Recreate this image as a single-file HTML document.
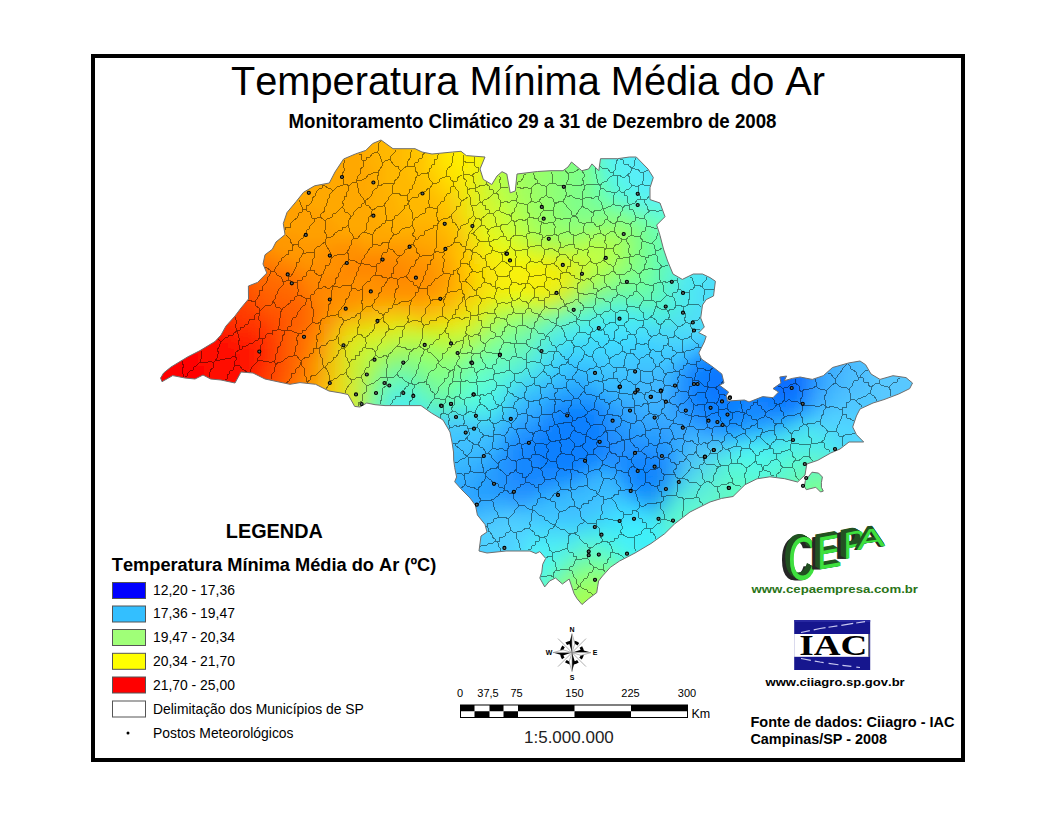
<!DOCTYPE html>
<html><head><meta charset="utf-8">
<style>
html,body{margin:0;padding:0;background:#fff;width:1056px;height:816px;overflow:hidden}
svg{position:absolute;left:0;top:0}
text{font-family:"Liberation Sans",sans-serif;font-kerning:none}
</style></head><body>
<svg width="1056" height="816" viewBox="0 0 1056 816">
<defs>
<clipPath id="sp"><polygon points="160.6,378.0 163.6,373.0 171.0,367.0 188.0,356.7 200.0,350.6 215.0,341.5 221.0,335.0 226.0,326.0 235.0,316.0 241.0,308.0 248.5,299.0 248.4,286.0 257.6,282.4 266.8,273.0 263.0,264.0 265.0,254.8 272.3,249.3 276.0,242.0 285.0,234.6 283.3,223.5 287.0,212.5 296.2,201.5 303.5,192.3 314.6,185.8 329.3,183.0 335.0,172.0 343.6,159.0 355.6,153.9 365.8,150.4 372.6,143.6 381.0,140.0 393.0,148.7 415.0,148.7 422.0,152.0 432.0,154.0 452.7,152.0 461.0,151.3 466.3,155.6 485.0,157.0 480.0,169.0 483.3,179.4 491.8,184.5 497.0,176.0 502.0,171.7 506.8,174.0 510.2,192.8 515.3,191.0 517.0,174.0 537.5,171.5 551.0,170.7 563.0,170.7 568.0,167.0 571.5,162.0 581.8,170.7 588.6,169.0 592.0,163.9 598.8,170.7 600.5,158.7 617.5,158.7 629.5,157.0 636.3,157.0 648.0,169.0 653.3,177.5 650.0,187.7 650.0,199.6 660.0,203.0 665.0,216.7 656.7,225.0 660.0,235.4 663.5,249.0 667.6,261.0 673.0,274.0 682.3,279.4 693.3,274.0 702.5,274.0 710.0,277.6 715.4,281.2 713.5,296.0 706.2,299.6 702.5,305.0 700.7,318.0 704.3,327.0 698.8,332.7 706.2,336.4 704.3,342.0 698.8,353.0 701.4,359.0 711.6,366.0 721.8,373.9 724.0,383.0 719.5,385.2 728.6,392.0 726.4,395.5 727.5,401.0 744.5,400.0 749.0,402.0 762.7,396.6 773.0,397.7 778.6,392.0 773.0,388.6 781.0,383.0 779.8,377.0 786.6,376.0 784.3,380.7 792.3,378.4 800.2,377.0 803.0,377.6 812.3,379.4 823.3,375.7 832.5,367.5 849.0,362.9 860.0,361.0 865.6,364.7 871.0,374.0 880.0,379.4 893.0,375.7 906.0,377.6 912.5,383.0 909.7,388.6 898.7,394.0 884.0,399.6 873.0,403.0 860.0,409.0 856.4,416.0 852.7,427.0 856.4,434.6 863.7,442.0 849.0,442.0 840.0,449.0 830.7,453.0 817.8,460.3 806.8,464.0 805.0,475.0 797.6,482.0 784.7,478.7 770.0,476.8 757.0,478.8 745.0,484.7 733.0,496.5 721.6,498.4 710.0,502.0 690.0,512.0 674.5,524.0 664.7,533.7 651.0,543.5 635.0,553.0 619.6,561.0 610.4,567.3 602.5,576.0 598.6,581.0 597.6,586.9 596.7,592.7 588.8,598.6 582.0,604.5 577.0,598.6 574.1,593.7 571.2,585.0 569.2,579.0 562.4,584.0 555.5,578.0 549.6,581.0 544.7,586.9 539.8,578.0 541.8,572.2 542.7,564.3 545.7,558.4 539.8,551.6 535.9,553.5 530.0,551.0 525.0,551.0 506.0,551.0 487.0,553.0 479.0,551.0 481.0,536.0 487.0,532.0 485.0,524.5 477.4,515.0 475.5,505.5 470.0,498.0 462.0,490.0 454.7,481.8 456.6,477.0 454.7,467.6 453.7,460.0 453.5,452.0 452.0,442.0 450.0,432.0 443.0,420.0 431.4,413.0 421.0,405.6 409.0,405.6 399.0,405.6 385.0,405.6 375.0,404.7 366.7,403.0 360.0,407.0 354.7,406.4 348.0,394.5 341.0,393.0 329.0,391.0 315.6,384.3 300.0,382.6 290.0,384.3 279.0,382.0 265.0,379.0 253.0,373.0 241.0,372.0 235.0,383.0 221.0,380.0 210.6,379.0 203.0,375.0 195.0,379.0 185.0,378.0 172.7,375.6 162.0,381.7"/><polygon points="805.3,480.7 812.0,472.2 818.6,473.1 822.4,477.0 821.4,482.6 821.4,487.3 823.3,491.1 820.5,492.0 815.8,487.3 806.3,489.7 804.4,486.4"/></clipPath>
<filter id="bl" x="-5%" y="-5%" width="110%" height="110%"><feGaussianBlur stdDeviation="4"/></filter>
<linearGradient id="iacb" x1="0" y1="0" x2="1" y2="1"><stop offset="0" stop-color="#3a3aa8"/><stop offset="1" stop-color="#1c1c78"/></linearGradient>
</defs>
<rect x="93" y="56" width="870" height="704" fill="none" stroke="#000" stroke-width="4"/>
<text x="231" y="94.8" font-size="41.5" textLength="594" lengthAdjust="spacingAndGlyphs">Temperatura Mínima Média do Ar</text>
<text x="288.5" y="127.8" font-size="20" font-weight="bold" textLength="488" lengthAdjust="spacingAndGlyphs">Monitoramento Climático 29 a 31 de Dezembro de 2008</text>
<g clip-path="url(#sp)">
<g filter="url(#bl)"><path fill="#c8b848" d="M150 132h12v6h-12zM150 138h6v6h-6zM264 516h6v6h-6z"/><path fill="#c8b840" d="M162 132h6v6h-6zM156 138h12v6h-12zM150 144h12v6h-12zM150 150h12v6h-12zM150 156h6v6h-6zM150 162h6v6h-6z"/><path fill="#d0b838" d="M168 132h6v6h-6zM162 144h6v6h-6zM270 516h6v6h-6z"/><path fill="#e8b018" d="M174 132h6v6h-6z"/><path fill="#f8a808" d="M180 132h6v6h-6zM174 144h6v6h-6zM168 156h6v6h-6zM168 162h6v6h-6zM162 186h6v6h-6zM342 312h6v6h-6zM330 324h6v6h-6zM324 336h6v6h-6zM318 360h6v6h-6zM318 366h6v6h-6zM318 372h6v6h-6zM270 504h6v6h-6z"/><path fill="#ffa800" d="M186 132h180v6h-180zM180 138h186v6h-186zM180 144h186v6h-186zM174 150h192v6h-192zM174 156h192v6h-192zM174 162h192v6h-192zM168 168h204v6h-204zM168 174h204v6h-204zM168 180h204v6h-204zM168 186h204v6h-204zM198 192h174v6h-174zM288 198h84v6h-84zM312 204h60v6h-60zM324 210h54v6h-54zM330 216h48v6h-48zM336 222h48v6h-48zM342 228h54v6h-54zM366 234h66v6h-66zM420 240h18v6h-18zM432 246h12v6h-12zM438 252h6v6h-6zM444 258h6v6h-6zM444 264h6v6h-6zM450 276h6v6h-6zM444 288h6v6h-6zM438 294h6v6h-6zM378 300h6v6h-6zM402 300h12v6h-12zM420 300h12v6h-12z"/><path fill="#ffb000" d="M366 132h6v6h-6zM366 138h12v6h-12zM366 144h12v6h-12zM366 150h12v6h-12zM366 156h12v6h-12zM366 162h18v6h-18zM372 168h12v6h-12zM372 174h12v6h-12zM372 180h12v6h-12zM372 186h18v6h-18zM372 192h18v6h-18zM372 198h24v6h-24zM372 204h24v6h-24zM378 210h24v6h-24zM378 216h30v6h-30zM384 222h48v6h-48zM396 228h42v6h-42zM432 234h12v6h-12zM438 240h12v6h-12zM444 246h6v6h-6zM444 252h6v6h-6zM450 258h6v6h-6zM450 264h6v6h-6zM450 270h6v6h-6zM450 282h6v6h-6zM450 288h6v6h-6zM444 294h6v6h-6zM432 300h12v6h-12z"/><path fill="#ffb800" d="M372 132h30v6h-30zM378 138h24v6h-24zM378 144h24v6h-24zM378 150h24v6h-24zM378 156h24v6h-24zM384 162h18v6h-18zM384 168h24v6h-24zM384 174h24v6h-24zM384 180h30v6h-30zM390 186h30v6h-30zM390 192h30v6h-30zM396 198h36v6h-36zM396 204h36v6h-36zM402 210h36v6h-36zM408 216h36v6h-36zM432 222h12v6h-12zM438 228h12v6h-12zM444 234h6v6h-6zM450 240h6v6h-6zM450 246h6v6h-6zM450 252h6v6h-6zM456 264h6v6h-6zM456 270h6v6h-6zM456 276h6v6h-6zM456 282h6v6h-6zM456 288h6v6h-6zM450 294h6v6h-6z"/><path fill="#ffc000" d="M402 132h12v6h-12zM402 138h12v6h-12zM402 144h12v6h-12zM402 150h12v6h-12zM402 156h18v6h-18zM402 162h18v6h-18zM408 168h12v6h-12zM408 174h18v6h-18zM414 180h12v6h-12zM420 186h12v6h-12zM420 192h18v6h-18zM432 198h12v6h-12zM432 204h12v6h-12zM438 210h12v6h-12zM444 216h6v6h-6zM444 222h6v6h-6zM450 228h6v6h-6zM450 234h6v6h-6zM456 246h6v6h-6zM456 252h6v6h-6zM456 258h6v6h-6zM462 270h6v6h-6zM462 276h6v6h-6zM462 282h6v6h-6z"/><path fill="#ffc800" d="M414 132h6v6h-6zM414 138h6v6h-6zM414 144h12v6h-12zM414 150h12v6h-12zM420 156h6v6h-6zM420 162h6v6h-6zM420 168h6v6h-6zM426 174h6v6h-6zM426 180h12v6h-12zM432 186h6v6h-6zM438 192h6v6h-6zM444 198h6v6h-6zM444 204h6v6h-6zM462 252h6v6h-6zM462 258h6v6h-6zM462 264h6v6h-6zM468 276h6v6h-6z"/><path fill="#ffd000" d="M420 132h6v6h-6zM420 138h6v6h-6zM426 144h6v6h-6zM426 150h6v6h-6zM426 156h6v6h-6zM426 162h6v6h-6zM426 168h12v6h-12zM432 174h6v6h-6zM438 180h6v6h-6zM438 186h12v6h-12zM444 192h6v6h-6zM468 264h6v6h-6zM468 270h6v6h-6z"/><path fill="#ffd800" d="M426 132h6v6h-6zM426 138h6v6h-6zM432 144h6v6h-6zM432 150h6v6h-6zM432 156h6v6h-6zM432 162h6v6h-6zM438 168h6v6h-6zM438 174h6v6h-6zM444 180h6v6h-6zM474 270h6v6h-6z"/><path fill="#ffe000" d="M432 132h6v6h-6zM432 138h12v6h-12zM438 144h6v6h-6zM438 150h6v6h-6zM438 156h6v6h-6zM438 162h12v6h-12zM444 168h6v6h-6zM444 174h12v6h-12zM450 180h6v6h-6z"/><path fill="#ffe800" d="M438 132h12v6h-12zM444 138h6v6h-6zM444 144h12v6h-12zM444 150h12v6h-12zM444 156h12v6h-12zM450 162h12v6h-12zM450 168h12v6h-12z"/><path fill="#fff000" d="M450 132h18v6h-18zM450 138h24v6h-24zM456 144h18v6h-18zM456 150h18v6h-18zM456 156h18v6h-18zM462 162h6v6h-6z"/><path fill="#fff800" d="M468 132h18v6h-18zM474 138h6v6h-6zM474 144h6v6h-6z"/><path fill="#f8f808" d="M486 132h6v6h-6zM480 138h12v6h-12zM480 144h6v6h-6zM474 150h12v6h-12zM474 156h6v6h-6zM516 264h6v6h-6z"/><path fill="#f0f810" d="M492 132h6v6h-6zM486 144h6v6h-6zM480 156h6v6h-6zM504 252h6v6h-6zM510 258h18v6h-18zM516 288h6v6h-6z"/><path fill="#e0f820" d="M498 132h6v6h-6zM492 144h6v6h-6zM486 156h6v6h-6zM480 168h6v6h-6zM486 222h6v6h-6zM486 228h12v6h-12zM492 234h12v6h-12zM498 240h12v6h-12zM510 246h12v6h-12zM522 252h12v6h-12zM516 294h18v6h-18z"/><path fill="#c8ff38" d="M504 132h6v6h-6zM498 204h6v6h-6zM498 210h6v6h-6zM504 216h6v6h-6zM504 222h6v6h-6zM510 228h6v6h-6zM516 234h6v6h-6z"/><path fill="#b0ff50" d="M510 132h6v6h-6zM510 138h6v6h-6zM504 150h6v6h-6zM504 156h6v6h-6zM504 174h6v6h-6zM504 180h6v6h-6zM504 186h12v6h-12zM510 192h6v6h-6zM510 198h6v6h-6zM516 204h6v6h-6zM516 210h6v6h-6zM522 216h6v6h-6zM522 222h6v6h-6zM528 228h6v6h-6zM534 234h6v6h-6zM588 240h18v6h-18zM606 246h6v6h-6zM606 252h6v6h-6zM606 258h6v6h-6zM600 264h6v6h-6zM594 270h6v6h-6z"/><path fill="#a8ff58" d="M516 132h6v6h-6zM510 144h6v6h-6zM510 150h6v6h-6zM504 162h6v6h-6zM504 168h12v6h-12zM510 174h6v6h-6zM510 180h12v6h-12zM516 186h6v6h-6zM516 192h6v6h-6zM516 198h12v6h-12zM522 204h6v6h-6zM522 210h6v6h-6zM528 216h6v6h-6zM528 222h6v6h-6zM534 228h6v6h-6zM540 234h12v6h-12zM564 240h18v6h-18zM606 240h12v6h-12zM612 246h6v6h-6zM612 252h6v6h-6zM606 264h6v6h-6zM600 270h6v6h-6zM594 276h6v6h-6zM438 348h12v6h-12zM594 594h6v6h-6zM576 600h12v6h-12zM618 600h12v6h-12zM564 606h12v6h-12zM642 606h6v6h-6z"/><path fill="#a0ff60" d="M522 132h6v6h-6zM516 138h12v6h-12zM516 144h6v6h-6zM516 150h6v6h-6zM516 156h12v6h-12zM516 162h12v6h-12zM516 168h12v6h-12zM516 174h12v6h-12zM522 180h6v6h-6zM522 186h12v6h-12zM522 192h12v6h-12zM528 198h6v6h-6zM528 204h6v6h-6zM528 210h12v6h-12zM534 216h6v6h-6zM534 222h12v6h-12zM540 228h12v6h-12zM552 234h12v6h-12zM582 234h6v6h-6zM612 234h6v6h-6zM618 240h6v6h-6zM618 246h6v6h-6zM618 252h6v6h-6zM420 348h12v6h-12zM582 588h30v6h-30zM570 594h12v6h-12zM618 594h12v6h-12zM564 600h6v6h-6zM636 600h12v6h-12zM558 606h6v6h-6zM654 606h6v6h-6z"/><path fill="#98ff68" d="M528 132h18v6h-18zM528 138h18v6h-18zM528 144h18v6h-18zM528 150h18v6h-18zM528 156h18v6h-18zM528 162h18v6h-18zM528 168h18v6h-18zM528 174h12v6h-12zM528 180h12v6h-12zM534 186h6v6h-6zM534 192h6v6h-6zM534 198h12v6h-12zM534 204h12v6h-12zM540 210h6v6h-6zM540 216h12v6h-12zM546 222h6v6h-6zM552 228h12v6h-12zM594 228h6v6h-6zM606 228h6v6h-6zM618 234h6v6h-6zM426 354h24v6h-24zM588 582h18v6h-18zM576 588h6v6h-6zM612 588h12v6h-12zM564 594h6v6h-6zM636 594h6v6h-6zM558 600h6v6h-6zM648 600h6v6h-6zM552 606h6v6h-6z"/><path fill="#90ff70" d="M546 132h12v6h-12zM546 138h12v6h-12zM546 144h12v6h-12zM546 150h12v6h-12zM546 156h6v6h-6zM546 162h6v6h-6zM546 168h6v6h-6zM546 174h6v6h-6zM546 180h6v6h-6zM546 186h6v6h-6zM546 192h6v6h-6zM546 198h6v6h-6zM546 204h6v6h-6zM546 210h12v6h-12zM552 216h6v6h-6zM558 222h6v6h-6zM570 228h6v6h-6zM624 234h6v6h-6zM624 258h6v6h-6zM408 354h6v6h-6zM576 582h6v6h-6zM612 582h6v6h-6z"/><path fill="#88ff78" d="M558 132h6v6h-6zM558 138h6v6h-6zM558 144h6v6h-6zM558 150h6v6h-6zM558 156h6v6h-6zM558 162h6v6h-6zM558 168h6v6h-6zM558 174h6v6h-6zM558 180h6v6h-6zM558 186h6v6h-6zM558 192h6v6h-6zM558 198h6v6h-6zM558 204h6v6h-6zM558 210h6v6h-6zM564 216h6v6h-6zM630 252h6v6h-6zM420 360h6v6h-6zM816 516h48v6h-48zM810 522h60v6h-60zM810 528h72v6h-72zM804 534h84v6h-84zM804 540h90v6h-90zM798 546h108v6h-108zM798 552h114v6h-114zM798 558h120v6h-120zM798 564h120v6h-120zM798 570h114v6h-114zM792 576h114v6h-114zM792 582h108v6h-108zM792 588h102v6h-102zM792 594h90v6h-90zM792 600h78v6h-78zM798 606h60v6h-60z"/><path fill="#88ff80" d="M564 132h6v6h-6zM564 138h6v6h-6zM564 144h6v6h-6zM564 150h6v6h-6zM564 156h6v6h-6zM564 162h6v6h-6zM564 168h6v6h-6zM564 174h6v6h-6zM564 180h6v6h-6zM564 186h6v6h-6zM564 192h6v6h-6zM564 198h6v6h-6zM564 204h6v6h-6zM564 210h12v6h-12zM570 216h12v6h-12zM594 216h12v6h-12zM624 222h6v6h-6zM630 228h6v6h-6zM630 234h6v6h-6zM630 258h6v6h-6zM624 270h6v6h-6zM414 360h6v6h-6zM426 366h24v6h-24zM822 504h30v6h-30zM816 510h48v6h-48zM810 516h6v6h-6zM864 516h12v6h-12zM804 522h6v6h-6zM870 522h12v6h-12zM804 528h6v6h-6zM882 528h6v6h-6zM798 534h6v6h-6zM888 534h6v6h-6zM798 540h6v6h-6zM894 540h6v6h-6zM792 552h6v6h-6zM792 558h6v6h-6zM792 564h6v6h-6zM792 570h6v6h-6zM576 576h6v6h-6zM606 576h6v6h-6zM624 582h6v6h-6zM666 600h6v6h-6zM792 606h6v6h-6z"/><path fill="#80ff88" d="M570 132h6v6h-6zM576 138h6v6h-6zM576 144h6v6h-6zM576 150h6v6h-6zM576 156h6v6h-6zM576 162h6v6h-6zM576 168h6v6h-6zM570 174h12v6h-12zM570 180h12v6h-12zM570 186h12v6h-12zM570 192h12v6h-12zM570 198h12v6h-12zM570 204h12v6h-12zM576 210h18v6h-18zM636 234h6v6h-6zM636 240h6v6h-6zM636 246h6v6h-6zM636 252h6v6h-6zM636 258h6v6h-6zM630 270h6v6h-6zM420 366h6v6h-6zM450 366h6v6h-6zM432 372h12v6h-12zM822 492h12v6h-12zM810 498h42v6h-42zM804 504h12v6h-12zM852 504h6v6h-6zM798 510h12v6h-12zM798 516h6v6h-6zM792 522h6v6h-6zM792 528h6v6h-6zM786 540h6v6h-6zM786 546h6v6h-6zM786 552h6v6h-6zM786 558h6v6h-6zM786 564h6v6h-6zM600 570h6v6h-6zM786 606h6v6h-6z"/><path fill="#80ff90" d="M576 132h6v6h-6zM582 192h6v6h-6zM582 198h6v6h-6zM582 204h12v6h-12zM594 210h18v6h-18zM624 216h6v6h-6zM630 222h6v6h-6zM636 228h6v6h-6zM636 264h6v6h-6zM624 276h6v6h-6zM618 282h6v6h-6zM510 330h6v6h-6zM462 360h6v6h-6zM456 366h6v6h-6zM426 372h6v6h-6zM444 372h6v6h-6zM438 378h6v6h-6zM816 492h6v6h-6zM834 492h6v6h-6zM804 498h6v6h-6zM798 504h6v6h-6zM792 516h6v6h-6zM576 570h6v6h-6zM606 570h6v6h-6zM618 576h6v6h-6zM636 582h6v6h-6zM648 588h6v6h-6zM660 594h6v6h-6z"/><path fill="#78ffa0" d="M582 132h6v6h-6zM588 168h6v6h-6zM588 174h6v6h-6zM594 198h6v6h-6zM606 204h6v6h-6zM618 210h6v6h-6zM630 216h6v6h-6zM510 336h6v6h-6zM504 342h6v6h-6zM492 348h6v6h-6zM480 354h6v6h-6zM462 366h6v6h-6zM456 372h6v6h-6zM450 378h6v6h-6zM444 384h6v6h-6zM816 480h6v6h-6zM804 486h6v6h-6zM792 498h6v6h-6zM786 510h6v6h-6zM600 564h6v6h-6zM618 570h6v6h-6zM630 576h6v6h-6zM642 582h6v6h-6zM534 606h6v6h-6z"/><path fill="#70f8b8" d="M588 132h6v6h-6zM600 300h6v6h-6zM570 312h6v6h-6zM558 318h6v6h-6zM534 330h6v6h-6zM528 336h6v6h-6zM510 348h6v6h-6zM384 384h6v6h-6zM378 396h6v6h-6zM558 570h6v6h-6z"/><path fill="#60f8d0" d="M594 132h6v6h-6zM600 162h6v6h-6zM606 180h6v6h-6zM612 192h6v6h-6zM624 198h6v6h-6zM672 222h6v6h-6zM672 228h6v6h-6zM672 234h6v6h-6zM672 240h6v6h-6zM672 246h6v6h-6zM672 252h6v6h-6zM504 366h6v6h-6zM492 372h6v6h-6zM486 378h6v6h-6zM462 396h6v6h-6zM810 456h6v6h-6zM792 462h6v6h-6zM786 468h6v6h-6zM720 480h24v6h-24zM720 486h6v6h-6zM714 492h6v6h-6zM702 498h12v6h-12zM690 504h24v6h-24zM684 510h30v6h-30zM678 516h24v6h-24zM678 522h12v6h-12zM672 528h12v6h-12zM582 546h18v6h-18zM570 552h6v6h-6zM618 558h6v6h-6zM540 582h6v6h-6zM660 582h6v6h-6zM534 588h6v6h-6z"/><path fill="#58f0e8" d="M600 132h6v6h-6zM606 150h6v6h-6zM690 234h6v6h-6zM690 240h6v6h-6zM684 246h6v6h-6zM684 252h6v6h-6zM684 258h6v6h-6zM684 264h6v6h-6zM678 276h6v6h-6zM384 420h6v6h-6zM810 444h6v6h-6zM378 456h6v6h-6zM378 462h6v6h-6zM564 546h6v6h-6z"/><path fill="#58f0f0" d="M606 132h6v6h-6zM606 138h6v6h-6zM606 144h6v6h-6zM612 150h6v6h-6zM612 156h6v6h-6zM612 162h12v6h-12zM792 162h6v6h-6zM618 168h6v6h-6zM624 174h6v6h-6zM624 180h12v6h-12zM630 186h12v6h-12zM642 192h12v6h-12zM702 216h6v6h-6zM696 222h6v6h-6zM696 228h6v6h-6zM696 234h6v6h-6zM696 240h6v6h-6zM690 246h12v6h-12zM690 252h12v6h-12zM690 258h6v6h-6z"/><path fill="#58f0f8" d="M612 132h12v6h-12zM612 138h12v6h-12zM768 138h12v6h-12zM612 144h18v6h-18zM762 144h18v6h-18zM618 150h12v6h-12zM750 150h24v6h-24zM780 150h6v6h-6zM618 156h18v6h-18zM732 156h24v6h-24zM786 156h6v6h-6zM624 162h12v6h-12zM714 162h30v6h-30zM786 162h6v6h-6zM624 168h18v6h-18zM702 168h24v6h-24zM792 168h6v6h-6zM630 174h18v6h-18zM672 174h42v6h-42zM798 174h6v6h-6zM636 180h60v6h-60zM642 186h36v6h-36zM804 186h6v6h-6zM654 192h6v6h-6zM726 198h6v6h-6zM714 204h12v6h-12zM708 210h18v6h-18zM708 216h18v6h-18zM702 222h24v6h-24zM702 228h18v6h-18zM702 234h18v6h-18zM702 240h18v6h-18zM702 246h12v6h-12z"/><path fill="#58e8ff" d="M624 132h48v6h-48zM744 132h30v6h-30zM630 138h42v6h-42zM726 138h42v6h-42zM630 144h48v6h-48zM702 144h48v6h-48zM636 150h102v6h-102zM642 156h78v6h-78zM648 162h60v6h-60zM654 168h36v6h-36zM810 204h6v6h-6zM798 210h18v6h-18zM780 216h12v6h-12zM762 222h18v6h-18zM750 228h12v6h-12zM738 234h12v6h-12zM726 240h6v6h-6z"/><path fill="#58e0ff" d="M672 132h72v6h-72zM672 138h54v6h-54zM678 144h24v6h-24z"/><path fill="#60e8f8" d="M774 132h6v6h-6z"/><path fill="#68e8e0" d="M780 132h6v6h-6zM792 156h6v6h-6z"/><path fill="#78e0b0" d="M786 132h6v6h-6zM792 144h6v6h-6z"/><path fill="#80d8a0" d="M792 132h102v6h-102zM798 138h96v6h-96zM798 144h90v6h-90zM804 150h78v6h-78zM810 156h24v6h-24z"/><path fill="#80d0a0" d="M894 132h30v6h-30zM894 138h30v6h-30zM888 144h36v6h-36zM360 600h6v6h-6z"/><path fill="#d8b030" d="M168 138h6v6h-6zM162 150h6v6h-6zM156 174h6v6h-6zM156 180h6v6h-6z"/><path fill="#f0a810" d="M174 138h6v6h-6zM168 150h6v6h-6zM162 174h6v6h-6z"/><path fill="#e8f818" d="M492 138h6v6h-6zM486 150h6v6h-6zM480 162h6v6h-6zM486 234h6v6h-6zM492 240h6v6h-6zM498 246h12v6h-12zM510 252h12v6h-12zM528 258h12v6h-12z"/><path fill="#d8f828" d="M498 138h6v6h-6zM492 150h6v6h-6zM486 162h6v6h-6zM480 174h6v6h-6zM480 180h6v6h-6zM480 186h6v6h-6zM480 192h6v6h-6zM480 198h6v6h-6zM480 204h6v6h-6zM486 210h6v6h-6zM486 216h6v6h-6zM492 222h6v6h-6zM498 228h6v6h-6zM504 234h6v6h-6zM510 240h6v6h-6zM522 246h6v6h-6zM534 252h12v6h-12zM564 258h6v6h-6zM570 264h6v6h-6zM504 300h6v6h-6z"/><path fill="#c0ff40" d="M504 138h6v6h-6zM498 150h6v6h-6zM492 168h6v6h-6zM492 174h6v6h-6zM492 180h6v6h-6zM492 186h6v6h-6zM498 192h6v6h-6zM498 198h6v6h-6zM504 204h6v6h-6zM504 210h6v6h-6zM510 216h6v6h-6zM510 222h6v6h-6zM516 228h6v6h-6zM522 234h6v6h-6zM582 252h12v6h-12zM588 258h6v6h-6zM588 264h6v6h-6z"/><path fill="#80ff80" d="M570 138h6v6h-6zM570 144h6v6h-6zM570 150h6v6h-6zM570 156h6v6h-6zM570 162h6v6h-6zM570 168h6v6h-6zM816 504h6v6h-6zM810 510h6v6h-6zM804 516h6v6h-6zM798 522h6v6h-6zM798 528h6v6h-6zM792 534h6v6h-6zM792 540h6v6h-6zM792 546h6v6h-6zM786 570h6v6h-6zM786 576h6v6h-6zM786 582h6v6h-6zM786 588h6v6h-6zM786 594h6v6h-6zM786 600h6v6h-6z"/><path fill="#78ff98" d="M582 138h6v6h-6zM582 144h6v6h-6zM582 150h6v6h-6zM588 180h6v6h-6zM588 186h6v6h-6zM588 192h6v6h-6zM588 198h6v6h-6zM594 204h12v6h-12zM636 222h6v6h-6zM642 228h6v6h-6zM642 234h6v6h-6zM642 258h6v6h-6zM642 264h6v6h-6zM642 270h6v6h-6zM636 276h6v6h-6zM624 282h12v6h-12zM444 378h6v6h-6zM438 384h6v6h-6zM810 486h24v6h-24zM798 492h12v6h-12zM798 498h6v6h-6zM792 504h6v6h-6zM786 516h6v6h-6zM780 534h6v6h-6zM780 540h6v6h-6zM582 564h6v6h-6zM594 564h6v6h-6zM612 570h6v6h-6z"/><path fill="#70f8b0" d="M588 138h6v6h-6zM612 294h6v6h-6zM582 306h6v6h-6zM540 324h6v6h-6zM522 336h6v6h-6zM516 342h6v6h-6zM390 378h6v6h-6zM378 390h6v6h-6zM810 474h24v6h-24zM840 480h6v6h-6zM576 558h12v6h-12zM570 564h6v6h-6zM636 576h6v6h-6zM648 582h6v6h-6zM660 588h6v6h-6zM690 606h6v6h-6z"/><path fill="#68f8c8" d="M594 138h6v6h-6zM594 144h6v6h-6zM618 198h6v6h-6zM630 204h6v6h-6zM642 210h6v6h-6zM564 318h6v6h-6zM504 360h6v6h-6zM492 366h6v6h-6zM576 552h6v6h-6zM696 606h6v6h-6z"/><path fill="#58f8e0" d="M600 138h6v6h-6zM606 162h6v6h-6zM606 168h6v6h-6zM612 180h6v6h-6zM618 186h6v6h-6zM624 192h6v6h-6zM684 222h6v6h-6zM684 228h6v6h-6zM684 234h6v6h-6zM684 240h6v6h-6zM678 252h6v6h-6zM492 384h6v6h-6zM486 390h6v6h-6zM468 402h6v6h-6zM780 456h6v6h-6zM732 462h18v6h-18zM768 462h12v6h-12zM744 468h24v6h-24zM666 534h6v6h-6zM672 552h6v6h-6zM552 558h6v6h-6zM546 564h6v6h-6zM678 564h6v6h-6zM540 570h6v6h-6zM534 582h6v6h-6zM684 582h6v6h-6zM528 588h6v6h-6zM678 588h12v6h-12zM522 594h6v6h-6zM516 606h6v6h-6z"/><path fill="#58e8f8" d="M624 138h6v6h-6zM630 150h6v6h-6zM636 156h6v6h-6zM636 162h12v6h-12zM642 168h12v6h-12zM648 174h24v6h-24zM810 198h6v6h-6zM816 210h6v6h-6zM816 216h6v6h-6zM714 246h6v6h-6zM702 252h12v6h-12zM696 258h6v6h-6z"/><path fill="#60f0f0" d="M780 138h6v6h-6z"/><path fill="#70e0c8" d="M786 138h6v6h-6zM804 168h6v6h-6z"/><path fill="#80d8a8" d="M792 138h6v6h-6z"/><path fill="#e8b020" d="M168 144h6v6h-6z"/><path fill="#c8f830" d="M498 144h6v6h-6z"/><path fill="#b8ff48" d="M504 144h6v6h-6zM498 156h6v6h-6zM498 162h6v6h-6zM498 168h6v6h-6zM498 174h6v6h-6zM498 180h6v6h-6zM498 186h6v6h-6zM504 192h6v6h-6zM504 198h6v6h-6zM510 204h6v6h-6zM510 210h6v6h-6zM516 216h6v6h-6zM516 222h6v6h-6zM522 228h6v6h-6zM528 234h6v6h-6zM576 246h30v6h-30zM600 252h6v6h-6zM600 258h6v6h-6zM594 264h6v6h-6z"/><path fill="#98ff60" d="M522 144h6v6h-6zM522 150h6v6h-6z"/><path fill="#70f8a8" d="M588 144h6v6h-6zM594 300h6v6h-6zM396 372h12v6h-12zM414 378h6v6h-6zM426 384h6v6h-6zM432 390h12v6h-12zM834 480h6v6h-6zM588 558h6v6h-6z"/><path fill="#60f8e0" d="M600 144h6v6h-6zM636 198h6v6h-6zM648 204h12v6h-12zM666 210h18v6h-18zM678 216h12v6h-12z"/><path fill="#58f0ff" d="M750 144h12v6h-12zM738 150h12v6h-12zM720 156h12v6h-12zM708 162h6v6h-6zM780 162h6v6h-6zM690 168h12v6h-12zM768 168h24v6h-24zM762 174h36v6h-36zM750 180h54v6h-54zM744 186h60v6h-60zM732 192h78v6h-78zM732 198h78v6h-78zM726 204h84v6h-84zM726 210h72v6h-72zM726 216h54v6h-54zM726 222h36v6h-36zM720 228h30v6h-30zM720 234h18v6h-18zM720 240h6v6h-6z"/><path fill="#60f0f8" d="M780 144h6v6h-6z"/><path fill="#68e8d8" d="M786 144h6v6h-6zM876 492h6v6h-6zM882 498h6v6h-6z"/><path fill="#70ffa8" d="M588 150h6v6h-6zM588 156h6v6h-6zM594 186h6v6h-6zM600 198h6v6h-6zM612 204h6v6h-6zM648 228h6v6h-6zM654 240h6v6h-6zM654 246h6v6h-6zM648 276h6v6h-6zM630 288h12v6h-12zM510 342h6v6h-6zM462 372h6v6h-6zM456 378h6v6h-6zM450 384h6v6h-6zM444 390h6v6h-6zM804 480h6v6h-6zM792 486h6v6h-6zM792 492h6v6h-6zM786 498h6v6h-6zM780 510h6v6h-6zM774 528h6v6h-6z"/><path fill="#68f8c0" d="M594 150h6v6h-6zM594 156h6v6h-6zM624 204h6v6h-6zM576 312h6v6h-6zM546 324h6v6h-6zM540 330h6v6h-6zM534 336h6v6h-6zM528 342h6v6h-6zM522 348h6v6h-6zM510 354h12v6h-12zM498 360h6v6h-6zM390 384h6v6h-6zM384 390h6v6h-6zM420 390h6v6h-6zM804 468h6v6h-6zM828 468h6v6h-6zM792 474h6v6h-6zM786 480h6v6h-6zM582 552h18v6h-18zM570 558h6v6h-6zM642 576h6v6h-6zM546 582h6v6h-6zM654 582h6v6h-6z"/><path fill="#60f8d8" d="M600 150h6v6h-6zM600 156h6v6h-6zM618 192h6v6h-6zM630 198h6v6h-6zM642 204h6v6h-6zM654 210h12v6h-12zM672 216h6v6h-6zM678 222h6v6h-6zM678 228h6v6h-6zM678 234h6v6h-6zM558 558h6v6h-6zM552 564h6v6h-6zM546 570h6v6h-6z"/><path fill="#58f8f8" d="M774 150h6v6h-6zM756 156h30v6h-30zM744 162h30v6h-30zM726 168h36v6h-36zM714 174h42v6h-42zM696 180h48v6h-48zM678 186h60v6h-60zM660 192h72v6h-72zM696 198h30v6h-30zM708 204h6v6h-6z"/><path fill="#60f0e8" d="M786 150h6v6h-6z"/><path fill="#70e0c0" d="M792 150h6v6h-6z"/><path fill="#78d8a8" d="M798 150h6v6h-6zM804 156h6v6h-6zM810 162h66v6h-66zM810 168h60v6h-60zM816 174h48v6h-48zM822 180h36v6h-36zM822 186h36v6h-36zM828 192h24v6h-24zM834 198h12v6h-12z"/><path fill="#78d0a0" d="M882 150h42v6h-42z"/><path fill="#c8b040" d="M156 156h6v6h-6zM150 168h6v6h-6zM150 174h6v6h-6zM150 180h6v6h-6z"/><path fill="#e0b028" d="M162 156h6v6h-6z"/><path fill="#d0f830" d="M492 156h6v6h-6zM486 168h6v6h-6zM486 174h6v6h-6zM486 192h6v6h-6zM486 198h6v6h-6zM486 204h12v6h-12zM492 210h6v6h-6zM498 222h6v6h-6zM516 240h6v6h-6zM528 246h6v6h-6zM546 252h12v6h-12zM570 258h6v6h-6zM576 264h6v6h-6zM576 270h6v6h-6zM516 300h18v6h-18zM492 306h6v6h-6zM456 330h6v6h-6z"/><path fill="#a0ff58" d="M510 156h6v6h-6zM510 162h6v6h-6zM432 348h6v6h-6zM582 594h12v6h-12zM600 594h18v6h-18zM570 600h6v6h-6zM630 600h6v6h-6zM648 606h6v6h-6z"/><path fill="#90ff78" d="M552 156h6v6h-6zM552 162h6v6h-6zM552 168h6v6h-6zM552 174h6v6h-6zM552 180h6v6h-6zM552 186h6v6h-6zM552 192h6v6h-6zM552 198h6v6h-6zM552 204h6v6h-6zM558 216h6v6h-6zM564 222h54v6h-54zM624 228h6v6h-6zM630 240h6v6h-6zM630 246h6v6h-6zM624 264h6v6h-6zM618 270h6v6h-6zM426 360h24v6h-24zM582 576h24v6h-24zM570 582h6v6h-6zM618 582h6v6h-6zM564 588h6v6h-6zM630 588h6v6h-6zM558 594h6v6h-6zM648 594h6v6h-6zM552 600h6v6h-6zM660 600h6v6h-6zM546 606h6v6h-6zM672 606h6v6h-6z"/><path fill="#78ff90" d="M582 156h6v6h-6zM582 162h6v6h-6zM582 168h6v6h-6zM582 174h6v6h-6zM582 180h6v6h-6zM582 186h6v6h-6zM642 240h6v6h-6zM642 246h6v6h-6zM642 252h6v6h-6zM636 270h6v6h-6zM630 276h6v6h-6zM432 378h6v6h-6zM810 492h6v6h-6zM792 510h6v6h-6zM786 522h6v6h-6zM786 528h6v6h-6zM786 534h6v6h-6zM780 546h6v6h-6zM780 552h6v6h-6zM780 558h6v6h-6zM780 564h6v6h-6zM780 570h6v6h-6zM780 576h6v6h-6zM780 582h6v6h-6zM780 588h6v6h-6zM780 594h6v6h-6zM780 600h6v6h-6zM780 606h6v6h-6z"/><path fill="#58f8e8" d="M606 156h6v6h-6zM612 168h6v6h-6zM612 174h6v6h-6zM618 180h6v6h-6zM624 186h6v6h-6zM630 192h6v6h-6zM690 210h6v6h-6zM690 216h6v6h-6zM690 222h6v6h-6zM690 228h6v6h-6zM534 576h6v6h-6zM528 582h6v6h-6zM516 600h6v6h-6z"/><path fill="#78e0b8" d="M798 156h6v6h-6z"/><path fill="#78d8a0" d="M834 156h48v6h-48z"/><path fill="#78d0a8" d="M882 156h42v6h-42zM876 162h48v6h-48zM870 168h54v6h-54zM864 174h60v6h-60zM858 180h66v6h-66zM858 186h66v6h-66zM852 192h72v6h-72zM846 198h78v6h-78zM888 204h36v6h-36z"/><path fill="#d0b038" d="M156 162h6v6h-6zM156 168h6v6h-6zM150 192h6v6h-6z"/><path fill="#e8a820" d="M162 162h6v6h-6z"/><path fill="#f8f008" d="M468 162h12v6h-12zM462 168h12v6h-12zM492 258h6v6h-6zM498 264h18v6h-18zM498 270h48v6h-48zM498 276h48v6h-48zM498 282h42v6h-42z"/><path fill="#c8f838" d="M492 162h6v6h-6zM486 180h6v6h-6zM486 186h6v6h-6zM492 192h6v6h-6zM492 198h6v6h-6zM522 240h6v6h-6zM534 246h12v6h-12zM558 252h18v6h-18zM576 258h12v6h-12zM582 264h6v6h-6zM576 276h6v6h-6zM498 306h12v6h-12zM486 312h6v6h-6zM480 318h6v6h-6zM462 330h6v6h-6zM396 336h6v6h-6zM378 342h6v6h-6zM366 348h6v6h-6z"/><path fill="#70ffa0" d="M588 162h6v6h-6zM594 192h6v6h-6zM648 234h6v6h-6zM648 240h6v6h-6zM648 246h6v6h-6zM648 252h6v6h-6zM648 258h6v6h-6zM648 264h6v6h-6zM648 270h6v6h-6zM642 276h6v6h-6zM636 282h12v6h-12zM624 288h6v6h-6zM810 480h6v6h-6zM798 486h6v6h-6zM786 504h6v6h-6zM780 516h6v6h-6zM780 522h6v6h-6zM774 534h6v6h-6zM774 540h6v6h-6zM774 546h6v6h-6zM774 552h6v6h-6zM774 606h6v6h-6z"/><path fill="#68f8b8" d="M594 162h6v6h-6zM660 252h6v6h-6zM660 258h6v6h-6zM642 294h6v6h-6zM606 300h6v6h-6zM588 306h6v6h-6zM522 342h6v6h-6zM516 348h6v6h-6zM504 354h6v6h-6zM396 378h12v6h-12zM414 384h6v6h-6zM432 396h6v6h-6zM450 396h6v6h-6zM810 468h18v6h-18zM798 474h6v6h-6zM834 474h6v6h-6zM564 564h6v6h-6zM618 564h6v6h-6zM630 570h6v6h-6zM552 576h6v6h-6zM672 594h6v6h-6zM684 600h6v6h-6z"/><path fill="#58f8ff" d="M774 162h6v6h-6zM762 168h6v6h-6zM756 174h6v6h-6zM744 180h6v6h-6zM738 186h6v6h-6z"/><path fill="#68e8d0" d="M798 162h6v6h-6zM864 486h6v6h-6zM888 504h6v6h-6zM894 510h6v6h-6zM900 516h6v6h-6z"/><path fill="#78d8b0" d="M804 162h6v6h-6zM816 180h6v6h-6zM822 192h6v6h-6zM828 198h6v6h-6zM834 204h6v6h-6z"/><path fill="#f0a818" d="M162 168h6v6h-6z"/><path fill="#f0f010" d="M474 168h6v6h-6zM468 174h6v6h-6zM468 180h6v6h-6zM486 246h12v6h-12zM492 252h12v6h-12zM498 258h12v6h-12zM528 264h24v6h-24zM546 270h12v6h-12zM546 276h12v6h-12zM540 282h12v6h-12zM498 288h18v6h-18zM522 288h24v6h-24z"/><path fill="#68ffb8" d="M594 168h6v6h-6zM600 186h6v6h-6zM654 222h6v6h-6zM660 228h6v6h-6zM660 234h6v6h-6zM660 240h6v6h-6zM660 246h6v6h-6zM492 360h6v6h-6zM480 366h6v6h-6zM456 390h6v6h-6zM792 480h6v6h-6zM786 486h6v6h-6zM780 492h6v6h-6zM774 498h6v6h-6zM774 504h6v6h-6zM738 510h6v6h-6zM732 516h6v6h-6zM732 522h6v6h-6zM732 528h6v6h-6zM732 534h6v6h-6zM732 540h6v6h-6zM732 546h6v6h-6zM738 552h6v6h-6zM606 558h6v6h-6zM738 558h6v6h-6zM738 564h6v6h-6zM744 570h6v6h-6zM744 576h6v6h-6zM744 582h6v6h-6zM750 588h6v6h-6zM750 594h6v6h-6zM750 600h6v6h-6zM756 606h6v6h-6z"/><path fill="#60f8c8" d="M600 168h6v6h-6zM600 174h6v6h-6zM606 186h6v6h-6zM666 228h6v6h-6zM666 246h6v6h-6zM666 252h6v6h-6zM666 258h6v6h-6zM666 264h6v6h-6zM666 270h6v6h-6zM618 300h12v6h-12zM582 312h6v6h-6zM510 360h6v6h-6zM498 366h6v6h-6zM486 372h6v6h-6zM396 384h12v6h-12zM414 390h6v6h-6zM420 396h6v6h-6zM456 396h6v6h-6zM798 462h30v6h-30zM792 468h6v6h-6zM780 474h12v6h-12zM774 480h12v6h-12zM726 486h12v6h-12zM720 492h12v6h-12zM714 498h12v6h-12zM714 504h12v6h-12zM714 510h6v6h-6zM600 552h12v6h-12zM564 558h6v6h-6zM558 564h6v6h-6zM624 564h6v6h-6zM552 570h6v6h-6zM636 570h6v6h-6zM546 576h6v6h-6zM648 576h6v6h-6zM678 594h6v6h-6zM690 600h6v6h-6z"/><path fill="#60e8e8" d="M798 168h6v6h-6zM810 186h6v6h-6z"/><path fill="#f8e800" d="M456 174h6v6h-6z"/><path fill="#f8e808" d="M462 174h6v6h-6zM456 180h12v6h-12zM480 252h6v6h-6zM486 258h6v6h-6zM486 264h12v6h-12zM492 270h6v6h-6zM492 276h6v6h-6zM492 282h6v6h-6zM486 288h6v6h-6z"/><path fill="#e8f018" d="M474 174h6v6h-6zM468 186h6v6h-6zM468 192h6v6h-6zM474 216h6v6h-6zM480 228h6v6h-6zM480 234h6v6h-6zM486 240h6v6h-6zM540 258h6v6h-6zM552 264h12v6h-12zM558 270h6v6h-6zM558 276h6v6h-6zM546 288h6v6h-6zM498 294h12v6h-12z"/><path fill="#98ff70" d="M540 174h6v6h-6zM540 180h6v6h-6zM540 186h6v6h-6zM540 192h6v6h-6zM552 222h6v6h-6zM564 228h6v6h-6zM576 228h18v6h-18zM612 228h12v6h-12zM624 240h6v6h-6zM624 246h6v6h-6zM624 252h6v6h-6zM618 264h6v6h-6zM612 270h6v6h-6zM606 276h6v6h-6zM498 324h6v6h-6zM414 354h12v6h-12zM450 354h6v6h-6zM582 582h6v6h-6zM606 582h6v6h-6zM570 588h6v6h-6zM624 588h6v6h-6zM642 594h6v6h-6zM654 600h6v6h-6zM666 606h6v6h-6z"/><path fill="#70ffb0" d="M594 174h6v6h-6zM594 180h6v6h-6zM600 192h6v6h-6zM606 198h6v6h-6zM630 210h6v6h-6zM642 216h6v6h-6zM648 222h6v6h-6zM654 228h6v6h-6zM654 234h6v6h-6zM504 348h6v6h-6zM492 354h6v6h-6zM480 360h6v6h-6zM474 366h6v6h-6zM798 480h6v6h-6zM594 558h12v6h-12zM612 564h6v6h-6zM624 570h6v6h-6zM540 594h6v6h-6z"/><path fill="#58f8d8" d="M606 174h6v6h-6zM612 186h6v6h-6zM678 240h6v6h-6zM678 246h6v6h-6zM672 258h6v6h-6zM672 264h6v6h-6zM492 378h6v6h-6zM480 384h12v6h-12zM480 390h6v6h-6zM468 396h12v6h-12zM786 456h18v6h-18zM780 462h6v6h-6zM726 468h18v6h-18zM768 468h12v6h-12zM744 474h30v6h-30zM672 516h6v6h-6zM666 528h6v6h-6zM672 534h6v6h-6zM672 540h6v6h-6zM606 546h6v6h-6zM672 546h6v6h-6zM612 552h6v6h-6zM624 558h6v6h-6zM678 558h6v6h-6zM636 564h6v6h-6zM684 570h6v6h-6zM540 576h6v6h-6zM654 576h6v6h-6zM684 576h6v6h-6zM666 582h6v6h-6zM690 588h6v6h-6zM690 594h6v6h-6zM522 600h6v6h-6z"/><path fill="#58f8f0" d="M618 174h6v6h-6zM636 192h6v6h-6zM684 198h12v6h-12zM690 204h18v6h-18zM696 210h12v6h-12zM696 216h6v6h-6z"/><path fill="#60e8e0" d="M804 174h6v6h-6zM816 198h6v6h-6zM846 468h6v6h-6zM858 474h6v6h-6zM864 480h6v6h-6zM870 486h6v6h-6z"/><path fill="#70d8b8" d="M810 174h6v6h-6zM822 198h6v6h-6zM828 210h6v6h-6zM834 222h6v6h-6z"/><path fill="#f8a810" d="M162 180h6v6h-6z"/><path fill="#e0f020" d="M474 180h6v6h-6zM474 186h6v6h-6zM474 192h6v6h-6zM474 198h6v6h-6zM474 204h6v6h-6zM480 210h6v6h-6zM480 216h6v6h-6zM480 222h6v6h-6zM546 258h12v6h-12zM564 264h6v6h-6zM564 270h6v6h-6zM564 276h6v6h-6zM552 288h6v6h-6zM534 294h12v6h-12zM492 300h6v6h-6zM456 324h6v6h-6z"/><path fill="#68ffc0" d="M600 180h6v6h-6zM606 192h6v6h-6zM612 198h6v6h-6zM648 216h6v6h-6zM660 222h6v6h-6zM486 366h6v6h-6zM474 372h6v6h-6zM468 378h6v6h-6zM462 384h6v6h-6zM732 552h6v6h-6zM738 570h6v6h-6zM738 576h6v6h-6zM540 588h6v6h-6zM744 588h6v6h-6zM744 594h6v6h-6zM750 606h6v6h-6z"/><path fill="#58e8f0" d="M804 180h6v6h-6zM810 192h6v6h-6zM816 204h6v6h-6zM690 264h6v6h-6zM834 450h6v6h-6zM840 456h6v6h-6z"/><path fill="#68e0d0" d="M810 180h6v6h-6zM816 192h6v6h-6z"/><path fill="#d0b040" d="M150 186h6v6h-6z"/><path fill="#e0a828" d="M156 186h6v6h-6z"/><path fill="#f8d800" d="M450 186h6v6h-6zM474 264h6v6h-6zM474 276h6v6h-6zM474 282h6v6h-6z"/><path fill="#f8e008" d="M456 186h6v6h-6zM456 192h6v6h-6zM474 246h6v6h-6zM474 252h6v6h-6zM480 258h6v6h-6zM480 264h6v6h-6zM486 270h6v6h-6zM486 276h6v6h-6zM480 282h12v6h-12zM480 288h6v6h-6z"/><path fill="#f0e810" d="M462 186h6v6h-6zM462 192h6v6h-6zM468 216h6v6h-6zM474 234h6v6h-6zM480 240h6v6h-6zM480 246h6v6h-6zM486 252h6v6h-6zM486 294h6v6h-6z"/><path fill="#70d8c0" d="M816 186h6v6h-6z"/><path fill="#e0a820" d="M156 192h6v6h-6z"/><path fill="#f8a008" d="M162 192h6v6h-6zM330 318h6v6h-6zM324 330h6v6h-6zM318 348h6v6h-6zM318 354h6v6h-6zM312 384h6v6h-6z"/><path fill="#ffa000" d="M168 192h30v6h-30zM174 198h114v6h-114zM186 204h126v6h-126zM204 210h120v6h-120zM222 216h108v6h-108zM246 222h90v6h-90zM270 228h72v6h-72zM300 234h66v6h-66zM360 240h60v6h-60zM408 246h24v6h-24zM426 252h12v6h-12zM432 258h12v6h-12zM438 264h6v6h-6zM438 270h12v6h-12zM444 276h6v6h-6zM438 282h12v6h-12zM438 288h6v6h-6zM426 294h12v6h-12zM360 300h18v6h-18zM414 300h6v6h-6zM306 396h6v6h-6zM306 402h6v6h-6zM300 414h6v6h-6zM294 426h6v6h-6z"/><path fill="#f8d808" d="M450 192h6v6h-6zM456 198h6v6h-6zM456 204h6v6h-6zM456 210h6v6h-6zM462 222h6v6h-6zM462 228h6v6h-6zM468 240h6v6h-6zM468 246h6v6h-6zM474 258h6v6h-6zM474 288h6v6h-6zM474 294h6v6h-6zM312 438h6v6h-6z"/><path fill="#d8a030" d="M150 198h6v6h-6z"/><path fill="#e89018" d="M156 198h6v6h-6zM246 504h6v6h-6z"/><path fill="#f89008" d="M162 198h6v6h-6zM258 504h6v6h-6z"/><path fill="#ff9800" d="M168 198h6v6h-6zM180 204h6v6h-6zM192 210h12v6h-12zM210 216h12v6h-12zM222 222h24v6h-24zM234 228h36v6h-36zM252 234h48v6h-48zM264 240h96v6h-96zM276 246h60v6h-60zM360 246h48v6h-48zM288 252h36v6h-36zM402 252h24v6h-24zM306 258h6v6h-6zM414 258h18v6h-18zM426 264h12v6h-12zM432 270h6v6h-6zM432 276h12v6h-12zM432 282h6v6h-6zM420 288h18v6h-18zM360 294h66v6h-66zM342 300h18v6h-18zM336 306h12v6h-12zM306 390h6v6h-6zM300 402h6v6h-6zM300 408h6v6h-6zM294 420h6v6h-6zM288 438h6v6h-6zM282 450h6v6h-6zM282 456h6v6h-6zM276 468h6v6h-6zM270 486h6v6h-6zM264 498h6v6h-6z"/><path fill="#f8d008" d="M450 198h6v6h-6zM450 204h6v6h-6zM456 216h6v6h-6zM456 222h6v6h-6zM462 234h6v6h-6zM462 240h6v6h-6zM468 252h6v6h-6zM468 288h6v6h-6zM468 294h6v6h-6zM462 300h6v6h-6zM456 306h6v6h-6zM318 420h6v6h-6zM312 432h6v6h-6zM294 474h6v6h-6z"/><path fill="#f0e010" d="M462 198h6v6h-6zM462 204h6v6h-6zM462 210h6v6h-6zM468 222h6v6h-6zM468 228h6v6h-6zM468 234h6v6h-6zM474 240h6v6h-6zM480 294h6v6h-6zM474 300h6v6h-6zM468 306h6v6h-6zM444 318h6v6h-6z"/><path fill="#e8e818" d="M468 198h6v6h-6zM468 204h6v6h-6zM468 210h6v6h-6zM474 222h6v6h-6zM474 228h6v6h-6zM486 300h6v6h-6zM474 306h6v6h-6zM468 312h6v6h-6zM456 318h6v6h-6z"/><path fill="#60f8e8" d="M642 198h12v6h-12zM660 204h24v6h-24zM684 210h6v6h-6z"/><path fill="#60f8f0" d="M654 198h30v6h-30zM684 204h6v6h-6z"/><path fill="#e87820" d="M150 204h6v6h-6z"/><path fill="#f86008" d="M156 204h6v6h-6z"/><path fill="#ff6800" d="M162 204h6v6h-6zM174 210h6v6h-6zM192 222h6v6h-6zM210 234h6v6h-6zM216 240h6v6h-6zM234 252h6v6h-6zM240 258h6v6h-6zM246 264h6v6h-6zM252 270h12v6h-12zM258 276h12v6h-12zM258 282h24v6h-24zM270 288h24v6h-24zM282 294h18v6h-18zM294 300h12v6h-12zM300 306h6v6h-6zM300 312h6v6h-6zM300 318h6v6h-6zM300 324h6v6h-6zM294 330h6v6h-6zM294 336h6v6h-6zM294 342h6v6h-6zM294 348h6v6h-6zM294 354h6v6h-6zM288 372h6v6h-6zM288 378h6v6h-6zM282 390h6v6h-6zM282 396h6v6h-6zM276 402h6v6h-6zM276 408h6v6h-6zM270 414h6v6h-6zM264 426h6v6h-6zM258 432h6v6h-6zM258 438h6v6h-6zM252 444h6v6h-6zM246 456h6v6h-6zM240 474h6v6h-6z"/><path fill="#ff7800" d="M168 204h6v6h-6zM180 210h6v6h-6zM198 222h6v6h-6zM210 228h6v6h-6zM216 234h6v6h-6zM228 240h6v6h-6zM234 246h12v6h-12zM246 252h6v6h-6zM258 258h6v6h-6zM264 264h12v6h-12zM276 270h18v6h-18zM288 276h12v6h-12zM300 282h6v6h-6zM300 288h6v6h-6zM306 294h6v6h-6zM312 306h6v6h-6zM312 312h6v6h-6zM312 318h6v6h-6zM306 330h6v6h-6zM306 336h6v6h-6zM300 354h6v6h-6zM300 360h6v6h-6zM300 366h6v6h-6zM294 378h6v6h-6zM294 384h6v6h-6zM288 396h6v6h-6zM288 402h6v6h-6zM282 408h6v6h-6zM282 414h6v6h-6zM276 420h6v6h-6zM276 426h6v6h-6zM270 432h6v6h-6zM270 438h6v6h-6zM264 444h6v6h-6zM264 450h6v6h-6zM258 456h12v6h-12zM258 462h6v6h-6zM252 468h12v6h-12zM252 474h6v6h-6zM246 480h12v6h-12zM246 486h6v6h-6zM246 492h6v6h-6z"/><path fill="#ff8800" d="M174 204h6v6h-6zM186 210h6v6h-6zM198 216h6v6h-6zM216 228h6v6h-6zM228 234h6v6h-6zM240 240h12v6h-12zM252 246h12v6h-12zM264 252h12v6h-12zM276 258h12v6h-12zM354 258h36v6h-36zM288 264h12v6h-12zM342 264h60v6h-60zM300 270h18v6h-18zM342 270h66v6h-66zM306 276h42v6h-42zM378 276h36v6h-36zM312 282h24v6h-24zM318 288h18v6h-18zM318 294h12v6h-12zM318 300h12v6h-12zM324 306h6v6h-6zM318 312h6v6h-6zM318 318h6v6h-6zM312 336h6v6h-6zM312 342h6v6h-6zM306 360h6v6h-6zM306 366h6v6h-6zM306 372h6v6h-6zM300 384h6v6h-6zM300 390h6v6h-6zM294 402h6v6h-6zM294 408h6v6h-6zM288 414h6v6h-6zM288 420h6v6h-6zM282 432h6v6h-6zM282 438h6v6h-6zM276 444h6v6h-6zM276 450h6v6h-6zM270 462h6v6h-6zM270 468h6v6h-6zM264 474h6v6h-6zM264 480h6v6h-6zM264 486h6v6h-6zM258 492h6v6h-6zM258 498h6v6h-6z"/><path fill="#70ffb8" d="M618 204h6v6h-6zM498 354h6v6h-6zM486 360h6v6h-6zM468 372h6v6h-6zM534 600h6v6h-6zM528 606h6v6h-6z"/><path fill="#68f8d0" d="M636 204h6v6h-6zM648 210h6v6h-6z"/><path fill="#68e0c8" d="M822 204h6v6h-6zM366 486h6v6h-6z"/><path fill="#70d8b0" d="M828 204h6v6h-6zM900 594h6v6h-6zM894 600h6v6h-6zM882 606h6v6h-6z"/><path fill="#78d0b0" d="M840 204h48v6h-48zM840 210h84v6h-84zM906 216h18v6h-18zM354 504h6v6h-6zM342 522h6v6h-6zM354 576h6v6h-6z"/><path fill="#f85008" d="M150 210h6v6h-6z"/><path fill="#ff4800" d="M156 210h12v6h-12zM168 216h6v6h-6zM174 222h12v6h-12zM180 228h12v6h-12zM186 234h12v6h-12zM192 240h12v6h-12zM198 246h12v6h-12zM204 252h12v6h-12zM210 258h6v6h-6zM216 264h6v6h-6zM216 270h12v6h-12zM222 276h12v6h-12zM228 282h12v6h-12zM234 288h6v6h-6zM240 294h6v6h-6zM246 300h6v6h-6zM252 306h6v6h-6zM258 312h6v6h-6zM264 318h6v6h-6zM270 324h6v6h-6zM270 330h6v6h-6zM276 342h6v6h-6zM276 348h6v6h-6zM276 354h6v6h-6zM276 360h6v6h-6zM270 372h6v6h-6zM270 378h6v6h-6zM264 390h6v6h-6zM258 402h6v6h-6zM252 414h6v6h-6zM246 426h6v6h-6zM240 438h6v6h-6zM234 474h6v6h-6z"/><path fill="#ff5800" d="M168 210h6v6h-6zM186 222h6v6h-6zM210 240h6v6h-6zM216 246h6v6h-6zM222 252h6v6h-6zM228 258h6v6h-6zM228 264h6v6h-6zM234 270h6v6h-6zM240 276h6v6h-6zM246 282h6v6h-6zM252 288h6v6h-6zM252 294h12v6h-12zM258 300h12v6h-12zM264 306h18v6h-18zM276 312h12v6h-12zM282 318h6v6h-6zM282 324h6v6h-6zM282 330h6v6h-6zM282 336h6v6h-6zM282 342h6v6h-6zM282 348h6v6h-6zM282 354h6v6h-6zM282 360h6v6h-6zM282 366h6v6h-6zM282 372h6v6h-6zM276 384h6v6h-6zM270 396h6v6h-6zM264 408h6v6h-6zM258 414h6v6h-6zM258 420h6v6h-6zM252 426h6v6h-6zM246 438h6v6h-6zM240 456h6v6h-6zM234 492h6v6h-6z"/><path fill="#f8c808" d="M450 210h6v6h-6zM450 216h6v6h-6zM456 228h6v6h-6zM456 234h6v6h-6zM462 246h6v6h-6zM462 294h6v6h-6zM456 300h6v6h-6zM450 306h6v6h-6zM384 312h6v6h-6zM408 312h6v6h-6zM432 312h12v6h-12zM324 396h6v6h-6zM324 402h6v6h-6zM318 414h6v6h-6zM312 426h6v6h-6z"/><path fill="#e8f020" d="M474 210h6v6h-6zM558 282h6v6h-6zM342 426h6v6h-6z"/><path fill="#80ff98" d="M612 210h6v6h-6zM516 330h6v6h-6zM504 336h6v6h-6zM492 342h6v6h-6zM486 348h6v6h-6zM474 354h6v6h-6zM450 372h6v6h-6zM588 564h6v6h-6zM564 576h6v6h-6zM624 576h6v6h-6zM558 582h6v6h-6zM552 588h6v6h-6zM546 594h6v6h-6z"/><path fill="#78ffa8" d="M624 210h6v6h-6zM636 216h6v6h-6zM642 222h6v6h-6zM498 348h6v6h-6zM486 354h6v6h-6zM474 360h6v6h-6zM468 366h6v6h-6zM606 564h6v6h-6z"/><path fill="#70f8c0" d="M636 210h6v6h-6z"/><path fill="#60e0e0" d="M822 210h6v6h-6zM828 228h6v6h-6zM894 504h6v6h-6zM900 510h6v6h-6z"/><path fill="#70d0b0" d="M834 210h6v6h-6zM834 216h72v6h-72zM840 222h84v6h-84zM840 228h84v6h-84zM846 234h78v6h-78z"/><path fill="#ff4000" d="M150 216h18v6h-18zM150 222h24v6h-24zM150 228h30v6h-30zM156 234h30v6h-30zM162 240h30v6h-30zM168 246h30v6h-30zM174 252h30v6h-30zM180 258h30v6h-30zM186 264h30v6h-30zM192 270h24v6h-24zM198 276h24v6h-24zM204 282h24v6h-24zM210 288h24v6h-24zM216 294h24v6h-24zM228 300h18v6h-18zM234 306h18v6h-18zM246 312h12v6h-12zM258 318h6v6h-6zM264 324h6v6h-6zM270 336h6v6h-6zM270 342h6v6h-6zM270 348h6v6h-6zM270 354h6v6h-6zM270 360h6v6h-6zM270 366h6v6h-6zM264 378h6v6h-6zM264 384h6v6h-6zM258 390h6v6h-6zM258 396h6v6h-6zM252 402h6v6h-6zM252 408h6v6h-6zM246 414h6v6h-6zM246 420h6v6h-6zM240 432h6v6h-6zM234 462h6v6h-6zM234 468h6v6h-6z"/><path fill="#ff5000" d="M174 216h6v6h-6zM192 228h6v6h-6zM198 234h6v6h-6zM204 240h6v6h-6zM210 246h6v6h-6zM216 252h6v6h-6zM216 258h12v6h-12zM222 264h6v6h-6zM228 270h6v6h-6zM234 276h6v6h-6zM240 282h6v6h-6zM240 288h12v6h-12zM246 294h6v6h-6zM252 300h6v6h-6zM258 306h6v6h-6zM264 312h12v6h-12zM270 318h12v6h-12zM276 324h6v6h-6zM276 330h6v6h-6zM276 336h6v6h-6zM276 366h6v6h-6zM276 372h6v6h-6zM276 378h6v6h-6zM270 384h6v6h-6zM270 390h6v6h-6zM264 396h6v6h-6zM264 402h6v6h-6zM258 408h6v6h-6zM252 420h6v6h-6zM246 432h6v6h-6zM240 444h6v6h-6zM240 450h6v6h-6zM234 480h6v6h-6zM234 486h6v6h-6z"/><path fill="#ff6000" d="M180 216h6v6h-6zM198 228h6v6h-6zM204 234h6v6h-6zM222 246h6v6h-6zM228 252h6v6h-6zM234 258h6v6h-6zM234 264h12v6h-12zM240 270h12v6h-12zM246 276h12v6h-12zM252 282h6v6h-6zM258 288h12v6h-12zM264 294h18v6h-18zM270 300h24v6h-24zM282 306h18v6h-18zM288 312h12v6h-12zM288 318h12v6h-12zM288 324h12v6h-12zM288 330h6v6h-6zM288 336h6v6h-6zM288 342h6v6h-6zM288 348h6v6h-6zM288 354h6v6h-6zM288 360h6v6h-6zM288 366h6v6h-6zM282 378h6v6h-6zM282 384h6v6h-6zM276 390h6v6h-6zM276 396h6v6h-6zM270 402h6v6h-6zM270 408h6v6h-6zM264 414h6v6h-6zM264 420h6v6h-6zM258 426h6v6h-6zM252 432h6v6h-6zM252 438h6v6h-6zM246 444h6v6h-6zM246 450h6v6h-6zM240 462h6v6h-6zM240 468h6v6h-6z"/><path fill="#ff7000" d="M186 216h6v6h-6zM204 228h6v6h-6zM222 240h6v6h-6zM228 246h6v6h-6zM240 252h6v6h-6zM246 258h12v6h-12zM252 264h12v6h-12zM264 270h12v6h-12zM270 276h18v6h-18zM282 282h18v6h-18zM294 288h6v6h-6zM300 294h6v6h-6zM306 300h6v6h-6zM306 306h6v6h-6zM306 312h6v6h-6zM306 318h6v6h-6zM306 324h6v6h-6zM300 330h6v6h-6zM300 336h6v6h-6zM300 342h6v6h-6zM300 348h6v6h-6zM294 360h6v6h-6zM294 366h6v6h-6zM294 372h6v6h-6zM288 384h6v6h-6zM288 390h6v6h-6zM282 402h6v6h-6zM276 414h6v6h-6zM270 420h6v6h-6zM270 426h6v6h-6zM264 432h6v6h-6zM264 438h6v6h-6zM258 444h6v6h-6zM252 450h12v6h-12zM252 456h6v6h-6zM246 462h12v6h-12zM246 468h6v6h-6zM246 474h6v6h-6zM240 480h6v6h-6zM240 486h6v6h-6zM240 492h6v6h-6z"/><path fill="#ff8000" d="M192 216h6v6h-6zM204 222h6v6h-6zM222 234h6v6h-6zM234 240h6v6h-6zM246 246h6v6h-6zM252 252h12v6h-12zM264 258h12v6h-12zM276 264h12v6h-12zM294 270h6v6h-6zM300 276h6v6h-6zM306 282h6v6h-6zM306 288h12v6h-12zM312 294h6v6h-6zM312 300h6v6h-6zM318 306h6v6h-6zM312 324h6v6h-6zM312 330h6v6h-6zM306 342h6v6h-6zM306 348h6v6h-6zM306 354h6v6h-6zM300 372h6v6h-6zM300 378h6v6h-6zM294 390h6v6h-6zM294 396h6v6h-6zM288 408h6v6h-6zM282 420h6v6h-6zM282 426h6v6h-6zM276 432h6v6h-6zM276 438h6v6h-6zM270 444h6v6h-6zM270 450h6v6h-6zM270 456h6v6h-6zM264 462h6v6h-6zM264 468h6v6h-6zM258 474h6v6h-6zM258 480h6v6h-6zM252 486h12v6h-12zM252 492h6v6h-6zM252 498h6v6h-6z"/><path fill="#ff9000" d="M204 216h6v6h-6zM210 222h12v6h-12zM222 228h12v6h-12zM234 234h18v6h-18zM252 240h12v6h-12zM264 246h12v6h-12zM336 246h24v6h-24zM276 252h12v6h-12zM324 252h78v6h-78zM288 258h18v6h-18zM312 258h42v6h-42zM390 258h24v6h-24zM300 264h42v6h-42zM402 264h24v6h-24zM318 270h24v6h-24zM408 270h24v6h-24zM348 276h30v6h-30zM414 276h18v6h-18zM336 282h96v6h-96zM336 288h84v6h-84zM330 294h30v6h-30zM330 300h12v6h-12zM330 306h6v6h-6zM324 312h6v6h-6zM318 324h6v6h-6zM306 378h6v6h-6zM306 384h6v6h-6zM300 396h6v6h-6zM294 414h6v6h-6zM288 426h6v6h-6zM288 432h6v6h-6zM282 444h6v6h-6zM276 456h6v6h-6zM276 462h6v6h-6zM270 474h6v6h-6zM270 480h6v6h-6zM264 492h6v6h-6z"/><path fill="#f0d810" d="M462 216h6v6h-6zM462 306h6v6h-6zM450 312h12v6h-12zM384 318h12v6h-12zM408 318h6v6h-6zM432 318h12v6h-12zM330 402h6v6h-6z"/><path fill="#d8f830" d="M492 216h6v6h-6zM510 300h6v6h-6z"/><path fill="#d0ff30" d="M498 216h6v6h-6zM504 228h6v6h-6zM510 234h6v6h-6z"/><path fill="#88ff88" d="M582 216h12v6h-12zM606 216h18v6h-18zM630 264h6v6h-6zM618 276h6v6h-6zM612 282h6v6h-6zM516 324h6v6h-6zM504 330h6v6h-6zM486 342h6v6h-6zM456 360h6v6h-6zM582 570h18v6h-18zM570 576h6v6h-6zM612 576h6v6h-6zM564 582h6v6h-6zM630 582h6v6h-6zM558 588h6v6h-6zM642 588h6v6h-6zM552 594h6v6h-6zM654 594h6v6h-6zM546 600h6v6h-6zM678 606h6v6h-6z"/><path fill="#68ffc8" d="M654 216h12v6h-12zM480 372h6v6h-6zM534 594h6v6h-6zM528 600h6v6h-6z"/><path fill="#60ffd0" d="M666 216h6v6h-6zM480 378h6v6h-6zM474 384h6v6h-6zM468 390h6v6h-6zM744 480h6v6h-6zM702 516h6v6h-6zM690 522h18v6h-18zM684 528h24v6h-24zM678 534h36v6h-36zM678 540h36v6h-36zM678 546h36v6h-36zM684 552h30v6h-30zM684 558h36v6h-36zM690 564h30v6h-30zM690 570h36v6h-36zM690 576h36v6h-36zM696 582h30v6h-30zM696 588h36v6h-36zM696 594h36v6h-36zM696 600h36v6h-36zM522 606h6v6h-6zM702 606h36v6h-36z"/><path fill="#50e8ff" d="M792 216h24v6h-24zM780 222h42v6h-42zM762 228h54v6h-54zM750 234h54v6h-54zM732 240h54v6h-54zM720 246h48v6h-48zM720 252h36v6h-36zM720 258h18v6h-18zM714 264h6v6h-6z"/><path fill="#58e0e8" d="M822 216h6v6h-6zM708 462h6v6h-6zM702 468h6v6h-6zM696 474h6v6h-6zM690 480h6v6h-6z"/><path fill="#68d8c0" d="M828 216h6v6h-6zM834 228h6v6h-6z"/><path fill="#f8c800" d="M450 222h6v6h-6zM468 282h6v6h-6z"/><path fill="#90ff80" d="M618 222h6v6h-6zM612 276h6v6h-6zM606 282h6v6h-6zM522 318h6v6h-6zM510 324h6v6h-6zM498 330h6v6h-6zM480 342h6v6h-6zM462 354h6v6h-6zM450 360h6v6h-6zM636 588h6v6h-6z"/><path fill="#60ffc8" d="M666 222h6v6h-6zM474 378h6v6h-6zM468 384h6v6h-6zM462 390h6v6h-6zM738 486h42v6h-42zM762 492h6v6h-6zM708 516h12v6h-12zM708 522h12v6h-12zM708 528h18v6h-18zM714 534h12v6h-12zM714 540h12v6h-12zM714 546h12v6h-12zM714 552h18v6h-18zM720 558h12v6h-12zM720 564h12v6h-12zM726 570h12v6h-12zM726 576h12v6h-12zM726 582h12v6h-12zM732 588h12v6h-12zM732 594h12v6h-12zM732 600h12v6h-12zM738 606h12v6h-12z"/><path fill="#58e0f8" d="M822 222h6v6h-6zM822 228h6v6h-6zM828 240h6v6h-6zM846 450h6v6h-6zM852 456h6v6h-6zM858 462h6v6h-6zM864 468h6v6h-6zM870 474h6v6h-6z"/><path fill="#60d8d0" d="M828 222h6v6h-6z"/><path fill="#a0ff68" d="M600 228h6v6h-6zM564 234h18v6h-18zM618 258h6v6h-6zM612 264h6v6h-6zM606 270h6v6h-6zM600 276h6v6h-6zM594 282h6v6h-6zM504 318h6v6h-6zM486 330h6v6h-6zM456 348h6v6h-6zM630 594h6v6h-6zM660 606h6v6h-6z"/><path fill="#50e0ff" d="M816 228h6v6h-6zM804 234h24v6h-24zM786 240h42v6h-42zM768 246h60v6h-60zM756 252h72v6h-72zM738 258h84v6h-84zM720 264h96v6h-96zM714 270h90v6h-90zM714 276h84v6h-84zM714 282h78v6h-78zM714 288h72v6h-72zM720 294h54v6h-54zM720 300h48v6h-48zM720 306h42v6h-42zM720 312h30v6h-30zM714 318h6v6h-6zM528 534h6v6h-6zM522 540h6v6h-6zM510 558h6v6h-6zM504 570h6v6h-6zM504 576h6v6h-6zM498 588h6v6h-6zM492 600h6v6h-6zM492 606h6v6h-6z"/><path fill="#ff3800" d="M150 234h6v6h-6zM150 240h12v6h-12zM150 246h18v6h-18zM150 252h24v6h-24zM150 258h30v6h-30zM156 264h30v6h-30zM168 270h24v6h-24zM174 276h24v6h-24zM180 282h24v6h-24zM186 288h24v6h-24zM198 294h18v6h-18zM204 300h24v6h-24zM216 306h18v6h-18zM222 312h24v6h-24zM240 318h18v6h-18zM252 324h12v6h-12zM264 330h6v6h-6zM264 336h6v6h-6zM264 342h6v6h-6zM264 360h6v6h-6zM264 366h6v6h-6zM264 372h6v6h-6zM258 384h6v6h-6zM252 396h6v6h-6zM246 408h6v6h-6zM240 426h6v6h-6zM234 456h6v6h-6z"/><path fill="#a8ff60" d="M588 234h24v6h-24zM612 258h6v6h-6zM516 312h6v6h-6zM498 318h6v6h-6zM450 348h6v6h-6z"/><path fill="#60f8c0" d="M666 234h6v6h-6zM666 240h6v6h-6zM660 270h6v6h-6zM660 276h6v6h-6zM660 282h6v6h-6zM654 294h6v6h-6zM612 300h6v6h-6zM630 300h24v6h-24zM594 306h6v6h-6zM408 384h6v6h-6zM426 396h6v6h-6zM798 468h6v6h-6zM726 498h6v6h-6zM612 558h6v6h-6zM666 588h6v6h-6z"/><path fill="#58e0f0" d="M828 234h6v6h-6zM840 450h6v6h-6zM846 456h6v6h-6zM852 462h6v6h-6zM858 468h6v6h-6zM864 474h6v6h-6zM876 480h6v6h-6z"/><path fill="#68d8c8" d="M834 234h6v6h-6z"/><path fill="#70d0b8" d="M840 234h6v6h-6zM846 240h24v6h-24zM918 582h6v6h-6zM912 588h6v6h-6zM906 594h6v6h-6zM900 600h6v6h-6zM912 600h12v6h-12zM888 606h36v6h-36z"/><path fill="#f8c000" d="M456 240h6v6h-6zM462 288h6v6h-6zM456 294h6v6h-6z"/><path fill="#c0f840" d="M528 240h6v6h-6zM546 246h12v6h-12zM576 252h6v6h-6zM510 306h6v6h-6zM492 312h6v6h-6zM468 330h6v6h-6zM402 336h30v6h-30zM450 336h12v6h-12zM384 342h6v6h-6zM372 348h6v6h-6zM366 354h6v6h-6z"/><path fill="#b8f840" d="M534 240h6v6h-6z"/><path fill="#b8f848" d="M540 240h6v6h-6zM558 246h18v6h-18zM588 270h6v6h-6zM522 306h6v6h-6zM498 312h6v6h-6zM480 324h6v6h-6zM462 336h6v6h-6zM390 342h6v6h-6zM444 342h6v6h-6zM378 348h6v6h-6zM366 360h6v6h-6z"/><path fill="#b0f850" d="M546 240h12v6h-12zM588 276h6v6h-6zM582 282h6v6h-6zM504 312h6v6h-6zM492 318h6v6h-6zM468 336h6v6h-6zM402 342h30v6h-30zM450 342h12v6h-12zM384 348h6v6h-6zM372 354h6v6h-6zM366 366h6v6h-6z"/><path fill="#a8f858" d="M558 240h6v6h-6zM462 342h6v6h-6zM390 348h6v6h-6zM378 354h6v6h-6zM372 360h6v6h-6z"/><path fill="#b0ff58" d="M582 240h6v6h-6zM510 312h6v6h-6z"/><path fill="#60d8d8" d="M834 240h6v6h-6z"/><path fill="#68d0b8" d="M840 240h6v6h-6zM918 588h6v6h-6zM912 594h12v6h-12zM906 600h6v6h-6z"/><path fill="#70d0c0" d="M870 240h12v6h-12zM906 240h18v6h-18z"/><path fill="#68d0c0" d="M882 240h6v6h-6z"/><path fill="#68d0c8" d="M888 240h18v6h-18z"/><path fill="#50e0f8" d="M828 246h6v6h-6zM708 270h6v6h-6zM702 276h12v6h-12zM702 282h12v6h-12zM696 288h18v6h-18zM696 294h24v6h-24zM696 300h24v6h-24zM696 306h24v6h-24zM696 312h24v6h-24zM690 318h24v6h-24zM678 324h18v6h-18zM816 426h6v6h-6zM822 432h12v6h-12zM828 438h12v6h-12zM834 444h12v6h-12zM528 540h6v6h-6zM522 546h6v6h-6zM516 552h6v6h-6zM516 558h6v6h-6zM510 564h6v6h-6zM510 570h6v6h-6zM504 582h6v6h-6zM498 594h6v6h-6zM498 600h6v6h-6z"/><path fill="#58d0e8" d="M834 246h6v6h-6zM360 576h6v6h-6z"/><path fill="#60c8d0" d="M840 246h6v6h-6zM348 516h6v6h-6z"/><path fill="#68c8c8" d="M846 246h6v6h-6z"/><path fill="#68c8d0" d="M852 246h6v6h-6z"/><path fill="#68d0d0" d="M858 246h6v6h-6zM360 588h6v6h-6z"/><path fill="#60d0d8" d="M864 246h6v6h-6z"/><path fill="#60d0e0" d="M870 246h6v6h-6zM918 246h6v6h-6zM360 582h6v6h-6zM366 600h6v6h-6z"/><path fill="#60d0e8" d="M876 246h18v6h-18zM906 246h12v6h-12z"/><path fill="#60d0f0" d="M894 246h12v6h-12z"/><path fill="#c0ff48" d="M594 252h6v6h-6zM594 258h6v6h-6z"/><path fill="#68ffb0" d="M654 252h6v6h-6zM654 258h6v6h-6zM654 264h6v6h-6zM462 378h6v6h-6zM456 384h6v6h-6zM450 390h6v6h-6zM786 492h6v6h-6zM780 498h6v6h-6zM780 504h6v6h-6zM744 510h36v6h-36zM738 516h36v6h-36zM738 522h30v6h-30zM738 528h12v6h-12zM738 534h12v6h-12zM738 540h12v6h-12zM738 546h12v6h-12zM744 552h6v6h-6zM744 558h6v6h-6zM744 564h6v6h-6zM750 570h6v6h-6zM750 576h6v6h-6zM750 582h6v6h-6zM756 594h6v6h-6zM756 600h6v6h-6z"/><path fill="#50e8f8" d="M714 252h6v6h-6zM702 258h18v6h-18zM696 264h18v6h-18zM696 270h12v6h-12zM696 276h6v6h-6zM696 282h6v6h-6zM552 540h6v6h-6zM528 546h6v6h-6zM522 552h6v6h-6zM522 558h6v6h-6zM516 564h6v6h-6zM516 570h6v6h-6zM510 576h6v6h-6zM510 582h6v6h-6zM504 588h6v6h-6zM504 594h6v6h-6zM498 606h6v6h-6z"/><path fill="#50d8ff" d="M828 252h6v6h-6zM804 270h6v6h-6zM798 276h6v6h-6zM774 294h6v6h-6zM768 300h6v6h-6zM762 306h6v6h-6zM750 312h6v6h-6zM720 318h30v6h-30zM708 324h24v6h-24zM834 426h18v6h-18zM840 432h18v6h-18zM846 438h6v6h-6zM516 534h12v6h-12zM516 540h6v6h-6zM510 546h12v6h-12zM438 552h18v6h-18zM498 552h18v6h-18zM414 558h96v6h-96zM402 564h108v6h-108zM390 570h114v6h-114zM372 576h132v6h-132zM372 582h132v6h-132zM372 588h126v6h-126zM372 594h126v6h-126zM378 600h114v6h-114zM378 606h114v6h-114z"/><path fill="#48c0f0" d="M834 252h6v6h-6z"/><path fill="#50b8f0" d="M840 252h6v6h-6z"/><path fill="#50c0f0" d="M846 252h6v6h-6z"/><path fill="#58c8f0" d="M852 252h6v6h-6z"/><path fill="#58c8f8" d="M858 252h30v6h-30z"/><path fill="#58c8ff" d="M888 252h6v6h-6zM858 258h66v6h-66zM858 264h66v6h-66zM858 270h66v6h-66zM858 276h66v6h-66zM858 282h66v6h-66zM864 288h60v6h-60zM864 294h60v6h-60zM864 300h60v6h-60zM864 306h60v6h-60zM864 312h60v6h-60zM864 318h60v6h-60zM864 324h60v6h-60zM864 330h60v6h-60zM864 336h60v6h-60zM870 342h54v6h-54zM870 348h54v6h-54zM870 354h54v6h-54zM870 360h54v6h-54zM870 366h54v6h-54zM870 372h54v6h-54zM870 378h54v6h-54zM870 384h54v6h-54zM876 390h48v6h-48zM876 396h48v6h-48zM876 402h48v6h-48zM870 408h54v6h-54zM876 414h48v6h-48zM900 420h24v6h-24zM918 426h6v6h-6z"/><path fill="#60c8ff" d="M894 252h12v6h-12z"/><path fill="#60d0ff" d="M906 252h6v6h-6z"/><path fill="#60d0f8" d="M912 252h12v6h-12z"/><path fill="#f8d000" d="M468 258h6v6h-6z"/><path fill="#d8f028" d="M558 258h6v6h-6zM570 270h6v6h-6zM570 276h6v6h-6zM564 282h6v6h-6zM558 288h6v6h-6zM486 306h6v6h-6zM480 312h6v6h-6zM468 318h6v6h-6zM462 324h6v6h-6zM390 330h6v6h-6zM366 336h12v6h-12z"/><path fill="#58f0e0" d="M678 258h6v6h-6zM678 264h6v6h-6zM678 270h6v6h-6zM672 288h6v6h-6zM672 294h6v6h-6zM600 312h6v6h-6zM570 324h6v6h-6zM558 330h6v6h-6zM510 372h6v6h-6zM498 378h6v6h-6zM396 396h12v6h-12zM390 402h6v6h-6zM384 414h6v6h-6zM378 432h6v6h-6zM378 438h6v6h-6zM378 444h6v6h-6zM378 450h6v6h-6zM792 450h36v6h-36zM828 456h6v6h-6zM726 462h6v6h-6zM576 540h12v6h-12zM594 540h6v6h-6zM570 546h6v6h-6zM558 552h6v6h-6z"/><path fill="#48d0ff" d="M822 258h6v6h-6zM816 264h6v6h-6zM786 288h6v6h-6zM780 294h6v6h-6zM756 312h6v6h-6zM750 318h6v6h-6zM732 324h12v6h-12zM708 330h18v6h-18zM690 336h18v6h-18zM660 342h24v6h-24zM420 438h6v6h-6zM414 444h6v6h-6zM522 522h18v6h-18zM468 528h6v6h-6zM444 534h18v6h-18zM426 540h24v6h-24zM414 546h24v6h-24zM396 552h30v6h-30zM384 558h30v6h-30zM372 564h24v6h-24zM366 570h12v6h-12z"/><path fill="#40b8ff" d="M828 258h6v6h-6zM840 288h6v6h-6zM660 372h6v6h-6zM636 378h30v6h-30zM834 378h6v6h-6zM636 384h24v6h-24zM834 384h6v6h-6zM636 390h24v6h-24zM828 390h6v6h-6zM642 396h12v6h-12zM828 396h6v6h-6zM822 402h6v6h-6zM690 438h18v6h-18zM684 444h6v6h-6zM480 510h12v6h-12zM462 516h6v6h-6z"/><path fill="#40b0ff" d="M834 258h6v6h-6zM840 264h6v6h-6zM840 270h6v6h-6zM840 276h6v6h-6zM840 282h6v6h-6zM834 300h6v6h-6zM834 306h6v6h-6zM834 312h6v6h-6zM834 318h6v6h-6zM834 324h6v6h-6zM834 330h6v6h-6zM834 336h6v6h-6zM834 342h6v6h-6zM834 348h6v6h-6zM834 354h6v6h-6zM834 360h6v6h-6zM828 366h12v6h-12zM828 372h12v6h-12zM828 378h6v6h-6zM660 384h6v6h-6zM828 384h6v6h-6zM660 390h6v6h-6zM822 390h6v6h-6zM654 396h12v6h-12zM822 396h6v6h-6zM648 402h18v6h-18zM816 402h6v6h-6zM684 438h6v6h-6z"/><path fill="#48b0ff" d="M840 258h6v6h-6z"/><path fill="#50c0ff" d="M846 258h12v6h-12zM852 264h6v6h-6zM852 270h6v6h-6zM852 276h6v6h-6zM852 282h6v6h-6zM852 288h6v6h-6zM852 294h6v6h-6zM852 300h12v6h-12zM852 306h12v6h-12zM852 312h12v6h-12zM852 318h12v6h-12zM852 324h12v6h-12zM852 330h12v6h-12zM852 336h12v6h-12zM852 342h12v6h-12zM852 348h12v6h-12zM852 354h18v6h-18zM852 360h18v6h-18zM852 366h18v6h-18zM852 372h18v6h-18zM852 378h18v6h-18zM852 384h18v6h-18zM846 390h18v6h-18zM846 396h6v6h-6z"/><path fill="#ff3000" d="M150 264h6v6h-6zM156 270h12v6h-12zM162 276h12v6h-12zM174 282h6v6h-6zM180 288h6v6h-6zM186 294h12v6h-12zM192 300h12v6h-12zM204 306h12v6h-12zM210 312h12v6h-12zM222 318h18v6h-18zM234 324h18v6h-18zM252 330h12v6h-12zM258 336h6v6h-6zM264 348h6v6h-6zM264 354h6v6h-6zM258 366h6v6h-6zM258 372h6v6h-6zM258 378h6v6h-6zM252 384h6v6h-6zM252 390h6v6h-6zM246 402h6v6h-6zM240 420h6v6h-6zM234 444h6v6h-6zM234 450h6v6h-6z"/><path fill="#f0f008" d="M522 264h6v6h-6z"/><path fill="#60f8b8" d="M660 264h6v6h-6zM654 282h6v6h-6zM654 288h6v6h-6zM648 294h6v6h-6z"/><path fill="#38b0ff" d="M822 264h6v6h-6zM750 324h6v6h-6zM828 360h6v6h-6zM672 366h6v6h-6zM666 378h6v6h-6zM666 384h6v6h-6zM612 390h6v6h-6zM618 396h24v6h-24zM630 402h18v6h-18zM642 408h24v6h-24zM810 408h6v6h-6zM498 432h6v6h-6zM690 432h12v6h-12zM678 444h6v6h-6zM678 450h6v6h-6zM468 462h6v6h-6zM456 468h6v6h-6zM444 474h6v6h-6zM426 480h12v6h-12zM588 480h6v6h-6zM408 486h12v6h-12zM390 492h6v6h-6zM486 504h42v6h-42zM462 510h12v6h-12zM360 516h6v6h-6zM438 516h12v6h-12zM354 522h6v6h-6zM420 522h6v6h-6zM402 528h6v6h-6zM354 546h6v6h-6z"/><path fill="#30a0ff" d="M828 264h6v6h-6zM810 276h6v6h-6zM828 276h6v6h-6zM828 282h6v6h-6zM828 288h6v6h-6zM828 294h6v6h-6zM822 330h6v6h-6zM822 336h6v6h-6zM822 342h6v6h-6zM822 348h6v6h-6zM816 372h6v6h-6zM816 378h6v6h-6zM672 384h6v6h-6zM816 384h6v6h-6zM672 390h6v6h-6zM672 396h6v6h-6zM810 396h6v6h-6zM672 402h6v6h-6zM618 408h6v6h-6zM672 408h12v6h-12zM624 414h6v6h-6zM678 414h6v6h-6zM522 420h6v6h-6zM630 420h12v6h-12zM678 420h12v6h-12zM642 426h30v6h-30zM696 426h12v6h-12zM660 432h12v6h-12zM666 438h6v6h-6zM510 498h18v6h-18z"/><path fill="#38a8ff" d="M834 264h6v6h-6zM834 270h6v6h-6zM834 276h6v6h-6zM834 282h6v6h-6zM834 288h6v6h-6zM828 312h6v6h-6zM828 318h6v6h-6zM828 324h6v6h-6zM828 330h6v6h-6zM828 336h6v6h-6zM828 342h6v6h-6zM828 348h6v6h-6zM828 354h6v6h-6zM822 360h6v6h-6zM822 366h6v6h-6zM822 372h6v6h-6zM822 378h6v6h-6zM822 384h6v6h-6zM666 390h6v6h-6zM816 390h6v6h-6zM666 396h6v6h-6zM816 396h6v6h-6zM624 402h6v6h-6zM666 402h6v6h-6zM630 408h12v6h-12zM666 408h6v6h-6zM642 414h30v6h-30zM660 420h12v6h-12zM678 426h12v6h-12zM678 432h12v6h-12zM702 432h12v6h-12zM678 438h6v6h-6z"/><path fill="#48b8ff" d="M846 264h6v6h-6zM846 270h6v6h-6zM846 276h6v6h-6zM846 282h6v6h-6zM846 288h6v6h-6zM840 294h12v6h-12zM840 300h12v6h-12zM840 306h12v6h-12zM840 312h12v6h-12zM840 318h12v6h-12zM840 324h12v6h-12zM840 330h12v6h-12zM840 336h12v6h-12zM840 342h12v6h-12zM840 348h12v6h-12zM840 354h12v6h-12zM840 360h12v6h-12zM840 366h12v6h-12zM840 372h6v6h-6zM840 378h6v6h-6zM840 384h6v6h-6zM834 390h6v6h-6zM690 444h6v6h-6z"/><path fill="#ff2000" d="M150 270h6v6h-6zM156 276h6v6h-6zM162 282h6v6h-6zM168 288h6v6h-6zM174 294h6v6h-6zM180 300h6v6h-6zM186 306h6v6h-6zM198 312h6v6h-6zM204 318h6v6h-6zM210 324h12v6h-12zM222 330h12v6h-12zM234 336h18v6h-18zM246 342h12v6h-12zM252 348h6v6h-6zM252 354h6v6h-6zM252 360h6v6h-6zM252 366h6v6h-6zM246 372h6v6h-6zM246 378h6v6h-6zM246 384h6v6h-6zM240 396h6v6h-6zM240 402h6v6h-6zM234 420h6v6h-6zM234 426h6v6h-6zM234 432h6v6h-6zM228 480h6v6h-6zM228 486h6v6h-6z"/><path fill="#f8e000" d="M480 270h6v6h-6zM480 276h6v6h-6z"/><path fill="#c8f840" d="M582 270h6v6h-6zM474 324h6v6h-6z"/><path fill="#68f8b0" d="M654 270h6v6h-6zM654 276h6v6h-6zM648 288h6v6h-6zM618 294h24v6h-24zM408 378h6v6h-6zM420 384h6v6h-6zM426 390h6v6h-6zM438 396h12v6h-12zM804 474h6v6h-6z"/><path fill="#58f0d8" d="M672 270h6v6h-6zM672 276h6v6h-6zM672 282h6v6h-6zM666 294h6v6h-6zM666 300h6v6h-6zM612 306h24v6h-24zM594 312h6v6h-6zM576 318h12v6h-12zM564 324h6v6h-6zM552 330h6v6h-6zM546 336h6v6h-6zM540 342h6v6h-6zM534 348h6v6h-6zM522 360h6v6h-6zM516 366h6v6h-6zM504 372h6v6h-6zM390 396h6v6h-6zM408 396h6v6h-6zM420 402h6v6h-6zM462 402h6v6h-6zM384 408h6v6h-6zM426 408h6v6h-6zM822 456h6v6h-6zM720 468h6v6h-6zM714 474h12v6h-12zM708 480h6v6h-6zM702 486h6v6h-6zM696 492h6v6h-6zM684 498h12v6h-12zM678 504h12v6h-12zM672 510h6v6h-6zM666 516h6v6h-6zM666 522h6v6h-6zM588 540h6v6h-6zM576 546h6v6h-6zM564 552h6v6h-6z"/><path fill="#58e8e8" d="M684 270h6v6h-6zM678 282h6v6h-6zM828 450h6v6h-6zM834 456h6v6h-6zM714 462h6v6h-6zM846 462h6v6h-6zM852 468h6v6h-6z"/><path fill="#50e8f0" d="M690 270h6v6h-6zM684 276h12v6h-12zM684 282h12v6h-12zM684 288h12v6h-12zM684 294h12v6h-12zM684 300h12v6h-12zM684 306h6v6h-6zM678 312h6v6h-6zM804 432h12v6h-12zM792 438h6v6h-6zM810 438h18v6h-18zM774 444h6v6h-6zM828 444h6v6h-6zM732 450h6v6h-6zM576 534h6v6h-6zM558 540h12v6h-12z"/><path fill="#48c8ff" d="M810 270h6v6h-6zM726 330h6v6h-6zM828 408h6v6h-6zM816 414h12v6h-12zM432 432h18v6h-18zM426 438h12v6h-12zM492 516h42v6h-42zM468 522h24v6h-24zM450 528h18v6h-18zM432 534h12v6h-12zM420 540h6v6h-6zM408 546h6v6h-6zM378 558h6v6h-6zM366 564h6v6h-6z"/><path fill="#30a8ff" d="M816 270h6v6h-6zM780 300h6v6h-6zM744 330h6v6h-6zM732 336h6v6h-6zM702 348h6v6h-6zM690 354h6v6h-6zM678 366h6v6h-6zM672 372h6v6h-6zM672 378h6v6h-6zM552 390h6v6h-6zM606 396h6v6h-6zM612 402h12v6h-12zM810 402h6v6h-6zM528 408h12v6h-12zM624 408h6v6h-6zM804 408h6v6h-6zM522 414h12v6h-12zM630 414h12v6h-12zM672 414h6v6h-6zM516 420h6v6h-6zM642 420h18v6h-18zM672 420h6v6h-6zM510 426h6v6h-6zM672 426h6v6h-6zM690 426h6v6h-6zM504 432h6v6h-6zM672 432h6v6h-6zM714 432h12v6h-12zM498 438h6v6h-6zM672 438h6v6h-6zM672 444h6v6h-6zM492 450h6v6h-6zM672 450h6v6h-6zM486 456h6v6h-6zM672 456h6v6h-6zM480 462h6v6h-6zM474 468h12v6h-12zM468 474h12v6h-12zM588 474h6v6h-6zM612 474h6v6h-6zM462 480h12v6h-12zM576 480h6v6h-6zM456 486h18v6h-18zM564 486h6v6h-6zM456 492h18v6h-18zM546 492h6v6h-6zM456 498h54v6h-54zM528 498h6v6h-6zM456 504h24v6h-24z"/><path fill="#2898ff" d="M822 270h6v6h-6zM804 282h6v6h-6zM822 300h6v6h-6zM774 306h6v6h-6zM822 306h6v6h-6zM816 342h6v6h-6zM816 348h6v6h-6zM684 366h6v6h-6zM678 378h6v6h-6zM678 384h6v6h-6zM810 384h6v6h-6zM678 390h6v6h-6zM678 396h6v6h-6zM678 402h6v6h-6zM804 402h6v6h-6zM606 408h6v6h-6zM684 408h6v6h-6zM612 414h6v6h-6zM684 414h12v6h-12zM612 420h12v6h-12zM690 420h12v6h-12zM522 426h6v6h-6zM618 426h12v6h-12zM708 426h12v6h-12zM516 432h6v6h-6zM624 432h18v6h-18zM630 438h36v6h-36zM504 444h6v6h-6zM660 444h6v6h-6zM666 450h6v6h-6zM498 456h6v6h-6zM666 456h6v6h-6zM666 462h6v6h-6zM492 468h6v6h-6zM588 468h6v6h-6zM492 474h6v6h-6zM492 480h6v6h-6zM492 486h6v6h-6zM504 492h30v6h-30z"/><path fill="#3098ff" d="M828 270h6v6h-6zM822 312h6v6h-6zM822 318h6v6h-6zM822 324h6v6h-6zM816 354h6v6h-6zM816 360h6v6h-6zM816 366h6v6h-6zM810 390h6v6h-6z"/><path fill="#ff1800" d="M150 276h6v6h-6zM156 282h6v6h-6zM162 288h6v6h-6zM168 294h6v6h-6zM174 300h6v6h-6zM180 306h6v6h-6zM186 312h12v6h-12zM198 318h6v6h-6zM204 324h6v6h-6zM210 330h12v6h-12zM222 336h12v6h-12zM228 342h18v6h-18zM234 348h18v6h-18zM240 354h12v6h-12zM240 360h12v6h-12zM240 366h12v6h-12zM240 372h6v6h-6zM240 378h6v6h-6zM240 384h6v6h-6zM240 390h6v6h-6zM234 402h6v6h-6zM234 408h6v6h-6zM234 414h6v6h-6zM228 462h6v6h-6zM228 468h6v6h-6zM228 474h6v6h-6z"/><path fill="#c0f848" d="M582 276h6v6h-6zM576 282h6v6h-6zM516 306h6v6h-6zM486 318h6v6h-6z"/><path fill="#58f8d0" d="M666 276h6v6h-6zM498 372h6v6h-6zM804 456h6v6h-6zM786 462h6v6h-6zM780 468h6v6h-6zM726 474h18v6h-18zM774 474h6v6h-6zM756 480h18v6h-18zM678 510h6v6h-6zM672 522h6v6h-6zM600 546h6v6h-6zM630 564h6v6h-6zM642 570h6v6h-6zM672 588h6v6h-6zM684 594h6v6h-6z"/><path fill="#40c8ff" d="M804 276h6v6h-6zM774 300h6v6h-6zM744 324h6v6h-6zM708 336h6v6h-6zM690 342h6v6h-6zM672 348h12v6h-12zM630 354h48v6h-48zM594 360h12v6h-12zM612 360h54v6h-54zM600 366h30v6h-30zM450 432h30v6h-30zM438 438h18v6h-18zM420 444h18v6h-18zM414 450h12v6h-12zM408 456h6v6h-6zM402 462h6v6h-6zM606 498h6v6h-6zM594 504h18v6h-18zM582 510h18v6h-18zM534 516h54v6h-54zM444 528h6v6h-6zM414 540h6v6h-6zM402 546h6v6h-6zM384 552h12v6h-12zM372 558h6v6h-6z"/><path fill="#2088ff" d="M816 276h6v6h-6zM816 294h6v6h-6zM816 300h6v6h-6zM816 306h6v6h-6zM816 312h6v6h-6zM810 336h6v6h-6zM810 342h6v6h-6zM810 348h6v6h-6zM810 354h6v6h-6zM804 378h6v6h-6zM804 384h6v6h-6zM804 390h6v6h-6zM606 438h6v6h-6zM606 450h6v6h-6zM522 480h6v6h-6z"/><path fill="#2890ff" d="M822 276h6v6h-6zM822 282h6v6h-6zM822 288h6v6h-6zM822 294h6v6h-6zM816 324h6v6h-6zM816 330h6v6h-6zM816 336h6v6h-6zM810 366h6v6h-6zM810 372h6v6h-6zM810 378h6v6h-6zM804 396h6v6h-6z"/><path fill="#ff1000" d="M150 282h6v6h-6zM156 288h6v6h-6zM162 294h6v6h-6zM168 300h6v6h-6zM174 306h6v6h-6zM180 312h6v6h-6zM186 318h12v6h-12zM192 324h12v6h-12zM198 330h12v6h-12zM204 336h18v6h-18zM210 342h18v6h-18zM216 348h18v6h-18zM222 354h18v6h-18zM228 360h12v6h-12zM228 366h12v6h-12zM228 372h12v6h-12zM228 378h12v6h-12zM228 384h12v6h-12zM234 390h6v6h-6zM234 396h6v6h-6zM228 414h6v6h-6zM228 420h6v6h-6zM228 426h6v6h-6zM228 432h6v6h-6zM228 438h6v6h-6zM228 444h6v6h-6zM228 450h6v6h-6zM228 456h6v6h-6z"/><path fill="#ff2800" d="M168 282h6v6h-6zM174 288h6v6h-6zM180 294h6v6h-6zM186 300h6v6h-6zM192 306h12v6h-12zM204 312h6v6h-6zM210 318h12v6h-12zM222 324h12v6h-12zM234 330h18v6h-18zM252 336h6v6h-6zM258 342h6v6h-6zM258 348h6v6h-6zM258 354h6v6h-6zM258 360h6v6h-6zM252 372h6v6h-6zM252 378h6v6h-6zM246 390h6v6h-6zM246 396h6v6h-6zM240 408h6v6h-6zM240 414h6v6h-6zM234 438h6v6h-6zM228 492h6v6h-6z"/><path fill="#f0f018" d="M552 282h6v6h-6zM336 438h6v6h-6zM336 444h6v6h-6zM336 450h6v6h-6z"/><path fill="#d0f038" d="M570 282h6v6h-6zM564 288h6v6h-6zM540 300h6v6h-6z"/><path fill="#a8f860" d="M588 282h6v6h-6zM474 336h6v6h-6zM396 348h6v6h-6zM366 372h6v6h-6z"/><path fill="#98ff78" d="M600 282h6v6h-6zM516 318h6v6h-6zM504 324h6v6h-6zM492 330h6v6h-6zM486 336h6v6h-6zM468 348h6v6h-6zM456 354h6v6h-6z"/><path fill="#68ffa8" d="M648 282h6v6h-6zM642 288h6v6h-6zM774 516h6v6h-6zM768 522h12v6h-12zM750 528h24v6h-24zM750 534h24v6h-24zM750 540h24v6h-24zM750 546h18v6h-18zM750 552h12v6h-12zM750 558h12v6h-12zM750 564h12v6h-12zM756 570h6v6h-6zM756 576h6v6h-6zM756 582h12v6h-12zM756 588h12v6h-12zM762 594h6v6h-6zM762 600h6v6h-6zM762 606h6v6h-6z"/><path fill="#58f0d0" d="M666 282h6v6h-6zM666 288h6v6h-6zM660 300h6v6h-6zM606 306h6v6h-6zM636 306h24v6h-24zM528 354h6v6h-6zM510 366h6v6h-6zM396 390h18v6h-18zM414 396h6v6h-6zM456 402h6v6h-6zM432 408h6v6h-6z"/><path fill="#48d8ff" d="M792 282h6v6h-6zM702 330h6v6h-6zM648 336h6v6h-6zM684 336h6v6h-6zM414 438h6v6h-6zM408 444h6v6h-6zM402 450h6v6h-6zM396 456h6v6h-6zM528 528h18v6h-18zM396 564h6v6h-6zM378 570h12v6h-12z"/><path fill="#40c0ff" d="M798 282h6v6h-6zM768 306h6v6h-6zM762 312h6v6h-6zM732 330h6v6h-6zM714 336h6v6h-6zM696 342h6v6h-6zM684 348h6v6h-6zM666 360h6v6h-6zM630 366h36v6h-36zM606 372h54v6h-54zM618 378h6v6h-6zM816 408h6v6h-6zM810 414h6v6h-6zM492 426h6v6h-6zM480 432h12v6h-12zM456 438h30v6h-30zM438 444h42v6h-42zM426 450h42v6h-42zM414 456h36v6h-36zM408 462h18v6h-18zM396 468h6v6h-6zM600 492h6v6h-6zM588 498h18v6h-18zM570 504h24v6h-24zM492 510h12v6h-12zM516 510h66v6h-66zM468 516h12v6h-12zM450 522h12v6h-12zM432 528h12v6h-12zM420 534h12v6h-12zM408 540h6v6h-6zM390 546h12v6h-12zM378 552h6v6h-6zM366 558h6v6h-6z"/><path fill="#1880ff" d="M810 282h12v6h-12zM786 300h6v6h-6zM810 312h6v6h-6zM810 318h6v6h-6zM810 324h6v6h-6zM804 354h6v6h-6zM804 360h6v6h-6zM804 366h6v6h-6zM798 390h6v6h-6zM762 402h6v6h-6zM786 402h6v6h-6zM594 444h6v6h-6zM534 456h6v6h-6z"/><path fill="#ff0800" d="M150 288h6v6h-6zM156 294h6v6h-6zM162 300h6v6h-6zM162 306h12v6h-12zM168 312h12v6h-12zM174 318h12v6h-12zM180 324h12v6h-12zM180 330h18v6h-18zM186 336h18v6h-18zM186 342h24v6h-24zM192 348h24v6h-24zM198 354h24v6h-24zM198 360h30v6h-30zM204 366h24v6h-24zM204 372h24v6h-24zM210 378h18v6h-18zM210 384h18v6h-18zM216 390h18v6h-18zM216 396h18v6h-18zM216 402h18v6h-18zM222 408h12v6h-12zM222 414h6v6h-6zM222 420h6v6h-6zM222 426h6v6h-6zM222 432h6v6h-6zM222 438h6v6h-6zM222 444h6v6h-6zM222 450h6v6h-6zM222 456h6v6h-6zM222 462h6v6h-6zM222 468h6v6h-6zM222 474h6v6h-6zM222 480h6v6h-6zM222 486h6v6h-6zM222 492h6v6h-6zM204 498h6v6h-6zM168 504h6v6h-6z"/><path fill="#f0e808" d="M492 288h6v6h-6z"/><path fill="#c0f048" d="M570 288h6v6h-6zM354 396h6v6h-6zM354 402h6v6h-6zM354 408h6v6h-6z"/><path fill="#b0f858" d="M576 288h6v6h-6zM486 324h6v6h-6z"/><path fill="#a8f868" d="M582 288h6v6h-6zM564 300h6v6h-6zM522 312h6v6h-6z"/><path fill="#98f870" d="M588 288h6v6h-6zM396 354h12v6h-12zM372 372h6v6h-6z"/><path fill="#90f880" d="M594 288h6v6h-6zM390 360h6v6h-6zM372 378h6v6h-6z"/><path fill="#88f888" d="M600 288h6v6h-6zM588 294h6v6h-6zM402 360h6v6h-6zM384 366h6v6h-6zM378 372h6v6h-6zM372 384h6v6h-6zM888 528h6v6h-6z"/><path fill="#80f890" d="M606 288h6v6h-6zM594 294h6v6h-6zM390 366h6v6h-6zM408 366h12v6h-12zM378 378h6v6h-6zM840 492h6v6h-6zM852 498h6v6h-6zM864 504h6v6h-6zM870 510h6v6h-6zM888 522h6v6h-6zM894 528h6v6h-6zM900 534h6v6h-6zM672 600h6v6h-6z"/><path fill="#78f898" d="M612 288h6v6h-6zM414 372h12v6h-12zM426 378h6v6h-6zM834 486h6v6h-6zM846 492h6v6h-6zM858 498h6v6h-6z"/><path fill="#78f8a0" d="M618 288h6v6h-6zM600 294h6v6h-6zM588 300h6v6h-6zM522 330h6v6h-6zM390 372h6v6h-6zM378 384h6v6h-6zM432 384h6v6h-6zM822 480h12v6h-12zM840 486h12v6h-12zM852 492h6v6h-6zM864 498h6v6h-6zM870 504h6v6h-6zM576 564h6v6h-6zM654 588h6v6h-6zM666 594h6v6h-6z"/><path fill="#58f8c8" d="M660 288h6v6h-6zM660 294h6v6h-6zM654 300h6v6h-6z"/><path fill="#50e8e8" d="M678 288h6v6h-6zM678 294h6v6h-6zM678 300h6v6h-6zM678 306h6v6h-6zM672 312h6v6h-6zM648 318h24v6h-24zM564 330h12v6h-12zM558 336h6v6h-6zM552 342h6v6h-6zM546 348h6v6h-6zM540 354h6v6h-6zM534 360h6v6h-6zM528 366h6v6h-6zM510 378h6v6h-6zM504 384h6v6h-6zM498 390h6v6h-6zM468 408h18v6h-18zM420 414h12v6h-12zM798 438h12v6h-12zM780 444h6v6h-6zM822 444h6v6h-6zM720 456h12v6h-12zM378 468h6v6h-6zM582 534h12v6h-12zM570 540h6v6h-6z"/><path fill="#38b8ff" d="M792 288h6v6h-6zM756 318h6v6h-6zM738 330h6v6h-6zM726 336h6v6h-6zM708 342h6v6h-6zM690 348h6v6h-6zM684 354h6v6h-6zM672 360h6v6h-6zM666 366h6v6h-6zM588 372h6v6h-6zM666 372h6v6h-6zM594 378h6v6h-6zM630 378h6v6h-6zM546 384h6v6h-6zM600 384h36v6h-36zM540 390h6v6h-6zM618 390h18v6h-18zM528 396h6v6h-6zM522 402h6v6h-6zM516 408h6v6h-6zM510 414h6v6h-6zM504 420h6v6h-6zM498 426h6v6h-6zM492 432h6v6h-6zM486 438h12v6h-12zM480 444h12v6h-12zM468 450h18v6h-18zM456 456h24v6h-24zM432 462h36v6h-36zM408 468h48v6h-48zM396 474h48v6h-48zM390 480h36v6h-36zM594 480h18v6h-18zM384 486h24v6h-24zM582 486h36v6h-36zM378 492h12v6h-12zM564 492h24v6h-24zM618 492h6v6h-6zM372 498h6v6h-6zM546 498h24v6h-24zM366 504h6v6h-6zM528 504h18v6h-18zM474 510h6v6h-6zM450 516h12v6h-12zM426 522h24v6h-24zM408 528h24v6h-24zM390 534h24v6h-24zM378 540h24v6h-24zM360 546h30v6h-30zM360 552h12v6h-12z"/><path fill="#2090ff" d="M798 288h6v6h-6zM768 312h6v6h-6zM762 318h6v6h-6zM816 318h6v6h-6zM756 324h6v6h-6zM750 330h6v6h-6zM732 342h6v6h-6zM810 360h6v6h-6zM690 366h6v6h-6zM684 372h6v6h-6zM684 378h6v6h-6zM684 384h6v6h-6zM684 390h6v6h-6zM684 396h6v6h-6zM558 402h6v6h-6zM594 402h6v6h-6zM684 402h6v6h-6zM798 402h6v6h-6zM600 408h6v6h-6zM690 408h6v6h-6zM792 408h6v6h-6zM546 414h6v6h-6zM606 414h6v6h-6zM696 414h6v6h-6zM762 414h12v6h-12zM540 420h6v6h-6zM606 420h6v6h-6zM702 420h12v6h-12zM534 426h6v6h-6zM606 426h12v6h-12zM522 432h12v6h-12zM606 432h12v6h-12zM516 438h12v6h-12zM612 438h18v6h-18zM510 444h12v6h-12zM612 444h36v6h-36zM510 450h6v6h-6zM612 450h48v6h-48zM504 456h12v6h-12zM600 456h24v6h-24zM654 456h12v6h-12zM504 462h12v6h-12zM612 462h12v6h-12zM660 462h6v6h-6zM504 468h12v6h-12zM504 474h12v6h-12zM570 474h6v6h-6zM624 474h6v6h-6zM504 480h18v6h-18zM534 480h18v6h-18zM510 486h24v6h-24z"/><path fill="#1078ff" d="M804 288h12v6h-12zM780 306h6v6h-6zM804 324h6v6h-6zM756 330h6v6h-6zM804 330h6v6h-6zM750 336h6v6h-6zM744 348h6v6h-6zM732 354h6v6h-6zM744 366h12v6h-12zM798 366h6v6h-6zM738 372h24v6h-24zM798 372h6v6h-6zM750 378h18v6h-18zM756 384h12v6h-12zM762 390h12v6h-12zM792 390h6v6h-6zM768 396h30v6h-30z"/><path fill="#2080ff" d="M816 288h6v6h-6zM810 330h6v6h-6zM804 372h6v6h-6z"/><path fill="#50c8ff" d="M858 288h6v6h-6zM858 294h6v6h-6zM864 342h6v6h-6zM864 348h6v6h-6zM864 390h12v6h-12zM852 396h24v6h-24zM840 402h36v6h-36zM834 408h36v6h-36zM492 522h12v6h-12z"/><path fill="#ff0000" d="M150 294h6v6h-6zM150 300h12v6h-12zM150 306h12v6h-12zM150 312h18v6h-18zM150 318h24v6h-24zM150 324h30v6h-30zM150 330h30v6h-30zM150 336h36v6h-36zM150 342h36v6h-36zM150 348h42v6h-42zM150 354h48v6h-48zM150 360h48v6h-48zM150 366h54v6h-54zM150 372h54v6h-54zM150 378h60v6h-60zM150 384h60v6h-60zM150 390h66v6h-66zM150 396h66v6h-66zM150 402h66v6h-66zM150 408h72v6h-72zM150 414h72v6h-72zM150 420h72v6h-72zM150 426h72v6h-72zM150 432h72v6h-72zM150 438h72v6h-72zM150 444h72v6h-72zM150 450h72v6h-72zM150 456h72v6h-72zM150 462h72v6h-72zM150 468h72v6h-72zM150 474h72v6h-72zM150 480h72v6h-72zM150 486h72v6h-72zM150 492h72v6h-72zM150 498h54v6h-54z"/><path fill="#e8f010" d="M492 294h6v6h-6z"/><path fill="#e0f818" d="M510 294h6v6h-6z"/><path fill="#e0f028" d="M546 294h6v6h-6z"/><path fill="#d8f030" d="M552 294h6v6h-6zM348 408h6v6h-6zM348 414h6v6h-6z"/><path fill="#c8f040" d="M558 294h6v6h-6zM546 300h6v6h-6zM354 378h6v6h-6zM354 384h6v6h-6z"/><path fill="#c0f050" d="M564 294h6v6h-6zM552 300h6v6h-6zM354 414h6v6h-6zM354 420h6v6h-6zM354 426h6v6h-6z"/><path fill="#b0f860" d="M570 294h6v6h-6zM546 306h6v6h-6zM480 330h6v6h-6z"/><path fill="#a0f870" d="M576 294h6v6h-6zM528 312h12v6h-12zM366 384h6v6h-6z"/><path fill="#98f878" d="M582 294h6v6h-6zM570 300h6v6h-6zM384 360h6v6h-6zM378 366h6v6h-6zM366 390h6v6h-6z"/><path fill="#78f8a8" d="M606 294h6v6h-6zM576 306h6v6h-6zM564 312h6v6h-6zM546 318h6v6h-6zM534 324h6v6h-6zM528 330h6v6h-6zM516 336h6v6h-6zM384 378h6v6h-6zM372 402h6v6h-6zM858 492h6v6h-6zM564 570h6v6h-6zM558 576h6v6h-6zM552 582h6v6h-6zM678 600h6v6h-6z"/><path fill="#30b0ff" d="M786 294h6v6h-6zM714 342h6v6h-6zM696 348h6v6h-6zM678 360h6v6h-6zM570 378h18v6h-18zM558 384h6v6h-6zM588 384h12v6h-12zM546 390h6v6h-6zM600 390h12v6h-12zM540 396h6v6h-6zM612 396h6v6h-6zM528 402h12v6h-12zM522 408h6v6h-6zM516 414h6v6h-6zM798 414h6v6h-6zM510 420h6v6h-6zM504 426h6v6h-6zM762 426h6v6h-6zM738 432h6v6h-6zM492 444h6v6h-6zM486 450h6v6h-6zM480 456h6v6h-6zM474 462h6v6h-6zM462 468h12v6h-12zM450 474h18v6h-18zM594 474h18v6h-18zM438 480h24v6h-24zM582 480h6v6h-6zM612 480h6v6h-6zM420 486h36v6h-36zM570 486h12v6h-12zM618 486h6v6h-6zM396 492h60v6h-60zM552 492h12v6h-12zM624 492h6v6h-6zM378 498h78v6h-78zM534 498h12v6h-12zM372 504h84v6h-84zM480 504h6v6h-6zM366 510h96v6h-96zM366 516h72v6h-72zM360 522h60v6h-60zM354 528h48v6h-48zM354 534h36v6h-36zM354 540h24v6h-24z"/><path fill="#1888ff" d="M792 294h6v6h-6zM738 342h6v6h-6zM726 348h6v6h-6zM714 354h6v6h-6zM702 360h6v6h-6zM696 366h6v6h-6zM690 372h6v6h-6zM690 378h6v6h-6zM690 384h6v6h-6zM690 390h6v6h-6zM690 396h6v6h-6zM798 396h6v6h-6zM690 402h12v6h-12zM744 402h18v6h-18zM792 402h6v6h-6zM558 408h12v6h-12zM588 408h12v6h-12zM696 408h12v6h-12zM738 408h54v6h-54zM552 414h6v6h-6zM594 414h6v6h-6zM702 414h18v6h-18zM732 414h12v6h-12zM546 420h6v6h-6zM594 420h12v6h-12zM540 426h12v6h-12zM600 426h6v6h-6zM534 432h12v6h-12zM600 432h6v6h-6zM528 438h12v6h-12zM600 438h6v6h-6zM522 444h12v6h-12zM600 444h12v6h-12zM516 450h18v6h-18zM594 450h12v6h-12zM516 456h18v6h-18zM588 456h12v6h-12zM630 456h24v6h-24zM516 462h24v6h-24zM576 462h12v6h-12zM624 462h36v6h-36zM516 468h60v6h-60zM630 468h6v6h-6zM648 468h12v6h-12zM516 474h42v6h-42zM630 474h6v6h-6zM528 480h6v6h-6zM636 480h6v6h-6zM648 480h6v6h-6z"/><path fill="#1070ff" d="M798 294h12v6h-12zM804 300h6v6h-6zM804 306h6v6h-6zM774 312h6v6h-6zM804 312h6v6h-6zM768 318h6v6h-6zM804 318h6v6h-6zM762 324h6v6h-6zM798 336h6v6h-6zM798 342h6v6h-6zM798 348h6v6h-6zM798 354h6v6h-6zM798 360h6v6h-6zM792 372h6v6h-6zM792 378h6v6h-6zM768 384h6v6h-6zM792 384h6v6h-6zM774 390h18v6h-18z"/><path fill="#1878ff" d="M810 294h6v6h-6zM810 300h6v6h-6zM810 306h6v6h-6zM804 336h6v6h-6zM804 342h6v6h-6zM804 348h6v6h-6zM798 378h6v6h-6zM798 384h6v6h-6z"/><path fill="#40a8ff" d="M834 294h6v6h-6z"/><path fill="#f8a800" d="M384 300h18v6h-18zM354 306h12v6h-12z"/><path fill="#f8b800" d="M444 300h6v6h-6zM426 306h6v6h-6z"/><path fill="#f8c008" d="M450 300h6v6h-6zM438 306h12v6h-12zM372 312h12v6h-12zM414 312h18v6h-18zM348 318h6v6h-6zM324 384h6v6h-6zM324 390h6v6h-6zM318 402h6v6h-6zM318 408h6v6h-6zM276 504h6v6h-6z"/><path fill="#f0d808" d="M468 300h6v6h-6z"/><path fill="#e8e810" d="M480 300h6v6h-6z"/><path fill="#d8f820" d="M498 300h6v6h-6z"/><path fill="#d0f838" d="M534 300h6v6h-6z"/><path fill="#b8f058" d="M558 300h6v6h-6z"/><path fill="#90f888" d="M576 300h6v6h-6zM564 306h6v6h-6zM546 312h6v6h-6zM528 318h6v6h-6zM366 402h6v6h-6z"/><path fill="#80f898" d="M582 300h6v6h-6zM540 318h6v6h-6zM528 324h6v6h-6zM396 366h12v6h-12zM384 372h6v6h-6zM876 510h6v6h-6zM882 516h6v6h-6zM912 540h6v6h-6zM918 546h6v6h-6zM570 570h6v6h-6zM684 606h6v6h-6z"/><path fill="#50f0e0" d="M672 300h6v6h-6zM666 306h6v6h-6zM606 312h6v6h-6zM636 312h24v6h-24zM588 318h6v6h-6zM504 378h6v6h-6zM498 384h6v6h-6zM408 402h12v6h-12zM420 408h6v6h-6zM786 450h6v6h-6zM774 456h6v6h-6zM660 522h6v6h-6zM600 540h6v6h-6z"/><path fill="#0868ff" d="M792 300h12v6h-12zM786 306h18v6h-18zM780 312h6v6h-6zM792 312h12v6h-12zM774 318h6v6h-6zM792 318h12v6h-12zM768 324h6v6h-6zM792 324h12v6h-12zM762 330h12v6h-12zM792 330h6v6h-6zM762 336h12v6h-12zM786 336h12v6h-12zM756 342h18v6h-18zM786 342h12v6h-12zM762 348h36v6h-36zM762 354h36v6h-36zM768 360h24v6h-24zM768 366h24v6h-24zM774 372h18v6h-18z"/><path fill="#38a0ff" d="M828 300h6v6h-6zM828 306h6v6h-6zM822 354h6v6h-6z"/><path fill="#f8a000" d="M348 306h6v6h-6zM336 312h6v6h-6zM312 378h6v6h-6z"/><path fill="#f8b000" d="M366 306h6v6h-6z"/><path fill="#f8b008" d="M372 306h12v6h-12zM408 306h18v6h-18zM348 312h12v6h-12zM336 318h6v6h-6zM324 342h6v6h-6zM324 348h6v6h-6zM318 378h6v6h-6zM318 384h6v6h-6z"/><path fill="#f8b808" d="M384 306h24v6h-24zM432 306h6v6h-6zM360 312h12v6h-12zM342 318h6v6h-6zM336 324h6v6h-6zM330 330h6v6h-6zM324 378h6v6h-6zM318 390h6v6h-6zM318 396h6v6h-6z"/><path fill="#e0e820" d="M480 306h6v6h-6zM474 312h6v6h-6zM462 318h6v6h-6zM396 324h12v6h-12zM450 324h6v6h-6zM372 330h12v6h-12zM354 336h6v6h-6zM348 342h6v6h-6z"/><path fill="#b8f850" d="M528 306h12v6h-12zM474 330h6v6h-6zM396 342h6v6h-6z"/><path fill="#b8f858" d="M540 306h6v6h-6z"/><path fill="#a8f870" d="M552 306h6v6h-6z"/><path fill="#a0f880" d="M558 306h6v6h-6zM360 438h6v6h-6zM360 444h6v6h-6zM360 450h6v6h-6zM360 456h6v6h-6zM360 462h6v6h-6zM360 468h6v6h-6zM360 474h6v6h-6z"/><path fill="#88f898" d="M570 306h6v6h-6zM372 390h6v6h-6zM366 414h6v6h-6zM366 420h6v6h-6z"/><path fill="#60f0c8" d="M600 306h6v6h-6zM528 348h6v6h-6zM522 354h6v6h-6zM384 396h6v6h-6zM426 402h6v6h-6zM450 402h6v6h-6zM834 468h6v6h-6z"/><path fill="#50f0d8" d="M660 306h6v6h-6z"/><path fill="#50e8e0" d="M672 306h6v6h-6zM660 312h12v6h-12zM552 336h6v6h-6zM546 342h6v6h-6zM522 366h6v6h-6zM516 372h6v6h-6zM456 408h12v6h-12zM660 516h6v6h-6z"/><path fill="#50e0f0" d="M690 306h6v6h-6zM684 312h12v6h-12zM672 318h18v6h-18zM666 324h12v6h-12zM816 432h6v6h-6zM726 450h6v6h-6z"/><path fill="#f89800" d="M330 312h6v6h-6zM324 318h6v6h-6zM318 336h6v6h-6zM312 360h6v6h-6zM312 366h6v6h-6zM312 372h6v6h-6z"/><path fill="#f0c808" d="M390 312h18v6h-18zM360 318h12v6h-12zM342 324h6v6h-6z"/><path fill="#f0d008" d="M444 312h6v6h-6z"/><path fill="#e8e010" d="M462 312h6v6h-6zM450 318h6v6h-6z"/><path fill="#98f880" d="M540 312h6v6h-6zM366 396h6v6h-6z"/><path fill="#88f890" d="M552 312h6v6h-6zM534 318h6v6h-6zM522 324h6v6h-6z"/><path fill="#80f8a0" d="M558 312h6v6h-6zM372 396h6v6h-6z"/><path fill="#60f0d0" d="M588 312h6v6h-6zM570 318h6v6h-6zM558 324h6v6h-6zM546 330h6v6h-6zM540 336h6v6h-6zM534 342h6v6h-6zM516 360h6v6h-6zM390 390h6v6h-6zM384 402h6v6h-6zM378 414h6v6h-6zM816 456h6v6h-6zM828 462h6v6h-6zM840 468h6v6h-6zM714 486h6v6h-6zM708 492h6v6h-6z"/><path fill="#50f0e8" d="M612 312h24v6h-24zM594 318h12v6h-12zM576 324h12v6h-12zM492 390h6v6h-6zM492 396h6v6h-6zM396 402h12v6h-12zM480 402h12v6h-12zM390 408h12v6h-12zM408 408h12v6h-12zM390 414h6v6h-6zM384 426h6v6h-6zM384 432h6v6h-6zM786 444h24v6h-24zM816 444h6v6h-6zM768 450h18v6h-18zM732 456h12v6h-12zM768 456h6v6h-6zM660 528h6v6h-6zM594 534h6v6h-6zM660 534h6v6h-6zM606 540h6v6h-6zM558 546h6v6h-6zM552 552h6v6h-6z"/><path fill="#0860ff" d="M786 312h6v6h-6zM786 318h6v6h-6zM786 324h6v6h-6zM786 330h6v6h-6zM780 336h6v6h-6zM774 342h12v6h-12z"/><path fill="#f0c008" d="M354 318h6v6h-6z"/><path fill="#f0d010" d="M372 318h12v6h-12zM414 318h18v6h-18zM348 324h12v6h-12zM342 330h6v6h-6zM330 390h6v6h-6zM330 396h6v6h-6z"/><path fill="#e8d810" d="M396 318h12v6h-12zM360 324h12v6h-12zM348 330h6v6h-6z"/><path fill="#d0f030" d="M474 318h6v6h-6zM468 324h6v6h-6zM402 330h18v6h-18zM450 330h6v6h-6zM378 336h12v6h-12zM366 342h6v6h-6zM354 354h6v6h-6z"/><path fill="#a0ff70" d="M510 318h6v6h-6zM480 336h6v6h-6zM474 342h6v6h-6zM462 348h6v6h-6z"/><path fill="#78f8b0" d="M552 318h6v6h-6zM372 408h6v6h-6z"/><path fill="#48e8f0" d="M606 318h42v6h-42zM588 324h18v6h-18zM576 330h12v6h-12zM564 336h12v6h-12zM498 396h6v6h-6zM492 402h6v6h-6zM486 408h6v6h-6zM414 420h12v6h-12zM786 438h6v6h-6zM756 444h18v6h-18zM654 522h6v6h-6zM600 528h6v6h-6z"/><path fill="#0060ff" d="M780 318h6v6h-6zM774 324h12v6h-12zM774 330h12v6h-12zM774 336h6v6h-6z"/><path fill="#f89808" d="M324 324h6v6h-6zM318 342h6v6h-6zM264 504h6v6h-6z"/><path fill="#e8e018" d="M372 324h18v6h-18zM354 330h6v6h-6z"/><path fill="#e0e818" d="M390 324h6v6h-6zM438 324h12v6h-12zM366 330h6v6h-6z"/><path fill="#e0e020" d="M408 324h12v6h-12zM342 354h6v6h-6zM342 360h6v6h-6zM342 366h6v6h-6zM342 372h6v6h-6zM342 378h6v6h-6zM342 384h6v6h-6zM342 390h6v6h-6zM342 396h6v6h-6z"/><path fill="#e0e018" d="M420 324h18v6h-18zM360 330h6v6h-6zM348 336h6v6h-6zM342 348h6v6h-6z"/><path fill="#a8ff68" d="M492 324h6v6h-6zM468 342h6v6h-6z"/><path fill="#68f0c8" d="M552 324h6v6h-6zM378 408h6v6h-6zM372 438h6v6h-6zM372 444h6v6h-6zM846 474h6v6h-6zM852 480h6v6h-6z"/><path fill="#48e8f8" d="M606 324h30v6h-30zM588 330h12v6h-12zM408 426h12v6h-12zM402 432h12v6h-12zM396 438h12v6h-12zM396 444h6v6h-6zM750 444h6v6h-6zM390 450h12v6h-12zM390 456h6v6h-6zM384 462h6v6h-6zM606 528h6v6h-6zM534 540h18v6h-18z"/><path fill="#48e0f8" d="M636 324h12v6h-12zM600 330h24v6h-24zM630 330h18v6h-18zM576 336h12v6h-12zM564 342h6v6h-6zM558 348h6v6h-6zM420 426h6v6h-6zM804 426h12v6h-12zM414 432h6v6h-6zM408 438h6v6h-6zM402 444h6v6h-6zM738 444h12v6h-12zM390 462h6v6h-6zM384 468h6v6h-6zM534 534h36v6h-36z"/><path fill="#48e0f0" d="M648 324h18v6h-18zM558 342h6v6h-6zM552 348h6v6h-6zM546 354h6v6h-6zM540 360h6v6h-6zM528 372h6v6h-6zM510 384h6v6h-6zM504 390h6v6h-6zM498 402h6v6h-6zM492 408h6v6h-6zM462 414h30v6h-30zM426 420h6v6h-6zM792 432h12v6h-12zM774 438h12v6h-12zM378 474h6v6h-6zM582 528h18v6h-18zM570 534h6v6h-6z"/><path fill="#50d8f8" d="M696 324h12v6h-12zM684 330h18v6h-18zM822 426h12v6h-12zM834 432h6v6h-6zM840 438h6v6h-6zM846 444h6v6h-6zM366 576h6v6h-6zM366 582h6v6h-6zM366 588h6v6h-6zM372 600h6v6h-6z"/><path fill="#f89000" d="M318 330h6v6h-6zM312 348h6v6h-6zM312 354h6v6h-6z"/><path fill="#f0c010" d="M336 330h6v6h-6zM330 342h6v6h-6zM330 348h6v6h-6z"/><path fill="#d8e828" d="M384 330h6v6h-6zM348 354h6v6h-6z"/><path fill="#d0f028" d="M396 330h6v6h-6zM420 330h30v6h-30zM360 342h6v6h-6zM354 348h6v6h-6z"/><path fill="#48e0ff" d="M624 330h6v6h-6z"/><path fill="#48d8f8" d="M648 330h36v6h-36zM654 336h30v6h-30zM552 354h6v6h-6zM426 426h6v6h-6zM798 426h6v6h-6zM420 432h6v6h-6zM732 444h6v6h-6zM546 528h36v6h-36z"/><path fill="#0870ff" d="M798 330h6v6h-6zM756 336h6v6h-6zM750 342h6v6h-6zM750 348h12v6h-12zM750 354h12v6h-12zM756 360h12v6h-12zM792 360h6v6h-6zM756 366h12v6h-12zM792 366h6v6h-6zM762 372h12v6h-12zM768 378h24v6h-24zM774 384h18v6h-18z"/><path fill="#f0b808" d="M330 336h6v6h-6zM324 360h6v6h-6zM324 366h6v6h-6zM324 372h6v6h-6z"/><path fill="#f0c810" d="M336 336h6v6h-6zM330 354h6v6h-6zM330 360h6v6h-6zM330 366h6v6h-6zM330 372h6v6h-6zM330 378h6v6h-6zM330 384h6v6h-6z"/><path fill="#e8d818" d="M342 336h6v6h-6zM336 372h6v6h-6zM336 378h6v6h-6zM336 384h6v6h-6zM336 390h6v6h-6z"/><path fill="#d8e820" d="M360 336h6v6h-6zM354 342h6v6h-6zM348 348h6v6h-6z"/><path fill="#c8f038" d="M390 336h6v6h-6zM360 354h6v6h-6zM354 366h6v6h-6zM354 372h6v6h-6z"/><path fill="#c0f838" d="M432 336h18v6h-18z"/><path fill="#90ff88" d="M492 336h6v6h-6zM474 348h6v6h-6z"/><path fill="#88ff90" d="M498 336h6v6h-6zM480 348h6v6h-6zM468 354h6v6h-6zM540 606h6v6h-6z"/><path fill="#40e0f8" d="M588 336h18v6h-18zM570 342h6v6h-6zM642 516h12v6h-12zM600 522h18v6h-18z"/><path fill="#40e0ff" d="M606 336h24v6h-24zM612 516h30v6h-30z"/><path fill="#40d8ff" d="M630 336h18v6h-18zM594 342h42v6h-42zM582 348h36v6h-36zM612 510h18v6h-18zM606 516h6v6h-6z"/><path fill="#38c0ff" d="M720 336h6v6h-6zM702 342h6v6h-6zM678 354h6v6h-6zM570 366h24v6h-24zM558 372h12v6h-12zM594 372h12v6h-12zM552 378h6v6h-6zM600 378h18v6h-18zM624 378h6v6h-6zM534 390h6v6h-6zM516 402h6v6h-6zM450 456h6v6h-6zM426 462h6v6h-6zM402 468h6v6h-6zM390 474h6v6h-6zM384 480h6v6h-6zM378 486h6v6h-6zM588 492h12v6h-12zM606 492h12v6h-12zM570 498h18v6h-18zM624 498h6v6h-6zM546 504h24v6h-24zM414 534h6v6h-6zM402 540h6v6h-6zM372 552h6v6h-6z"/><path fill="#28a0ff" d="M738 336h6v6h-6zM708 348h6v6h-6zM696 354h6v6h-6zM678 372h6v6h-6zM564 390h30v6h-30zM552 396h6v6h-6zM600 396h6v6h-6zM546 402h6v6h-6zM606 402h6v6h-6zM540 408h6v6h-6zM612 408h6v6h-6zM798 408h6v6h-6zM534 414h6v6h-6zM618 414h6v6h-6zM786 414h6v6h-6zM528 420h6v6h-6zM624 420h6v6h-6zM768 420h6v6h-6zM516 426h6v6h-6zM630 426h12v6h-12zM510 432h6v6h-6zM642 432h18v6h-18zM504 438h6v6h-6zM666 444h6v6h-6zM498 450h6v6h-6zM492 456h6v6h-6zM492 462h6v6h-6zM486 468h6v6h-6zM594 468h6v6h-6zM606 468h12v6h-12zM480 474h12v6h-12zM582 474h6v6h-6zM618 474h6v6h-6zM480 480h12v6h-12zM564 480h12v6h-12zM474 486h18v6h-18zM546 486h12v6h-12zM474 492h30v6h-30zM534 492h6v6h-6z"/><path fill="#1890ff" d="M744 336h6v6h-6zM720 348h6v6h-6zM708 354h6v6h-6zM696 360h6v6h-6zM564 402h30v6h-30zM552 408h6v6h-6zM600 414h6v6h-6zM744 414h18v6h-18zM714 420h30v6h-30zM624 456h6v6h-6zM588 462h6v6h-6zM576 468h6v6h-6zM624 468h6v6h-6zM558 474h12v6h-12zM630 480h6v6h-6zM636 486h12v6h-12z"/><path fill="#e8d010" d="M336 342h6v6h-6z"/><path fill="#e0d818" d="M342 342h6v6h-6z"/><path fill="#c8f030" d="M372 342h6v6h-6zM360 348h6v6h-6zM354 360h6v6h-6z"/><path fill="#b0f848" d="M432 342h12v6h-12z"/><path fill="#80ffa0" d="M498 342h6v6h-6zM468 360h6v6h-6zM540 600h6v6h-6z"/><path fill="#40d8f8" d="M576 342h18v6h-18zM564 348h18v6h-18zM558 354h6v6h-6zM552 360h6v6h-6zM546 366h6v6h-6zM498 408h6v6h-6zM492 414h6v6h-6zM780 432h6v6h-6zM756 438h18v6h-18zM600 516h6v6h-6zM588 522h12v6h-12z"/><path fill="#40d0ff" d="M636 342h24v6h-24zM684 342h6v6h-6zM618 348h54v6h-54zM570 354h60v6h-60zM606 360h6v6h-6zM408 450h6v6h-6zM402 456h6v6h-6zM396 462h6v6h-6zM390 468h6v6h-6zM612 504h6v6h-6zM600 510h12v6h-12zM540 522h30v6h-30z"/><path fill="#28a8ff" d="M720 342h6v6h-6zM684 360h6v6h-6zM570 384h18v6h-18zM558 390h6v6h-6zM594 390h6v6h-6zM546 396h6v6h-6zM540 402h6v6h-6zM792 414h6v6h-6zM774 420h6v6h-6zM744 426h12v6h-12zM726 432h6v6h-6zM498 444h6v6h-6zM486 462h6v6h-6zM600 468h6v6h-6zM474 480h6v6h-6zM618 480h6v6h-6zM558 486h6v6h-6zM624 486h6v6h-6zM540 492h6v6h-6zM630 492h6v6h-6z"/><path fill="#2098ff" d="M726 342h6v6h-6zM714 348h6v6h-6zM702 354h6v6h-6zM690 360h6v6h-6zM564 396h30v6h-30zM552 402h6v6h-6zM600 402h6v6h-6zM546 408h6v6h-6zM540 414h6v6h-6zM774 414h12v6h-12zM534 420h6v6h-6zM744 420h18v6h-18zM528 426h6v6h-6zM720 426h18v6h-18zM618 432h6v6h-6zM510 438h6v6h-6zM648 444h12v6h-12zM504 450h6v6h-6zM660 450h6v6h-6zM498 462h6v6h-6zM594 462h18v6h-18zM498 468h6v6h-6zM582 468h6v6h-6zM618 468h6v6h-6zM498 474h6v6h-6zM576 474h6v6h-6zM498 480h6v6h-6zM552 480h12v6h-12zM624 480h6v6h-6zM498 486h12v6h-12zM534 486h12v6h-12zM630 486h6v6h-6z"/><path fill="#1080ff" d="M744 342h6v6h-6zM732 348h12v6h-12zM720 354h12v6h-12zM708 360h12v6h-12zM702 366h12v6h-12zM696 372h12v6h-12zM696 378h12v6h-12zM738 378h12v6h-12zM696 384h12v6h-12zM732 384h24v6h-24zM696 390h12v6h-12zM732 390h30v6h-30zM696 396h18v6h-18zM726 396h42v6h-42zM702 402h36v6h-36zM768 402h18v6h-18zM708 408h24v6h-24zM564 414h30v6h-30zM558 420h36v6h-36zM552 426h48v6h-48zM546 432h54v6h-54zM540 438h60v6h-60zM534 444h60v6h-60zM534 450h60v6h-60zM540 456h48v6h-48zM540 462h36v6h-36zM642 474h6v6h-6z"/><path fill="#e8d018" d="M336 348h6v6h-6zM336 354h6v6h-6zM336 360h6v6h-6zM336 366h6v6h-6z"/><path fill="#a0f860" d="M402 348h18v6h-18zM384 354h6v6h-6z"/><path fill="#58e8e0" d="M540 348h6v6h-6zM534 354h6v6h-6zM528 360h6v6h-6zM720 462h6v6h-6zM840 462h6v6h-6zM714 468h6v6h-6zM708 474h6v6h-6zM696 480h12v6h-12zM690 486h12v6h-12zM684 492h6v6h-6z"/><path fill="#f0b008" d="M324 354h6v6h-6z"/><path fill="#98f868" d="M390 354h6v6h-6z"/><path fill="#40d0f8" d="M564 354h6v6h-6zM558 360h6v6h-6zM552 366h6v6h-6zM540 372h12v6h-12zM534 378h6v6h-6zM522 384h12v6h-12zM516 390h6v6h-6zM510 396h6v6h-6zM504 402h6v6h-6zM486 420h6v6h-6zM804 420h6v6h-6zM792 426h6v6h-6zM774 432h6v6h-6zM744 438h12v6h-12zM384 474h6v6h-6zM588 516h12v6h-12zM570 522h18v6h-18z"/><path fill="#0878ff" d="M738 354h12v6h-12zM726 360h30v6h-30zM714 366h30v6h-30zM708 372h30v6h-30zM708 378h30v6h-30zM708 384h24v6h-24zM708 390h24v6h-24zM714 396h12v6h-12z"/><path fill="#d0e828" d="M348 360h6v6h-6zM348 366h6v6h-6z"/><path fill="#c0f040" d="M360 360h6v6h-6zM354 390h6v6h-6z"/><path fill="#a0f868" d="M378 360h6v6h-6zM372 366h6v6h-6zM366 378h6v6h-6z"/><path fill="#88f880" d="M396 360h6v6h-6zM408 360h6v6h-6zM894 534h6v6h-6zM900 540h6v6h-6zM906 546h6v6h-6zM912 552h6v6h-6zM918 558h6v6h-6zM912 570h6v6h-6zM906 576h6v6h-6zM900 582h6v6h-6zM894 588h6v6h-6zM882 594h6v6h-6zM858 606h6v6h-6z"/><path fill="#48d8f0" d="M546 360h6v6h-6zM540 366h6v6h-6zM534 372h6v6h-6zM522 378h6v6h-6zM516 384h6v6h-6zM510 390h6v6h-6zM504 396h6v6h-6zM432 420h12v6h-12zM786 432h6v6h-6z"/><path fill="#38c8ff" d="M564 360h30v6h-30zM558 366h12v6h-12zM594 366h6v6h-6zM552 372h6v6h-6zM612 498h12v6h-12zM630 504h6v6h-6z"/><path fill="#0880ff" d="M720 360h6v6h-6z"/><path fill="#b8f040" d="M360 366h6v6h-6z"/><path fill="#48e0e8" d="M534 366h6v6h-6zM516 378h6v6h-6z"/><path fill="#d0e830" d="M348 372h6v6h-6zM348 378h6v6h-6zM348 384h6v6h-6z"/><path fill="#b8f048" d="M360 372h6v6h-6z"/><path fill="#70f8a0" d="M408 372h6v6h-6zM420 378h6v6h-6z"/><path fill="#50e0e8" d="M522 372h6v6h-6zM444 414h6v6h-6zM714 456h6v6h-6z"/><path fill="#30b8ff" d="M570 372h18v6h-18zM558 378h12v6h-12zM588 378h6v6h-6zM552 384h6v6h-6zM534 396h6v6h-6zM630 498h6v6h-6z"/><path fill="#48c0ff" d="M846 372h6v6h-6zM846 378h6v6h-6zM846 384h6v6h-6zM840 390h6v6h-6zM834 396h12v6h-12zM828 402h12v6h-12zM822 408h6v6h-6zM504 510h12v6h-12zM480 516h12v6h-12zM462 522h6v6h-6z"/><path fill="#b8f050" d="M360 378h6v6h-6z"/><path fill="#40d8f0" d="M528 378h6v6h-6z"/><path fill="#40c8f8" d="M540 378h6v6h-6zM522 390h6v6h-6zM516 396h6v6h-6zM510 402h6v6h-6zM504 408h6v6h-6zM498 414h6v6h-6zM492 420h6v6h-6zM798 420h6v6h-6zM468 426h24v6h-24zM378 480h6v6h-6z"/><path fill="#38c8f8" d="M546 378h6v6h-6zM534 384h6v6h-6zM786 426h6v6h-6zM762 432h12v6h-12zM732 438h12v6h-12z"/><path fill="#b0f058" d="M360 384h6v6h-6zM360 390h6v6h-6z"/><path fill="#38c0f8" d="M540 384h6v6h-6zM528 390h6v6h-6zM522 396h6v6h-6zM510 408h6v6h-6zM504 414h6v6h-6zM498 420h6v6h-6zM792 420h6v6h-6zM780 426h6v6h-6zM756 432h6v6h-6zM726 438h6v6h-6z"/><path fill="#28b0ff" d="M564 384h6v6h-6zM756 426h6v6h-6zM732 432h6v6h-6zM636 498h6v6h-6z"/><path fill="#ffa808" d="M312 390h6v6h-6zM312 396h6v6h-6zM306 408h6v6h-6zM300 420h6v6h-6zM294 438h6v6h-6zM288 450h6v6h-6zM288 456h6v6h-6zM282 468h6v6h-6zM276 486h6v6h-6z"/><path fill="#d8e830" d="M348 390h6v6h-6zM348 396h6v6h-6zM348 402h6v6h-6z"/><path fill="#58ffd8" d="M474 390h6v6h-6z"/><path fill="#f0d818" d="M336 396h6v6h-6z"/><path fill="#b0f060" d="M360 396h6v6h-6z"/><path fill="#50f8e0" d="M480 396h6v6h-6zM474 402h6v6h-6zM762 462h6v6h-6zM666 540h6v6h-6zM612 546h6v6h-6zM618 552h6v6h-6zM630 558h6v6h-6zM648 570h6v6h-6zM678 570h6v6h-6zM660 576h6v6h-6zM672 582h6v6h-6z"/><path fill="#50f8e8" d="M486 396h6v6h-6zM744 456h24v6h-24zM750 462h12v6h-12zM618 546h6v6h-6zM666 546h6v6h-6zM624 552h6v6h-6zM546 558h6v6h-6zM636 558h6v6h-6zM672 558h6v6h-6zM540 564h6v6h-6zM642 564h6v6h-6zM672 564h6v6h-6zM534 570h6v6h-6zM654 570h6v6h-6zM666 576h18v6h-18zM678 582h6v6h-6zM522 588h6v6h-6zM510 606h6v6h-6z"/><path fill="#20a0ff" d="M558 396h6v6h-6zM594 396h6v6h-6zM762 420h6v6h-6zM738 426h6v6h-6zM636 492h6v6h-6z"/><path fill="#ffb008" d="M312 402h6v6h-6zM306 414h6v6h-6zM300 426h6v6h-6zM300 432h6v6h-6zM294 444h6v6h-6zM288 462h6v6h-6zM282 474h6v6h-6zM276 492h6v6h-6z"/><path fill="#f0e018" d="M336 402h6v6h-6zM336 408h6v6h-6zM336 414h6v6h-6zM288 516h6v6h-6z"/><path fill="#e8e820" d="M342 402h6v6h-6zM342 408h6v6h-6zM342 414h6v6h-6zM342 420h6v6h-6z"/><path fill="#a8f068" d="M360 402h6v6h-6z"/><path fill="#68f0c0" d="M378 402h6v6h-6zM840 474h6v6h-6z"/><path fill="#60f0c0" d="M432 402h18v6h-18z"/><path fill="#1088ff" d="M738 402h6v6h-6zM570 408h18v6h-18zM732 408h6v6h-6zM558 414h6v6h-6zM720 414h12v6h-12zM552 420h6v6h-6zM636 468h12v6h-12zM636 474h6v6h-6zM648 474h6v6h-6zM642 480h6v6h-6z"/><path fill="#ffb808" d="M312 408h6v6h-6zM306 420h6v6h-6zM306 426h6v6h-6zM300 438h6v6h-6zM294 450h6v6h-6zM288 468h6v6h-6zM282 480h6v6h-6zM282 486h6v6h-6zM276 498h6v6h-6z"/><path fill="#f8d010" d="M324 408h6v6h-6zM324 414h6v6h-6zM300 462h6v6h-6zM282 504h6v6h-6z"/><path fill="#f8d810" d="M330 408h6v6h-6zM324 420h6v6h-6zM318 426h6v6h-6zM318 432h6v6h-6zM312 444h6v6h-6zM306 450h6v6h-6zM306 456h6v6h-6zM300 468h6v6h-6zM294 480h6v6h-6zM288 492h6v6h-6zM288 498h6v6h-6zM282 510h6v6h-6z"/><path fill="#a8f070" d="M360 408h6v6h-6zM360 414h6v6h-6z"/><path fill="#90f890" d="M366 408h6v6h-6z"/><path fill="#50f0f0" d="M402 408h6v6h-6zM396 414h6v6h-6zM390 420h6v6h-6zM390 426h6v6h-6zM384 438h6v6h-6zM384 444h6v6h-6zM384 450h6v6h-6zM738 450h30v6h-30zM384 456h6v6h-6zM546 546h12v6h-12zM540 552h12v6h-12zM528 564h6v6h-6zM516 582h6v6h-6zM510 594h6v6h-6zM510 600h6v6h-6zM504 606h6v6h-6z"/><path fill="#58e8d0" d="M438 408h6v6h-6z"/><path fill="#58e8d8" d="M444 408h12v6h-12zM690 492h6v6h-6zM678 498h6v6h-6z"/><path fill="#ffc008" d="M312 414h6v6h-6zM312 420h6v6h-6zM306 432h6v6h-6zM300 444h6v6h-6zM294 456h6v6h-6zM294 462h6v6h-6zM288 474h6v6h-6zM282 492h6v6h-6z"/><path fill="#f8e010" d="M330 414h6v6h-6zM330 420h6v6h-6zM324 426h12v6h-12zM324 432h6v6h-6zM318 438h6v6h-6zM318 444h6v6h-6zM312 450h6v6h-6zM312 456h6v6h-6zM306 462h6v6h-6zM306 468h6v6h-6zM300 474h6v6h-6zM300 480h6v6h-6zM294 486h6v6h-6zM294 492h6v6h-6zM288 504h6v6h-6zM288 510h6v6h-6z"/><path fill="#70f0b8" d="M372 414h6v6h-6zM846 480h6v6h-6zM864 492h6v6h-6zM894 516h6v6h-6zM900 522h6v6h-6z"/><path fill="#48f0f0" d="M402 414h18v6h-18zM396 420h6v6h-6zM390 432h6v6h-6zM654 528h6v6h-6zM606 534h12v6h-12zM618 540h6v6h-6zM660 540h6v6h-6zM624 546h12v6h-12zM660 546h6v6h-6zM636 552h6v6h-6zM642 558h12v6h-12zM666 558h6v6h-6zM654 564h18v6h-18zM660 570h12v6h-12z"/><path fill="#50e0e0" d="M432 414h12v6h-12zM684 486h6v6h-6zM678 492h6v6h-6zM672 498h6v6h-6z"/><path fill="#50d8e8" d="M450 414h6v6h-6zM696 468h6v6h-6zM690 474h6v6h-6zM684 480h6v6h-6z"/><path fill="#50d8f0" d="M456 414h6v6h-6zM720 450h6v6h-6zM708 456h6v6h-6zM372 606h6v6h-6z"/><path fill="#38b8f8" d="M804 414h6v6h-6zM720 438h6v6h-6zM372 492h6v6h-6zM360 510h6v6h-6zM354 516h6v6h-6zM348 528h6v6h-6zM354 552h6v6h-6z"/><path fill="#50d0ff" d="M828 414h36v6h-36zM822 420h36v6h-36zM852 426h6v6h-6zM504 522h18v6h-18zM474 528h54v6h-54zM462 534h54v6h-54zM450 540h66v6h-66zM438 546h72v6h-72zM426 552h12v6h-12zM456 552h42v6h-42z"/><path fill="#58d0ff" d="M864 414h12v6h-12zM858 420h42v6h-42zM858 426h60v6h-60zM870 432h54v6h-54zM888 438h36v6h-36zM900 444h24v6h-24zM912 450h12v6h-12z"/><path fill="#f0e818" d="M336 420h6v6h-6zM336 426h6v6h-6zM336 432h6v6h-6z"/><path fill="#d8f038" d="M348 420h6v6h-6zM348 426h6v6h-6zM348 432h6v6h-6z"/><path fill="#a8f878" d="M360 420h6v6h-6zM360 426h6v6h-6zM360 432h6v6h-6z"/><path fill="#70f0c0" d="M372 420h6v6h-6zM372 426h6v6h-6zM858 486h6v6h-6z"/><path fill="#60f0d8" d="M378 420h6v6h-6zM378 426h6v6h-6zM834 462h6v6h-6zM714 480h6v6h-6zM708 486h6v6h-6zM702 492h6v6h-6zM696 498h6v6h-6z"/><path fill="#48f0f8" d="M402 420h12v6h-12zM396 426h12v6h-12zM396 432h6v6h-6zM390 438h6v6h-6zM390 444h6v6h-6zM618 534h6v6h-6zM654 534h6v6h-6zM624 540h12v6h-12zM654 540h6v6h-6zM636 546h6v6h-6zM642 552h24v6h-24zM654 558h12v6h-12z"/><path fill="#48d0f0" d="M444 420h6v6h-6zM684 474h6v6h-6z"/><path fill="#48d0f8" d="M450 420h36v6h-36zM810 420h12v6h-12zM432 426h12v6h-12zM426 432h6v6h-6zM720 444h12v6h-12z"/><path fill="#28b0f8" d="M780 420h6v6h-6z"/><path fill="#30b8f8" d="M786 420h6v6h-6zM768 426h12v6h-12zM744 432h6v6h-6zM648 504h6v6h-6z"/><path fill="#88f8a0" d="M366 426h6v6h-6zM366 432h6v6h-6z"/><path fill="#48c8f8" d="M444 426h24v6h-24zM714 444h6v6h-6zM690 456h6v6h-6zM360 564h6v6h-6z"/><path fill="#ffa008" d="M294 432h6v6h-6zM288 444h6v6h-6zM282 462h6v6h-6zM276 474h6v6h-6zM276 480h6v6h-6zM270 492h6v6h-6zM270 498h6v6h-6z"/><path fill="#f8e810" d="M330 432h6v6h-6zM324 438h6v6h-6zM324 444h6v6h-6zM318 450h12v6h-12zM318 456h6v6h-6zM312 462h6v6h-6zM312 468h6v6h-6zM306 474h6v6h-6zM306 480h6v6h-6zM300 486h6v6h-6zM300 492h6v6h-6zM294 498h6v6h-6zM294 504h6v6h-6z"/><path fill="#e8f028" d="M342 432h6v6h-6zM342 438h6v6h-6zM342 444h6v6h-6z"/><path fill="#c0f850" d="M354 432h6v6h-6z"/><path fill="#70f0c8" d="M372 432h6v6h-6z"/><path fill="#30c0f8" d="M750 432h6v6h-6zM642 504h6v6h-6z"/><path fill="#58d8ff" d="M858 432h12v6h-12zM852 438h36v6h-36zM852 444h48v6h-48zM858 450h54v6h-54zM864 456h60v6h-60zM870 462h54v6h-54zM882 468h42v6h-42zM888 474h36v6h-36zM894 480h30v6h-30zM900 486h24v6h-24zM906 492h18v6h-18zM912 498h12v6h-12zM918 504h6v6h-6z"/><path fill="#ffc808" d="M306 438h6v6h-6zM300 450h6v6h-6zM294 468h6v6h-6zM288 480h6v6h-6zM282 498h6v6h-6z"/><path fill="#f8e818" d="M330 438h6v6h-6z"/><path fill="#d8f838" d="M348 438h6v6h-6zM348 444h6v6h-6zM348 450h6v6h-6zM342 510h6v6h-6z"/><path fill="#c0f858" d="M354 438h6v6h-6zM354 444h6v6h-6zM354 450h6v6h-6zM354 486h6v6h-6z"/><path fill="#80f8a8" d="M366 438h6v6h-6zM366 444h6v6h-6zM366 450h6v6h-6z"/><path fill="#40b8f8" d="M708 438h12v6h-12zM684 450h6v6h-6zM678 462h6v6h-6zM678 468h6v6h-6zM366 498h6v6h-6z"/><path fill="#ffd008" d="M306 444h6v6h-6zM300 456h6v6h-6zM288 486h6v6h-6z"/><path fill="#f8f018" d="M330 444h6v6h-6zM330 450h6v6h-6zM330 456h6v6h-6zM330 462h6v6h-6zM294 516h12v6h-12z"/><path fill="#48c0f8" d="M696 444h18v6h-18zM690 450h6v6h-6zM684 456h6v6h-6zM684 462h6v6h-6z"/><path fill="#e8f828" d="M342 450h6v6h-6zM342 456h6v6h-6zM342 462h6v6h-6zM342 468h6v6h-6zM342 474h6v6h-6zM342 498h6v6h-6zM342 504h6v6h-6zM336 516h6v6h-6z"/><path fill="#68f0d0" d="M372 450h6v6h-6zM372 456h6v6h-6zM372 462h6v6h-6z"/><path fill="#50c8f8" d="M696 450h12v6h-12zM696 456h6v6h-6z"/><path fill="#50d0f8" d="M708 450h6v6h-6z"/><path fill="#50d0f0" d="M714 450h6v6h-6zM702 456h6v6h-6zM696 462h6v6h-6zM690 468h6v6h-6zM360 570h6v6h-6z"/><path fill="#58d8f8" d="M852 450h6v6h-6zM858 456h6v6h-6zM864 462h6v6h-6zM870 468h12v6h-12zM876 474h12v6h-12zM882 480h12v6h-12zM888 486h12v6h-12zM900 492h6v6h-6z"/><path fill="#f8f010" d="M324 456h6v6h-6zM318 462h12v6h-12zM318 468h12v6h-12zM312 474h12v6h-12zM312 480h12v6h-12zM306 486h12v6h-12zM306 492h6v6h-6zM300 498h12v6h-12zM300 504h6v6h-6zM294 510h12v6h-12z"/><path fill="#f0f818" d="M336 456h6v6h-6zM336 462h6v6h-6zM336 468h6v6h-6zM336 474h6v6h-6zM336 480h6v6h-6zM336 486h6v6h-6zM336 492h6v6h-6zM336 498h6v6h-6zM318 522h12v6h-12z"/><path fill="#e0f838" d="M348 456h6v6h-6zM348 462h6v6h-6zM348 468h6v6h-6zM348 474h6v6h-6zM348 480h6v6h-6zM348 486h6v6h-6zM348 492h6v6h-6z"/><path fill="#c8f858" d="M354 456h6v6h-6zM354 462h6v6h-6zM354 468h6v6h-6zM354 474h6v6h-6zM354 480h6v6h-6z"/><path fill="#80f8b0" d="M366 456h6v6h-6zM366 462h6v6h-6zM366 468h6v6h-6z"/><path fill="#40b0f8" d="M678 456h6v6h-6z"/><path fill="#30a8f8" d="M672 462h6v6h-6zM672 468h6v6h-6z"/><path fill="#50c8f0" d="M690 462h6v6h-6z"/><path fill="#58d8f0" d="M702 462h6v6h-6zM366 594h6v6h-6z"/><path fill="#f8f818" d="M330 468h6v6h-6zM324 474h12v6h-12zM324 480h12v6h-12zM324 486h12v6h-12zM324 492h12v6h-12zM324 498h12v6h-12zM318 504h18v6h-18zM318 510h18v6h-18zM306 516h30v6h-30z"/><path fill="#68f0d8" d="M372 468h6v6h-6z"/><path fill="#2090f8" d="M660 468h6v6h-6zM660 474h6v6h-6z"/><path fill="#28a0f8" d="M666 468h6v6h-6zM666 474h6v6h-6z"/><path fill="#48c8f0" d="M684 468h6v6h-6zM372 486h6v6h-6z"/><path fill="#58e0e0" d="M708 468h6v6h-6zM702 474h6v6h-6zM372 480h6v6h-6z"/><path fill="#80f0b0" d="M366 474h6v6h-6z"/><path fill="#60e8d8" d="M372 474h6v6h-6zM852 474h6v6h-6z"/><path fill="#1888f8" d="M654 474h6v6h-6z"/><path fill="#38b0f0" d="M672 474h6v6h-6z"/><path fill="#40c0f0" d="M678 474h6v6h-6z"/><path fill="#f0f828" d="M342 480h6v6h-6zM342 486h6v6h-6zM342 492h6v6h-6z"/><path fill="#a0f888" d="M360 480h6v6h-6z"/><path fill="#78f0b8" d="M366 480h6v6h-6z"/><path fill="#1890f8" d="M654 480h6v6h-6zM648 486h6v6h-6z"/><path fill="#2098f8" d="M660 480h6v6h-6zM654 486h6v6h-6zM648 492h6v6h-6z"/><path fill="#30a8f0" d="M666 480h6v6h-6z"/><path fill="#38b8f0" d="M672 480h6v6h-6z"/><path fill="#48c8e8" d="M678 480h6v6h-6z"/><path fill="#58ffd0" d="M750 480h6v6h-6z"/><path fill="#60e8d0" d="M858 480h6v6h-6z"/><path fill="#60e0e8" d="M870 480h6v6h-6zM876 486h6v6h-6zM882 492h6v6h-6zM888 498h6v6h-6z"/><path fill="#f8f810" d="M318 486h6v6h-6zM312 492h12v6h-12zM312 498h12v6h-12zM306 504h12v6h-12zM306 510h12v6h-12z"/><path fill="#98f090" d="M360 486h6v6h-6z"/><path fill="#28a0f0" d="M660 486h6v6h-6z"/><path fill="#30b0f0" d="M666 486h6v6h-6zM660 492h6v6h-6z"/><path fill="#40c8e8" d="M672 486h6v6h-6z"/><path fill="#48d8e8" d="M678 486h6v6h-6z"/><path fill="#60ffc0" d="M780 486h6v6h-6zM732 492h30v6h-30zM768 492h12v6h-12zM732 498h12v6h-12zM750 498h24v6h-24zM726 504h6v6h-6zM720 510h12v6h-12zM720 516h12v6h-12zM720 522h12v6h-12zM726 528h6v6h-6zM726 534h6v6h-6zM726 540h6v6h-6zM726 546h6v6h-6zM732 558h6v6h-6zM732 564h6v6h-6zM738 582h6v6h-6zM744 600h6v6h-6z"/><path fill="#70f0b0" d="M852 486h6v6h-6zM870 498h6v6h-6z"/><path fill="#60e0f0" d="M882 486h6v6h-6zM888 492h6v6h-6zM894 498h6v6h-6zM900 504h6v6h-6zM906 510h6v6h-6zM912 516h6v6h-6zM918 522h6v6h-6z"/><path fill="#c0f860" d="M354 492h6v6h-6z"/><path fill="#80e0a8" d="M360 492h6v6h-6z"/><path fill="#50c8e8" d="M366 492h6v6h-6z"/><path fill="#1898f8" d="M642 492h6v6h-6z"/><path fill="#20a0f8" d="M654 492h6v6h-6z"/><path fill="#38c0e8" d="M666 492h6v6h-6zM660 498h6v6h-6z"/><path fill="#48d0e0" d="M672 492h6v6h-6z"/><path fill="#68e8c8" d="M870 492h6v6h-6zM906 522h6v6h-6z"/><path fill="#60d8f8" d="M894 492h6v6h-6zM900 498h12v6h-12zM906 504h12v6h-12zM912 510h12v6h-12zM918 516h6v6h-6z"/><path fill="#f80808" d="M210 498h6v6h-6zM150 504h12v6h-12zM180 504h12v6h-12z"/><path fill="#f81008" d="M216 498h6v6h-6zM192 504h6v6h-6z"/><path fill="#f02010" d="M222 498h6v6h-6zM204 504h6v6h-6z"/><path fill="#f04810" d="M228 498h6v6h-6z"/><path fill="#f07010" d="M234 498h6v6h-6z"/><path fill="#f87808" d="M240 498h6v6h-6z"/><path fill="#f88008" d="M246 498h6v6h-6z"/><path fill="#d8f840" d="M348 498h6v6h-6z"/><path fill="#a8e880" d="M354 498h6v6h-6z"/><path fill="#60d0d0" d="M360 498h6v6h-6z"/><path fill="#28a8f8" d="M642 498h12v6h-12z"/><path fill="#28b0f0" d="M654 498h6v6h-6z"/><path fill="#40d0e0" d="M666 498h6v6h-6z"/><path fill="#60ffb8" d="M744 498h6v6h-6zM732 504h42v6h-42zM732 510h6v6h-6z"/><path fill="#70e8c8" d="M876 498h6v6h-6zM912 528h6v6h-6zM918 534h6v6h-6z"/><path fill="#f80800" d="M162 504h6v6h-6zM174 504h6v6h-6z"/><path fill="#f81808" d="M198 504h6v6h-6z"/><path fill="#e83818" d="M210 504h6v6h-6zM156 510h24v6h-24z"/><path fill="#e05028" d="M216 504h6v6h-6z"/><path fill="#d07038" d="M222 504h6v6h-6z"/><path fill="#d09040" d="M228 504h6v6h-6z"/><path fill="#d09838" d="M234 504h6v6h-6z"/><path fill="#e09828" d="M240 504h6v6h-6z"/><path fill="#f09010" d="M252 504h6v6h-6z"/><path fill="#f0f820" d="M336 504h6v6h-6zM336 510h6v6h-6zM312 522h6v6h-6zM330 522h6v6h-6z"/><path fill="#c8f058" d="M348 504h6v6h-6z"/><path fill="#40b8f0" d="M360 504h6v6h-6zM348 522h6v6h-6zM348 546h6v6h-6z"/><path fill="#38d0ff" d="M618 504h12v6h-12z"/><path fill="#30c8ff" d="M636 504h6v6h-6z"/><path fill="#38c0f0" d="M654 504h6v6h-6z"/><path fill="#40d0e8" d="M660 504h6v6h-6zM654 510h6v6h-6z"/><path fill="#48d8e0" d="M666 504h6v6h-6zM660 510h6v6h-6z"/><path fill="#50e8d8" d="M672 504h6v6h-6zM666 510h6v6h-6z"/><path fill="#80f888" d="M858 504h6v6h-6zM864 510h6v6h-6zM876 516h6v6h-6zM882 522h6v6h-6zM906 540h6v6h-6zM912 546h6v6h-6zM918 552h6v6h-6zM864 606h6v6h-6z"/><path fill="#78f0b0" d="M876 504h6v6h-6zM906 528h6v6h-6zM912 534h6v6h-6zM918 540h6v6h-6z"/><path fill="#70e8c0" d="M882 504h6v6h-6zM888 510h6v6h-6z"/><path fill="#e84020" d="M150 510h6v6h-6zM180 510h6v6h-6z"/><path fill="#e04820" d="M186 510h6v6h-6z"/><path fill="#e05828" d="M192 510h6v6h-6z"/><path fill="#d86830" d="M198 510h6v6h-6z"/><path fill="#d08038" d="M204 510h6v6h-6z"/><path fill="#c89048" d="M210 510h6v6h-6zM156 516h24v6h-24z"/><path fill="#c0a048" d="M216 510h6v6h-6z"/><path fill="#c0a850" d="M222 510h6v6h-6zM198 516h6v6h-6z"/><path fill="#b8b050" d="M228 510h12v6h-12zM204 516h6v6h-6zM156 522h18v6h-18z"/><path fill="#c0b050" d="M240 510h6v6h-6z"/><path fill="#c8a848" d="M246 510h6v6h-6z"/><path fill="#d0a838" d="M252 510h6v6h-6z"/><path fill="#e0a028" d="M258 510h6v6h-6z"/><path fill="#e8a818" d="M264 510h6v6h-6z"/><path fill="#f0b010" d="M270 510h6v6h-6z"/><path fill="#f8c810" d="M276 510h6v6h-6z"/><path fill="#98e090" d="M348 510h6v6h-6z"/><path fill="#50c0e0" d="M354 510h6v6h-6z"/><path fill="#38d8ff" d="M630 510h12v6h-12z"/><path fill="#38d0f8" d="M642 510h12v6h-12z"/><path fill="#78f0a8" d="M882 510h6v6h-6zM888 516h6v6h-6z"/><path fill="#c09848" d="M150 516h6v6h-6zM180 516h12v6h-12z"/><path fill="#c0a050" d="M192 516h6v6h-6z"/><path fill="#b8b058" d="M210 516h12v6h-12zM150 522h6v6h-6zM174 522h30v6h-30zM150 528h36v6h-36zM150 534h12v6h-12z"/><path fill="#b8b858" d="M222 516h36v6h-36zM204 522h42v6h-42zM186 528h42v6h-42zM162 534h48v6h-48zM150 540h42v6h-42zM150 546h12v6h-12z"/><path fill="#c0b850" d="M258 516h6v6h-6z"/><path fill="#e0c828" d="M276 516h6v6h-6z"/><path fill="#e8d820" d="M282 516h6v6h-6z"/><path fill="#b8e868" d="M342 516h6v6h-6z"/><path fill="#40e0e8" d="M654 516h6v6h-6z"/><path fill="#68e0e0" d="M906 516h6v6h-6zM912 522h6v6h-6zM918 528h6v6h-6z"/><path fill="#b0b858" d="M246 522h24v6h-24zM228 528h12v6h-12zM210 534h18v6h-18zM192 540h18v6h-18zM162 546h30v6h-30zM150 552h18v6h-18z"/><path fill="#b8c058" d="M270 522h6v6h-6z"/><path fill="#b8c050" d="M276 522h6v6h-6z"/><path fill="#c8c848" d="M282 522h6v6h-6z"/><path fill="#d0d840" d="M288 522h6v6h-6z"/><path fill="#e0e030" d="M294 522h6v6h-6z"/><path fill="#e8e828" d="M300 522h6v6h-6z"/><path fill="#f0f020" d="M306 522h6v6h-6z"/><path fill="#d0f048" d="M336 522h6v6h-6z"/><path fill="#40e8f8" d="M618 522h6v6h-6zM642 522h12v6h-12zM612 528h12v6h-12z"/><path fill="#40e8ff" d="M624 522h18v6h-18z"/><path fill="#78f0a0" d="M894 522h6v6h-6zM900 528h6v6h-6z"/><path fill="#b0b860" d="M240 528h18v6h-18zM228 534h24v6h-24zM210 540h36v6h-36zM192 546h48v6h-48zM168 552h66v6h-66zM150 558h78v6h-78zM150 564h72v6h-72zM150 570h60v6h-60zM150 576h54v6h-54zM150 582h42v6h-42zM150 588h30v6h-30zM150 594h18v6h-18z"/><path fill="#b0c060" d="M258 528h30v6h-30zM252 534h30v6h-30zM246 540h30v6h-30zM240 546h24v6h-24zM234 552h24v6h-24zM228 558h18v6h-18zM222 564h18v6h-18zM210 570h18v6h-18zM204 576h12v6h-12zM192 582h12v6h-12zM180 588h12v6h-12zM168 594h12v6h-12zM150 600h12v6h-12z"/><path fill="#b0c860" d="M288 528h6v6h-6zM312 534h6v6h-6z"/><path fill="#b8c858" d="M294 528h6v6h-6z"/><path fill="#c0d050" d="M300 528h6v6h-6z"/><path fill="#c8d848" d="M306 528h6v6h-6z"/><path fill="#d0e040" d="M312 528h6v6h-6z"/><path fill="#d8e838" d="M318 528h12v6h-12z"/><path fill="#d0e840" d="M330 528h6v6h-6z"/><path fill="#98d888" d="M336 528h6v6h-6z"/><path fill="#50b8e0" d="M342 528h6v6h-6zM342 540h6v6h-6z"/><path fill="#40f0f8" d="M624 528h6v6h-6zM642 528h12v6h-12zM624 534h30v6h-30zM636 540h18v6h-18zM642 546h18v6h-18z"/><path fill="#40f0ff" d="M630 528h12v6h-12z"/><path fill="#70ff98" d="M780 528h6v6h-6zM774 558h6v6h-6zM774 564h6v6h-6zM774 570h6v6h-6zM774 576h6v6h-6zM774 582h6v6h-6zM774 588h6v6h-6zM774 594h6v6h-6zM774 600h6v6h-6z"/><path fill="#b0c068" d="M282 534h6v6h-6zM264 546h6v6h-6zM246 558h6v6h-6zM228 570h6v6h-6zM216 576h6v6h-6zM204 582h6v6h-6zM192 588h6v6h-6zM180 594h6v6h-6zM162 600h12v6h-12zM150 606h6v6h-6z"/><path fill="#a8c068" d="M288 534h12v6h-12zM276 540h36v6h-36zM270 546h36v6h-36zM258 552h42v6h-42zM252 558h42v6h-42zM240 564h48v6h-48zM234 570h48v6h-48zM222 576h54v6h-54zM210 582h60v6h-60zM198 588h66v6h-66zM186 594h72v6h-72zM174 600h78v6h-78zM156 606h84v6h-84z"/><path fill="#a8c868" d="M300 534h6v6h-6z"/><path fill="#b0c868" d="M306 534h6v6h-6z"/><path fill="#b0d060" d="M318 534h12v6h-12z"/><path fill="#a8d070" d="M330 534h6v6h-6z"/><path fill="#78c0a8" d="M336 534h6v6h-6z"/><path fill="#40b8e8" d="M342 534h6v6h-6z"/><path fill="#38b0f8" d="M348 534h6v6h-6zM348 540h6v6h-6z"/><path fill="#48f0e8" d="M600 534h6v6h-6zM612 540h6v6h-6z"/><path fill="#80f0a0" d="M906 534h6v6h-6z"/><path fill="#a8c870" d="M312 540h12v6h-12zM306 552h6v6h-6z"/><path fill="#a0c870" d="M324 540h6v6h-6zM312 546h18v6h-18zM312 552h18v6h-18zM306 558h18v6h-18zM306 564h18v6h-18zM300 570h18v6h-18zM300 576h12v6h-12zM294 582h18v6h-18zM294 588h12v6h-12zM288 594h12v6h-12zM282 600h18v6h-18zM282 606h12v6h-12z"/><path fill="#a0c878" d="M330 540h6v6h-6zM330 546h6v6h-6zM330 552h6v6h-6zM324 558h12v6h-12zM324 564h12v6h-12zM318 570h18v6h-18zM312 576h18v6h-18zM312 582h18v6h-18zM306 588h18v6h-18zM300 594h24v6h-24zM300 600h18v6h-18zM294 606h24v6h-24z"/><path fill="#80c098" d="M336 540h6v6h-6z"/><path fill="#a8c070" d="M306 546h6v6h-6zM300 552h6v6h-6zM294 558h12v6h-12zM288 564h12v6h-12zM282 570h12v6h-12zM276 576h12v6h-12zM270 582h12v6h-12zM264 588h12v6h-12zM258 594h12v6h-12zM252 600h12v6h-12zM240 606h24v6h-24z"/><path fill="#90c888" d="M336 546h6v6h-6zM342 558h6v6h-6zM348 570h6v6h-6zM348 576h6v6h-6zM354 594h6v6h-6zM354 600h6v6h-6zM354 606h6v6h-6z"/><path fill="#68c0c0" d="M342 546h6v6h-6z"/><path fill="#50f0f8" d="M534 546h12v6h-12zM528 552h12v6h-12zM528 558h6v6h-6zM522 564h6v6h-6zM522 570h6v6h-6zM516 576h6v6h-6zM510 588h6v6h-6zM504 600h6v6h-6z"/><path fill="#68ffa0" d="M768 546h6v6h-6zM762 552h12v6h-12zM762 558h12v6h-12zM762 564h12v6h-12zM762 570h12v6h-12zM762 576h12v6h-12zM768 582h6v6h-6zM768 588h6v6h-6zM768 594h6v6h-6zM768 600h6v6h-6zM768 606h6v6h-6z"/><path fill="#98c880" d="M336 552h6v6h-6zM342 564h6v6h-6zM342 570h6v6h-6zM342 576h6v6h-6zM342 582h12v6h-12zM336 588h18v6h-18zM336 594h18v6h-18zM330 600h24v6h-24zM330 606h24v6h-24z"/><path fill="#80c0a0" d="M342 552h6v6h-6z"/><path fill="#50b8d8" d="M348 552h6v6h-6z"/><path fill="#48f8e8" d="M630 552h6v6h-6zM648 564h6v6h-6z"/><path fill="#50f8f0" d="M666 552h6v6h-6zM534 558h12v6h-12zM534 564h6v6h-6zM528 570h6v6h-6zM672 570h6v6h-6zM522 576h12v6h-12zM522 582h6v6h-6zM516 588h6v6h-6zM516 594h6v6h-6z"/><path fill="#60ffd8" d="M678 552h6v6h-6zM684 564h6v6h-6zM690 582h6v6h-6zM528 594h6v6h-6z"/><path fill="#98c878" d="M336 558h6v6h-6zM336 564h6v6h-6zM336 570h6v6h-6zM330 576h12v6h-12zM330 582h12v6h-12zM324 588h12v6h-12zM324 594h12v6h-12zM318 600h12v6h-12zM318 606h12v6h-12z"/><path fill="#70c0b8" d="M348 558h6v6h-6z"/><path fill="#48c0e8" d="M354 558h6v6h-6z"/><path fill="#40c0f8" d="M360 558h6v6h-6z"/><path fill="#a0c070" d="M300 564h6v6h-6zM294 570h6v6h-6zM288 576h12v6h-12zM282 582h12v6h-12zM276 588h18v6h-18zM270 594h18v6h-18zM264 600h18v6h-18zM264 606h18v6h-18z"/><path fill="#88c898" d="M348 564h6v6h-6z"/><path fill="#60c8d8" d="M354 564h6v6h-6z"/><path fill="#80f880" d="M918 564h6v6h-6zM876 600h6v6h-6z"/><path fill="#70c8c0" d="M354 570h6v6h-6z"/><path fill="#78e898" d="M918 570h6v6h-6zM900 588h6v6h-6z"/><path fill="#80f090" d="M912 576h6v6h-6zM906 582h6v6h-6z"/><path fill="#70d8a8" d="M918 576h6v6h-6zM912 582h6v6h-6zM906 588h6v6h-6z"/><path fill="#88c8a0" d="M354 582h6v6h-6z"/><path fill="#88c890" d="M354 588h6v6h-6zM360 606h6v6h-6z"/><path fill="#78ffb0" d="M546 588h6v6h-6z"/><path fill="#78d0b8" d="M360 594h6v6h-6z"/><path fill="#80f088" d="M888 594h6v6h-6z"/><path fill="#78e8a0" d="M894 594h6v6h-6z"/><path fill="#a8ff50" d="M588 600h30v6h-30zM576 606h66v6h-66z"/><path fill="#88f878" d="M870 600h6v6h-6z"/><path fill="#80e890" d="M882 600h6v6h-6zM870 606h6v6h-6z"/><path fill="#70e0a8" d="M888 600h6v6h-6z"/><path fill="#70d0c8" d="M366 606h6v6h-6z"/><path fill="#78e0a0" d="M876 606h6v6h-6z"/></g>
<path d="M209 377 209 375 210 372 210 370 213 368 213 365 213 363M213 363 211 361 208 362 205 362 203 362 200 362M200 362 198 364 196 366 194 367 193 370 190 371 188 373 187 376 185 377M183 377 183 374 182 372 182 369 184 366 182 363 183 361M445 399 443 400 440 399 437 398 434 399M434 399 432 401 430 404 429 406 427 409M225 380 227 379 227 375 229 374 230 371 233 370 234 367 235 365M235 365 234 362 237 359 235 356M235 356 233 356 231 358 228 358 225 359 223 359 220 360 218 360 215 361M215 361 213 363M200 362 201 359 201 356 201 353 201 351M248 301 250 300 253 302 255 301M255 301 257 299 258 297 260 294 259 291 263 290 262 287 264 285 266 283 267 281 267 278 269 276 270 274 271 272M271 272 270 270 267 268 265 267M235 356 236 352 239 350M239 350 240 347 239 345 238 342 240 339 238 337 238 334 237 331M237 331 237 331M237 331 234 333 233 335 229 335 228 337 225 338 223 340 221 342M221 342 220 344 219 347 217 350 219 353 217 355 217 358 215 361M221 342 218 339M235 365 237 365 240 366 242 369 244 370 247 372 250 372M250 372 251 369 252 367 254 365 256 363 258 361M258 361 257 359 260 356 260 354 260 351 260 349 260 346 262 344 263 341 262 339M262 339 259 338M259 338 258 340 255 341 253 343 250 343 248 345 246 346 243 346 242 349 239 350M307 383 307 382M307 382 306 379 306 377 304 375 304 372 305 369 303 367 301 365 301 362M301 362 300 365 299 367 297 368 295 370 295 373 291 374 292 377 290 379 289 381 286 383M345 393 346 390 347 388 349 385 351 383 352 380M352 380 349 378 347 375 346 372M346 372 344 374 341 374 339 376 337 378 335 378 333 380 330 381M330 381 330 384 328 386 326 389M250 372 250 372M237 331 236 328 235 326 237 322 236 320 235 317M271 379 271 377 272 374 274 372 274 370 275 367 276 365M276 365 274 361M274 361 272 362 269 362 266 361 263 361 261 360 258 361M301 362 301 361M301 361 299 359 297 356 294 355M294 355 292 357 289 356 287 358 285 359 283 361 281 362 278 362 276 365M274 361 276 359 275 355 277 353 277 351 277 348 280 346 280 343 282 341 283 339 282 336 285 334 284 331M284 331 281 330 278 329M278 329 276 331 272 330 272 334 268 333 266 335 265 338 262 339M259 338 260 335 259 332 259 329 261 327 260 324 260 321 258 319 259 316 259 313M259 313 256 314 254 316 254 319 250 319 249 321 248 324 245 325 244 327 241 327 240 330 237 331M307 382 310 380 310 377 313 375 316 375 318 373 320 371 322 369 324 367M324 367 323 365 322 362 323 359 321 357 320 354 319 352 319 349M319 349 316 348M316 348 313 349 313 353 310 354 309 357 306 357 303 359 301 361M294 355 295 352 295 350 295 347 297 345 298 342 296 339 297 337 299 334M299 334 297 333 294 332 292 331 290 330 287 330M287 330 284 331M359 406 358 403 362 401 362 399 362 396 363 394 366 392 366 389 367 386M367 386 365 384 363 382 362 379 361 377M361 377 357 377 355 379 352 380M330 381 329 378 329 375 328 372 327 370 325 367M325 367 324 367M346 372 347 369 349 367 349 363M349 363 348 361 347 358 345 356 345 353 345 350 344 348M344 348 342 348M342 348 340 350 338 351 338 354 336 357 333 357 333 360 331 362 328 363 327 365 325 367M278 329 279 326 279 323 279 321 280 318 281 316 280 313 282 310M282 310 280 308 276 307 275 304 273 301M273 301 272 304 270 306 266 305 264 307 262 309 260 311M260 311 259 313M260 311 259 308 256 306 255 304 255 301M361 377 362 375 364 373 365 370 366 368 369 367 369 364 370 361 373 359 374 357 376 355M376 355 375 352M375 352 374 350 371 348 367 349 365 347M365 347 363 348 362 351 359 351 359 355 355 355 355 359 352 359 351 361 349 363M316 348 316 346 316 343 318 341 316 338 317 335 320 333 320 330 319 327 320 325 320 322M320 322 317 324 313 322M313 322 311 324 309 326 307 328 306 330 302 330 302 333 299 334M342 348 341 346 339 344 338 342 339 338 337 336M337 336 336 339 334 340 330 340 328 342 326 345 324 345 321 346 319 349M410 405 409 402 412 400 412 398 414 395 412 392 412 390 414 388 414 385M414 385 411 383M411 383 409 383M409 383 408 386 406 387 404 390 402 391 400 393 400 396 396 396 395 399 393 400 392 403 390 405M380 404 380 402 382 399 381 396 383 394 382 391 383 388 386 386 386 384 387 381 387 378M387 378 386 377M386 377 383 377 380 378 378 380 376 381 374 383 371 384 369 385 367 386M409 383 407 382 405 381 403 379 402 377 399 377 397 374M397 374 395 376 393 378 389 377 387 378M386 377 387 375 386 372 386 369 388 367 387 364 386 362 387 359 388 357M388 357 385 355 382 357 378 357 376 355M287 330 288 327 291 326 291 323 292 320 293 318 296 317 297 315 298 312 300 310 301 308 303 306 305 305 306 302 307 299M307 299 305 298 303 297 300 295 297 296M297 296 295 297 294 300 291 300 290 303 287 305 285 307 283 308 282 310M434 399 435 395M435 395 434 393 431 391 430 388 429 385 426 384 426 381M426 381 423 383 420 382 417 384 414 385M337 336 339 334 339 331 340 328 341 326 343 323 344 321M344 321 342 318 339 317 338 314M338 314 336 315 333 315 330 316 327 316M327 316 325 318 322 319 320 322M313 322 312 320 313 317 313 314 313 311 313 309 311 306 311 303 311 301 310 298M310 298 307 299M365 347 366 344 366 342 365 339 366 337M366 337 363 337 361 334 358 334M358 334 356 336 353 338 352 341 349 341 348 344 346 347 344 348M411 383 412 380 413 378 415 376 416 374 416 371 418 369 418 366 419 364 420 362 420 359 421 357 423 354 423 352 425 350M425 350 422 348 419 346M419 346 417 348 414 348 412 351M412 351 410 352 409 355 408 357 408 360 406 362 404 364 402 365 401 368 400 370 398 372 397 374M412 351 410 349 407 350 405 347 402 348 400 346 397 346M397 346 395 348 393 350 392 352 389 354 388 357M435 395 437 393 438 391 438 388 440 386 442 384 444 382 444 379 447 378 449 376 448 373 451 371M451 371 449 370 447 369 445 367 442 367 440 365 438 363M438 363 436 365 436 368 434 370 431 371 429 373 428 376 427 379 426 381M358 334 357 331 357 329 359 326 359 324 358 321 360 319 360 316 360 313M360 313 357 314 355 317 352 317 350 319 347 320 344 321M397 346 399 344 400 342 399 338 402 337 403 334 402 331 404 329 404 326M404 326 401 327 399 326 396 327 394 329 391 330 388 328M388 328 388 331 385 333 385 336 383 338 381 340 381 343 379 345 377 347 377 350 375 352M327 316 327 313 328 311 328 308 328 305 331 303 330 300 331 298 332 295 331 292 332 290 333 287M333 287 332 286M332 286 330 288 327 288 324 286 322 288 319 288M319 288 317 289 315 291 314 294 311 295 310 298M297 296 298 292 298 289 297 286 297 283M297 283 295 282 292 283 290 280 288 280M288 280 286 281 283 282M283 282 283 285 281 287 279 289 278 291 277 294 275 296 275 299 273 301M283 282 282 279 281 277 277 275 276 273 274 271M274 271 271 272M285 230 286 227 290 227 290 224 292 222 294 220 297 218 298 216 299 213 302 212 303 210M303 210 302 207 301 205 300 202 299 200M319 288 318 284 320 281 321 278 321 275M321 275 318 275 315 273 314 270 310 270M310 270 308 271 306 273 306 276 303 277 302 280 298 280 297 283M288 280 288 277 291 276 293 273 294 271 295 269 296 267 296 263 299 262 299 259 301 257 302 255 303 253M303 253 303 250 301 248 299 247 298 244M298 244 294 245M294 245 292 246 292 250 288 250 289 254 286 255 284 257 282 258 281 261 279 262 278 265 276 267 275 269 274 271M388 328 388 325 386 323 383 321 383 317M383 317 381 319 379 320 378 323 375 324 374 326 374 329 372 332 370 333 369 335 366 337M338 314 339 311 341 309 342 307 344 305 345 303 345 300 348 298 349 296 349 293 351 291 352 289M352 289 351 285M351 285 349 286 346 285 343 285 341 287 338 287 335 286 333 287M438 363 439 362M439 362 437 359 435 357 433 355 431 353 428 352 427 349M427 349 425 350M419 346 420 344 421 341 422 339 422 336 423 334 422 331 423 328 424 326M424 326 422 323 421 321M421 321 418 321 415 320 412 321 410 322 407 323M407 323 404 326M454 369 451 371M383 317 383 316M383 316 382 314 379 313 378 311 375 310 373 308 372 305M372 305 370 307 367 306 365 308 363 310M363 310 360 313M463 340 460 341 457 341 455 344 452 344M452 344 451 347 448 348 447 351 445 353 442 354 443 358 441 360 439 362M464 296 462 299 462 302 460 304 458 306 458 309 455 310 456 314 453 315 452 318M452 318 455 318 458 317 461 319 463 319 466 317 469 318M427 349 429 348 430 345 433 344 434 342 436 340 439 339 439 335 442 334 444 332 445 330M445 330 447 327 447 324 449 321M449 321 447 319 444 317 442 316M442 316 439 317 437 318 436 321 432 320 430 321 429 324 426 324 424 326M407 323 409 320 407 317 409 315 409 312 410 310 409 307 410 305 411 302 411 300M411 300 409 301 406 301 403 301 401 302 398 304 396 304 393 305M393 305 392 308 388 309 388 312 385 313 383 316M363 310 362 307 363 305 361 302 363 299 362 297 363 294 362 291 362 289M362 289 360 290 357 290 355 288 352 289M310 270 311 267 312 265 312 262 312 260 314 258 314 255 314 252M314 252 311 252 308 252 306 253 303 253M321 275 323 274 324 271 325 269 325 266 329 265 330 263 330 260 332 258M332 258 331 255 330 252 329 250 327 247 326 245 325 242M325 242 322 244 320 246 317 247 315 249 314 252M332 286 334 285 336 282 335 279 338 277 338 274 340 272 340 269 342 267 343 265 346 263 348 261 348 258M348 258 349 255 347 252M347 252 345 254 342 254 339 254 337 255 334 256 332 258M325 242 326 239M326 239 326 236 326 234 324 231 326 229 325 226 325 223 325 221M325 221 323 219 320 217M320 217 317 218 314 219M314 219 314 222 312 224 310 226 309 229 307 230 306 233 304 235 303 238 301 239 299 241 298 244M294 245 292 244 290 241 290 239 288 237 286 235M351 285 353 283 354 280 354 278 356 276 356 273 358 271 358 268 360 266 360 263M360 263 358 263 355 261 353 260 350 260 348 258M445 330 446 333 449 334 448 337 450 339 450 342 452 344M452 318 449 321M372 305 374 303 374 300 376 299 378 297 378 294 381 292 381 290 382 287 384 286 385 284 387 281 388 279M388 279 386 277 383 278 381 275 378 276 375 275M375 275 373 276 371 278 370 281 367 282 365 284 363 286 362 289M421 321 421 318 423 316 425 314 425 311 426 308 428 306 430 304 431 301M431 301 430 299 429 296 427 294 428 291 427 288M427 288 424 289 421 288 419 289M419 289 418 292 415 292 415 296 413 298 411 300M314 219 312 218 311 215 310 212 307 211 306 209M306 209 303 210M360 263 361 263M361 263 362 260 364 258 365 255 367 253 368 251 370 248 372 247 373 244M373 244 372 242 372 239 372 237 373 234M373 234 370 234 367 233 364 232M364 232 362 233 360 235 358 238 355 238 353 239M353 239 351 241 351 245 349 247 349 249 347 252M375 275 376 272 376 269 376 266M376 266 372 267 370 265 367 264 364 264 361 263M353 239 353 236 352 234 349 231 349 228 348 225M348 225 346 227 343 227 342 230 339 230 337 232 335 233 333 236 331 237 328 237 326 239M393 305 394 303 395 300 395 298 394 295 395 293 395 290 398 288 398 285 397 283 398 280M398 280 396 278 393 278 391 277M391 277 388 279M419 289 419 289M419 289 417 286 414 285 413 282 410 281 408 279 406 276M406 276 404 277 400 278 398 280M442 316 442 313 442 311 442 308 444 306 444 303 443 301 445 298 445 296M445 296 443 298 440 299 437 300 434 299 431 301M391 277 391 274 394 273 393 270 394 267 396 265 398 263 396 260 398 258 400 256M400 256 397 255 395 253 393 250 390 249 388 247M388 247 388 249 387 252 383 253 382 255 381 258 380 260 380 263 377 264 376 266M320 217 320 215 322 213 325 211 324 208 326 206 327 203 327 200 329 198 329 195 331 193 333 191M333 191 331 189 328 188 325 186 322 185M322 185 322 188 319 189 317 191 316 193 315 196 312 198 312 201 311 203 309 205 306 206 306 209M462 290 459 289 456 292 453 291 450 292 447 293M447 293 445 296M447 293 447 290 448 287 449 285 448 282 449 280 450 277 450 274M450 274 447 273 444 273M444 273 442 275 440 276 438 278 435 279 434 281 432 283 431 285 428 286 427 288M348 225 348 222 349 220 351 217M351 217 350 215 348 213 345 212 344 209 342 207M342 207 340 209 338 211 336 213 333 214 332 217 330 218 327 219 325 221M406 276 408 274 409 272 410 269 411 267 414 266 415 264 415 261 418 259 419 257M419 257 419 254 416 252 417 249 415 247 413 244M413 244 411 245 410 248 407 249 405 250 404 253 402 255 400 256M419 289 420 286 420 284 422 282 423 280 423 277 425 275 425 272 427 270 428 268 427 265 431 264 430 261 433 259 433 256 433 254M433 254 431 256 428 255 425 255 422 256 419 257M388 247 389 243M389 243 386 242 383 242 381 245 378 245 376 244 373 244M364 232 366 230 367 227 366 224 368 222 368 219 369 217 372 215 371 212 373 210M373 210 371 209 369 206 366 205 365 202M365 202 364 203M364 203 362 204 361 207 358 208 356 210 354 212 353 215 351 217M458 268 456 270 453 270 453 274 450 274M444 273 442 270 443 268 443 265 444 262 445 260 442 257 445 254 443 252M443 252 441 253 437 251 434 253M434 253 433 254M473 216 471 218 469 219 468 223 466 224 463 225 461 226 460 229 458 231M458 231 457 234 457 237 454 239 454 242M454 242 457 242 460 243 462 246 465 247M342 207 344 205 342 202 344 200 344 197 347 196 346 193 348 191 348 188 349 186M349 186 346 184 343 185M343 185 340 186 337 187 335 189 333 191M413 244 415 240M415 240 415 237 412 235 414 232 414 229 413 227 412 225M412 225 410 227 407 227 405 228 402 229 400 231 399 233 397 234 394 235 392 237M392 237 390 240 389 243M392 237 394 234 391 231 391 229 393 226 392 223 392 220M392 220 389 220 386 220M386 220 385 223 382 224 381 226 378 228 376 229 374 232 373 234M434 253 434 250 436 248 437 245 436 243 436 240 437 238 436 235 436 232 437 230 437 227 438 224 439 222M439 222 439 222M439 222 437 225 434 225 433 228 430 229 428 230 425 231 424 235 421 235 419 237 418 239 415 240M364 203 364 200 363 198 361 196 360 194 358 192 359 189 357 187 358 184 356 182M356 182 353 182 351 184 349 186M343 185 343 182 343 179 342 177 342 174 344 171 344 168 343 166 344 163 344 160M386 220 387 217 386 215 385 212 386 210 385 207 384 205M384 205 382 207 378 206 376 208 373 210M454 242 453 244 450 246 447 247 446 250 443 252M412 225 412 222 414 220M414 220 412 218 413 215 412 212 411 210 409 208 409 205 408 203M408 203 407 205 404 206 404 209 402 211 400 213 398 215 395 216 394 219 392 220M384 205 386 202 388 200 389 197 391 195 393 193M393 193 392 190 392 186 394 184M394 184 391 183 388 184 386 183 383 184 380 186 378 185M378 185 377 188 375 189 373 191 372 194 371 196 369 198 366 200 365 202M439 222 437 219 437 217 436 214 438 211 437 208M437 208 433 208 430 207M430 207 427 208 425 209 425 213 422 214 420 215 418 217 415 218 414 220M408 203 409 202M409 202 407 199 407 195M407 195 404 195 401 196 399 193 396 194 393 193M458 231 458 228 457 226 455 223 452 222 452 219 451 216M451 216 448 218 446 218 443 219 441 220 439 222M359 154 362 155 361 159 363 161M363 161 366 160 367 157 370 157 372 154 374 153 377 152M377 152 379 150 378 146 379 143 381 141M356 182 356 181M356 181 357 179 358 176 360 174 361 172 360 169 363 167 363 164 363 161M430 207 429 204 428 201 430 199 429 196 430 193 429 190 430 188M430 188 428 188 426 191 424 192 421 192 419 194 418 197 415 197 412 198 410 200 409 202M378 185 379 182 378 180 377 177 379 174 378 172M378 172 375 172 373 173 371 174 368 175 366 178 364 179 362 180 358 180 356 181M394 184 394 181 397 179 399 176 399 173 401 171M401 171 399 169 398 166 395 166 393 164 391 161 390 159M390 159 388 160 385 161 383 163M383 163 382 166 380 169 378 172M407 195 409 193 409 190 412 189 412 186 414 184 415 181 415 179 417 176M417 176 418 173 415 171 416 168 414 166M414 166 410 167 407 166M407 166 404 168 401 171M468 197 465 199 462 201M462 201 460 203 460 206 456 207 456 210 454 212 452 214 451 216M462 201 460 199 458 197 458 194 458 191 456 189 455 187 453 186M453 186 451 187 450 189 450 193 447 194 446 196 444 198 444 201 441 202 440 204 438 206 437 208M383 163 381 161 381 159 380 156 379 154 377 152M462 175 460 176 457 178 457 181 454 182M454 182 453 186M407 166 407 163 408 161 410 158 410 155 411 152 411 150M396 150 395 152 393 154 391 156 390 159M430 188 432 185M432 185 432 182 430 180 429 178 428 175 429 172M429 172 426 174 422 173 420 175 417 176M454 182 451 180 450 177 447 176M447 176 445 177 442 178 440 179 439 182 437 183 434 183 432 185M453 153 453 156 452 158 452 161 452 163 451 166 448 168 447 170 446 173 447 176M439 154 437 156 437 159 434 160 435 164 432 165 431 168 429 169 429 172M425 153 422 155 422 158 419 159 418 162 415 163 414 166M461 488 464 486 465 484M465 484 466 481 464 479 464 476M464 476 462 474 459 473 457 473M449 429 450 428M450 428 449 425 448 422 450 419 448 417 449 414M449 414 446 414 443 413M450 428 453 427 455 425 458 427 461 425 463 425M463 425 465 422 463 418 464 415M464 415 461 415 458 414 456 412 453 411M453 411 449 414M453 411 451 409 453 406 455 404 454 401 454 399M454 399 451 398 448 396M462 282 465 281M465 281 467 278 469 276 470 273 473 271M473 271 471 268 469 265M469 265 466 263 464 263 461 264M464 415 467 413M467 413 466 410 467 407 464 404 464 402 465 399M465 399 462 399 459 397M459 397 456 396 454 399M459 397 460 394 460 392 460 389 460 387 460 384 461 382M461 382 458 381 455 382 453 381M461 382 461 381M461 381 461 379 460 376 460 374 462 371 461 368M461 368 457 365M461 354 463 353 466 354 469 352 471 353M471 353 472 350 472 347 469 345 470 342 469 340 468 337 468 335M468 335 467 334M476 505 479 503 481 500M481 500 479 497 478 494 478 490M478 490 476 489 473 487 470 487 467 486 465 484M455 462 458 462 460 460 462 459 465 458 467 456M467 456 464 454 463 451 461 450 459 448 456 446 455 443M455 443 453 443M464 476 465 473 469 473 470 471M470 471 471 468 469 465 468 462 468 460 468 457M468 457 467 456M467 456 467 456M455 443 458 443 460 440 463 440 465 440 467 437M467 437 469 435 469 432 468 429M468 429 467 426 463 425M467 456 469 454 471 452 472 449 472 446 474 444M474 444 471 442 468 440 467 437M461 368 464 368 468 368 471 367M471 367 472 364 473 362 471 359 472 356 474 354M474 354 471 353M468 429 471 428 475 429 477 427M477 427 478 424 481 421M481 421 478 420 477 418 476 415 475 413M475 413 472 412 470 411 467 413M465 399 467 397 470 398 472 396 475 395 477 395M477 395 477 392 478 388 477 385 476 382M476 382 476 382M476 382 473 382 470 383 467 380 464 382 461 381M466 300 468 298 471 296 474 296 476 295M476 295 476 291M476 291 473 289 472 287 470 285 468 283 465 281M464 175 467 174 470 175 472 175M472 175 475 173 478 172 479 168M479 168 476 167 474 165 474 162M474 162 471 162 467 163 464 161M478 490 478 488 481 486 481 483 484 481 485 479 485 476M485 476 485 474M485 474 483 472M483 472 480 472 478 472 475 472 473 472 470 471M472 252 470 249 466 249M469 265 469 262 471 260 471 257 472 255 472 252M472 252 472 252M472 252 473 249 475 247 477 246 478 243 480 241M480 241 477 239 476 236 473 234M473 234 471 233M468 190 471 188 475 188M475 188 475 187M475 187 475 184 473 181 474 178 472 175M476 382 477 379 477 376 476 373M476 373 474 371 474 368 471 367M470 316 473 315 477 315M477 315 478 314M478 314 478 311 478 309 478 306 480 304 481 302 481 299M481 299 479 296 476 295M468 335 470 336 473 336 475 334 478 335M478 335 480 332 481 329 483 327M483 327 481 325 482 321 478 320 479 317 477 315M473 271 476 272 479 272 482 271M482 271 483 268 486 267M486 267 486 264 486 261 485 258M485 258 482 258 480 255 478 254 476 252 472 252M475 413 476 410 477 408 478 406 481 404M481 404 479 401 481 398 479 396M479 396 477 395M480 547 482 545 486 546 488 544 490 543 493 543 495 541M495 541 495 539 492 537 492 535 490 532 488 531 488 528 487 526M487 526 486 526M474 444 478 444M478 444 480 441 481 438 484 436M484 436 482 433 480 432 479 429 477 427M474 354 477 353 480 353M480 353 484 350M484 350 485 347 485 344M485 344 482 342 480 340 481 336 478 335M475 187 478 187 481 185 484 186 486 184M486 184 487 182M479 168 479 168M473 234 475 231 477 229 479 227 482 225M482 225 481 221M481 221 479 218 475 218M476 291 478 288 481 287 482 284 484 282M484 282 485 279 482 277 482 274 482 271M474 162 475 160 474 157M483 472 484 469 482 466 482 464 481 461 482 458M482 458 479 457 476 457 474 457 471 458 468 457M476 382 479 381 481 382 484 381 486 381 489 380 491 379 494 380M494 380 493 376 495 373M495 373 494 370 492 368M492 368 489 369 486 367M486 367 484 369 481 369 479 371 476 373M472 206 475 205 477 205 479 203 481 202M481 202 479 200 480 197 479 194 478 192 475 191 475 188M486 367 485 364 483 362 482 359 480 356 480 353M481 202 482 202M482 202 484 200 487 199 490 197 492 195 494 193M494 193 493 190 489 189 489 186 486 184M481 221 482 218 485 216 487 214 489 213M489 213 489 210 485 209 486 206 483 205 482 202M486 453 485 451 483 448 480 447 478 444M482 458 484 455 486 453M486 453 488 453M488 453 491 450 493 448M493 448 492 445 493 442 494 439 493 436M493 436 490 437 487 435 484 436M481 299 483 298 486 298 488 297 491 298 494 298M494 298 495 295 496 292 496 289M496 289 495 286M495 286 492 286 490 283 487 283 484 282M481 421 483 420 486 421 489 419M489 419 491 416 490 413 491 410M491 410 488 410 486 407 483 405 481 404M479 396 482 394 485 396 488 393 491 394M491 394 492 391 495 390 496 388 497 385M497 385 496 382 494 380M485 474 487 471 489 470 492 468 496 469 498 466M498 466 498 464M498 464 496 462 494 460 492 458 491 455 488 453M485 258 486 255 488 254 491 253 492 250M492 250 492 247 489 245 490 242M490 242 489 241M489 241 486 241 483 242 480 241M489 241 488 238 490 236 487 233 489 230M489 230 486 228 485 226 482 225M492 368 493 365 496 364 496 360 498 358 499 355M499 355 499 354M499 354 496 353 493 354 491 352 489 352 486 352 484 350M493 436 494 434M494 434 493 432 495 429 493 426 494 424M494 424 491 422 489 419M478 314 481 314 484 313 486 312 489 314 492 313 495 313M495 313 494 311 496 308 498 306 497 303M497 303 496 300 494 298M489 230 491 228 494 227 497 226M497 226 496 223 495 221 496 218 494 216 493 214M493 214 489 213M620 159 623 160 624 164 628 164 629 166 632 168M632 168 634 166 634 163 635 160 636 158M565 170 568 174M568 174 570 172 574 172 576 171 579 169M490 242 492 241 495 239 498 239 500 237 503 236M503 236 503 233 501 230 500 227M500 227 497 226M495 286 495 282 497 280 498 277M498 277 496 274 495 271 493 269M493 269 491 270 489 266 486 267M485 344 487 342 489 340 491 338 494 338 496 336M496 336 495 333 491 331 490 327M490 327 487 327 483 327M493 214 496 211 499 210M499 210 500 207 500 204 501 202M501 202 500 200 498 198 499 195 496 193M496 193 494 193M496 193 499 190 501 188M501 188 500 185 500 183 499 181 501 178 499 176M501 551 500 548 498 546 498 543 496 541M496 541 495 541M487 526 488 523 491 523 493 522 494 519 497 518 499 517M499 517 498 515 497 512 495 510 494 507 493 505 493 502 491 500M491 500 489 501 486 500 483 500 481 500M496 541 499 541 499 537 503 537 505 536 506 533 509 532 511 530M511 530 510 527 509 525 508 522 508 519M508 519 505 517 502 518 499 517M491 410 494 409 497 408 499 405M499 405 496 404 495 401 493 399 493 396 491 394M493 269 496 267 498 265 500 263 502 261M502 261 502 259 503 256 501 253M501 253 498 252 495 251 492 250M491 500 494 499 496 497 498 496 500 493 503 492 504 490M504 490 504 489M504 489 502 487 499 487 498 484 496 483 493 483 491 480 489 479 487 477 485 476M494 424 497 423 499 422 501 420 504 420M504 420 502 417 503 415 503 412 502 410 503 407M503 407 501 405M501 405 499 405M490 327 491 324 494 323 494 319 497 317M497 317 495 313M498 464 500 461 502 460 506 459 507 456M507 456 508 453 507 450M507 450 504 450 502 448 499 449 496 449 493 448M496 336 500 337M500 337 502 335 502 332 505 331 504 328 507 326 508 324M508 324 506 320M506 320 503 318 500 318 497 317M499 354 499 351 501 348 502 345 504 343M504 343 503 340 500 337M497 385 499 385 502 385 505 386 507 388M507 388 510 387 510 383 512 382 514 380M514 380 514 377 514 374M514 374 512 372 510 370M510 370 507 370 505 372 502 372 500 373 497 374 495 373M508 519 510 517 512 515 514 513 515 510 517 508 519 506M519 506 518 504 517 502 515 500 513 498 514 494 511 493M511 493 509 493 507 490 504 490M504 489 504 486 506 484 506 481 507 478 506 475M506 475 504 473 502 471 499 469 498 466M501 405 502 403 504 401 504 398 506 396 507 394 508 391M508 391 507 388M507 450 509 447M509 447 508 443 505 442 506 438 504 436M504 436 501 435 497 434 494 434M506 320 507 318 508 315 512 314 513 312M513 312 513 308 511 305 511 302M511 302 508 303 505 303 502 302 500 304 497 303M496 289 499 287 501 289 504 289 506 288 509 289M509 289 510 286 512 283M512 283 511 280 510 278 509 275M509 275 506 277 504 276 501 276 498 277M520 550 520 548 519 545 519 543 518 540 516 538 517 535 516 533M516 533 513 532 511 530M510 370 509 367 509 364 509 361M509 361 506 360 504 358 501 358 499 355M501 188 505 187 508 187M500 227 502 224 506 225 508 224 510 222 512 220M512 220 511 217M511 217 509 214 506 214 504 213 501 212 499 210M501 253 504 252 506 251 509 249 510 246M510 246 511 243 510 240M510 240 507 240 506 237 503 236M506 475 509 475 511 472 514 472 516 469M516 469 516 466 516 462M516 462 515 460 511 460 509 458 507 456M509 275 509 272 512 270 513 267M513 267 510 266 508 264 505 262 502 261M504 436 506 434 508 431 509 428 512 427M512 427 511 424M511 424 509 422 506 421 504 420M516 533 518 531 521 532 523 530 526 528 529 528M529 528 531 526 529 523 531 521 531 518 531 515 532 513 533 510M533 510 532 509M532 509 529 509 527 508 525 506 522 505 519 506M509 361 511 359 512 357 516 356M516 356 516 353 515 351 515 348 514 346 515 343M515 343 512 344 509 342 507 342 504 343M511 493 514 492 516 490 517 488 520 487 521 484 524 484 526 482M526 482 525 478M525 478 522 477 522 473 519 473 517 472 516 469M513 267 515 266M515 266 516 264 515 261 516 258 516 256 515 253 516 251M516 251 513 249 510 246M511 424 513 422 515 420 517 417 518 414M518 414 517 412 516 409 513 408M513 408 511 407 508 408 505 407 503 407M511 302 513 300M513 300 511 297 510 294 509 292 509 289M509 447 511 445 514 446 516 445 519 443M519 443 519 441 519 438 518 435 517 433 516 430M516 430 514 429 512 427M511 217 511 214 514 212 514 209 516 207 517 204 517 202M517 202 516 201M516 201 514 200 511 201 509 203 506 201 504 202 501 202M510 240 512 237 515 235M515 235 515 233 515 230 516 227 514 224 515 222M515 222 512 220M516 201 517 198 517 195 516 192M513 408 514 405 515 402 517 401 519 398M519 398 517 397 514 396 512 393 510 393 508 391M515 343 516 343M516 343 516 340 515 337 516 334 517 331 516 328M516 328 514 326 511 326 508 324M516 462 518 460 521 459 524 458M524 458 523 456 522 453 523 450 521 447 521 444M521 444 519 443M512 283 515 282 517 283 520 285 523 283 525 284M525 284 527 283M527 283 528 280 529 276M529 276 529 273 527 271 526 269M526 269 523 268 520 266 518 267 515 266M517 185 518 182 521 181 523 178 524 175 526 174M514 374 517 373 519 373 522 372 524 370 526 368M526 368 526 365 527 363M527 363 526 360M526 360 523 359 521 357 518 358 516 356M517 187 519 187 522 189 525 187 528 188 531 189M531 189 532 187 534 185 537 183M537 183 537 180 534 178 534 175 533 173M516 328 519 325 523 325M523 325 522 322 522 320 523 317 522 314M522 314 519 313 515 313 513 312M516 251 519 250 522 250 524 249 527 250M527 250 529 248M529 248 527 245 527 242 527 239 526 237M526 237 523 236 521 235 518 236 515 235M546 558 549 556 552 557M552 557 553 553M553 553 551 551 549 550 549 547 548 544 546 542 546 539 544 537M544 537 540 538M540 538 539 541 535 541 535 545 532 546 531 549 528 550M540 538 538 535 535 535 534 532 531 530 529 528M515 222 518 220 521 219 524 221 527 219M527 219 529 217M529 217 530 214 527 212 528 210 527 207 527 205M527 205 524 204 522 203 519 203 517 202M513 300 516 300 519 298M519 298 521 296 520 293 522 291 523 289 526 287 525 284M516 430 519 428 523 429 526 428M526 428 525 425 527 422 527 419 528 416M528 416 527 414M527 414 524 413 521 414 518 414M519 398 522 398 524 397M524 397 524 394 526 391 526 387M526 387 524 385 522 383 519 382 516 382 514 380M527 414 526 412 527 409 529 407 528 404 529 401M529 401 526 400 524 397M522 314 525 313 526 310 528 308M528 308 528 304M528 304 526 301 522 301 519 298M526 360 526 357 526 354 528 352 530 350 530 347M530 347 528 346 526 343M526 343 524 344 521 343 518 344 516 343M521 444 524 444 527 443 530 441 532 440M532 440 533 437 533 435M533 435 532 432 529 432 527 430 526 428M525 478 528 476 529 474 531 473 532 471 533 468M533 468 531 465 531 461 528 459M528 459 524 458M528 304 530 302 532 299 535 297M535 297 534 294 535 291 534 289M534 289 532 286 530 284 527 283M526 387 529 386 532 385 534 383M534 383 534 378M534 378 531 377 530 375 529 372 528 369 526 368M526 343 527 340 530 339 530 336 531 333 531 331 532 328M532 328 529 328 526 326 523 325M527 205 529 203 532 201M532 201 531 198 530 195 532 192 531 189M526 237 527 234 530 233M530 233 528 230 528 227 528 225 527 222 527 219M526 269 526 265 528 263 531 261M531 261 530 258 528 256 527 253 527 250M529 401 532 402 535 400 539 400M539 400 542 398M542 398 541 394 540 391 541 388M541 388 539 385 535 385 534 383M544 537 547 536 548 534 548 531 550 529 553 528 555 525M555 525 552 524 550 523 548 521 545 520 544 517 542 516 539 515 537 513 535 511 533 510M532 509 533 506 536 505 537 503 538 499 540 498M540 498 541 495 540 493 538 491 538 488M538 488 535 487 534 485 531 484 529 482 526 482M530 233 533 232 536 233 539 234M539 234 541 231 540 228 541 225 542 222M542 222 539 221 538 218M538 218 535 219 532 217 529 217M533 435 535 432 538 431 540 430M540 430 541 427 538 425 539 422 539 420 539 417M539 417 536 417 533 418 531 415 528 416M532 328 533 328M533 328 535 326 534 323 537 321 538 318 539 316M539 316 539 316M539 316 538 314 534 313 532 312 531 309 528 308M529 276 531 276 534 276 537 275 539 276 542 275 545 274M545 274 545 271 546 268 546 265M546 265 543 264 541 261M541 261 538 262 534 262 531 261M529 248 531 246 534 247 536 245 539 246 541 245M541 245 541 241 543 238M543 238 542 235 539 234M530 347 533 348 537 348M537 348 540 346 540 343 541 340 545 339 545 336M545 336 544 334 541 333 538 333 537 331 535 329 533 328M527 363 530 362 533 361 536 362 540 362M540 362 541 359 542 356 541 353M541 353 539 351 537 348M528 459 531 458 532 455 535 454M535 454 535 451 534 448 535 446 535 443M535 443 532 440M541 261 543 258 544 255 544 252 544 249M544 249 542 247 541 245M534 378 537 377 539 375 541 373 543 371M543 371 544 369 544 366M544 366 542 364 540 362M538 488 538 485 542 484 544 482 545 479M545 479 543 476 542 474 542 471 540 469M540 469 537 467 533 468M537 183 539 183 541 185 544 185 546 187M546 187 549 184 552 183M552 183 552 180 552 177 552 174 551 172M553 578 553 577M553 577 550 575 547 576 544 577 541 576M539 417 542 414M542 414 541 412 542 408 541 406 539 403 539 400M539 316 541 313 542 311 544 309 545 306M545 306 544 301M544 301 542 300 539 301 538 297 535 297M540 469 543 467 545 465 547 462 548 459M548 459 547 458M547 458 545 458 542 456 540 455 537 454 535 454M535 443 538 444 541 443 544 444 547 445M547 445 551 441M551 441 548 439 548 436 547 434 546 431M546 431 543 431 540 430M538 218 540 216 541 213 542 212 544 210M544 210 543 207 542 205 541 203 539 201M539 201 537 202 534 202 532 201M542 414 546 414 549 415 552 414M552 414 554 412M554 412 555 409 554 406 556 403 554 400M554 400 552 399 549 399 547 397 544 398 542 398M541 388 543 387 546 387 548 383 551 383M551 383 551 379M551 379 550 376 547 375 546 373 543 371M543 238 545 237 547 235 550 235 553 235 555 234M555 234 554 231 555 228 555 226 553 223M553 223 551 222 548 223 545 224 542 222M545 479 548 479 551 479 555 478M555 478 556 476 556 473 558 471 560 469M560 469 557 467 557 464 556 461M556 461 553 462 550 461 548 459M555 525 555 525M555 525 556 523 557 520 559 518 558 514 560 512M560 512 558 510 556 508 555 505 555 502 551 501 550 499M550 499 547 499 544 497 540 498M547 458 546 455 547 453 549 450 546 447 547 445M544 301 545 298 549 297 550 294M550 294 549 291 546 289 544 287M544 287 541 286 539 286 536 288 534 289M545 336 546 336M546 336 548 334 550 332 552 331 553 329 555 327 556 325M556 325 556 324M556 324 554 323 551 322 549 320 547 319 544 319 542 317 539 316M544 366 546 365 549 365 551 364M551 364 552 361 554 359 553 356 554 354 555 351M555 351 552 352 549 351 547 353 544 353 541 353M555 351 556 351M556 351 556 348M556 348 555 346 552 345 551 342 549 340 549 337 546 336M544 287 544 283 546 281 547 278M547 278 545 274M546 265 548 264 551 264 554 263M554 263 556 261 556 258 559 256 559 253M559 253 558 251M558 251 556 251 553 249 550 248 547 250 544 249M539 201 541 198 544 197 546 195M546 195 546 192 546 189 546 187M553 223 555 221 556 219M556 219 554 216 553 213 553 210M553 210 550 210 547 210 544 210M558 251 560 247M560 247 561 244 559 241 558 239 558 236M558 236 555 234M546 431 549 430 550 426 553 426 555 424M555 424 554 421 553 418 552 414M550 499 552 497 554 494 556 493 559 491 561 489M561 489 560 487 558 485 558 482 556 480 555 478M553 577 553 574 555 571 557 570M557 570 556 567 555 565 555 562 552 560 552 557M553 553 555 552 557 551 560 551 562 550 565 549 567 548M567 548 567 545 569 542 568 539 568 536 571 534M571 534 568 533 566 531 564 529 561 530 559 528 557 527 555 525M556 324 557 322 556 319 559 317 558 314 558 312 559 309M559 309 557 309 554 308 551 308 548 308 545 306M556 461 557 458 559 455 562 453M562 453 560 450 561 447 561 444 559 441M559 441 557 440 554 442 551 441M574 590 577 589 579 586M579 586 577 584 576 581 576 579 574 577 573 574 572 571 569 570M569 570 566 569 563 569 560 570 557 570M550 294 553 295 556 293 559 293M559 293 559 290 561 288M561 288 561 285 560 282 559 280M559 280 556 278 553 280 550 277 547 278M559 280 561 278 560 274 563 273M563 273 561 271 559 269 558 267 555 265 554 263M554 400 555 399M555 399 555 397 554 394 557 392 557 389M557 389 554 388 553 385 551 383M551 379 553 377 556 375 559 373M559 373 559 369M559 369 557 367 553 367 551 364M553 210 554 207 554 204 557 203M557 203 554 202 553 199 551 197 548 197 546 195M556 348 558 346 560 344 563 344 565 342 567 340M567 340 566 338 564 335 564 332 563 330 561 327M561 327 559 326 556 325M559 309 562 307 564 306M564 306 564 303 563 300 560 298 560 296 559 293M558 236 560 234 563 233 566 232 569 231M569 231 569 228 569 225 570 222 570 219M570 219 567 218 564 218 562 220 559 218 556 219M557 203 560 201 563 201M563 201 565 198 566 195M566 195 566 192 565 189 565 186M565 186 562 185 559 186 557 185 555 183 552 183M570 219 573 216M573 216 571 214 571 211 569 209 567 207 566 205 564 203 563 201M559 441 562 439M562 439 560 437 560 434 559 431 559 428 557 425M557 425 555 424M559 369 560 366 563 364 566 364 568 361M568 361 568 360M568 360 565 359 564 356 562 356 560 353 558 351 556 351M557 425 559 423 562 424 565 422 567 423 570 422 572 422M572 422 573 420M573 420 572 417 570 415 569 412M569 412 566 413 563 413 560 410 557 412 554 412M560 512 563 511 566 510 568 508 571 506 574 506M574 506 574 503 574 501 572 498 571 496 572 493 570 491M570 491 567 489 564 490 561 489M557 389 560 388 563 388 566 387M566 387 566 383 569 380M569 380 566 379 565 376 561 375 559 373M569 412 568 409 570 407 572 404 571 401M571 401 569 400 566 400 563 402 560 399 558 399 555 399M563 273 566 272M566 272 567 269 567 267 571 266 570 262 571 260M571 260 569 259 567 256 565 254 561 255 559 253M561 327 563 325 566 325 569 324 570 322 573 322 576 321M576 321 577 319M577 319 576 316 574 315 572 313 570 312 567 310 567 307 565 306M565 306 564 306M561 288 564 287 567 288 569 288 572 287 574 288 577 288M577 288 577 284 580 282 581 279M581 279 578 279 575 278 574 275 571 275 569 272 566 272M571 260 572 260M572 260 572 257 574 255 577 254 577 251 579 249M579 249 575 248 574 244M574 244 571 244 568 245 566 245 563 248 560 247M570 491 572 489M572 489 570 486 571 484 570 481 572 478 571 475 571 473 570 470M570 470 568 469 565 471 563 468 560 469M565 306 567 303 570 303 573 302 575 300 578 299M578 299 578 296 579 294M579 294 577 291 577 288M569 570 570 567 573 566 574 564 575 561 576 559M576 559 576 556 573 556 573 553 569 552 568 550 567 548M562 439 565 440 568 438M568 438 570 437 571 434 572 432 574 430M574 430 574 427 571 425 572 422M568 360 569 358 571 356 572 354 574 352 573 348 575 347M575 347 573 344 571 341M571 341 567 340M571 401 573 399M573 399 573 396 571 394 569 392 567 389 566 387M569 380 572 379M572 379 573 376 575 374 577 371 578 369M578 369 577 367M577 367 574 367 572 365 569 364 568 361M565 186 566 185M566 185 567 182 568 180 568 177 568 174M573 216 573 216M573 216 576 215 578 212 579 210 581 208 582 206M582 206 582 203 583 199M583 199 580 199 578 198 575 198 573 197 571 195 568 197 566 195M583 199 583 199M583 199 582 196 582 193 583 191 585 188 584 185M584 185 583 184M583 184 580 186 577 185 574 185 572 185 569 184 566 185M570 470 572 469M572 469 572 467 572 464 573 462 575 460M575 460 574 456 571 454M571 454 568 454 565 454 562 453M571 534 574 533M574 533 577 532 577 528 578 526 580 524 583 523 585 521M585 521 582 519 581 517 580 514 580 511 579 509M579 509 576 507 574 506M574 244 573 241 573 238 574 235M574 235 571 234 569 231M573 420 576 420 578 417 582 417 584 416M584 416 587 414 587 411M587 411 585 409 584 407 582 405 580 403 580 400 578 398M578 398 573 399M571 454 572 451 574 448 575 446M575 446 574 443 572 441 570 439 568 438M593 595 591 593 588 592 587 590 584 589 582 588 580 586M580 586 579 586M578 398 580 396 582 393 584 391M584 391 584 389M584 389 582 387 580 385 579 383 576 382 575 380 572 379M572 489 575 490 577 488 579 486 582 486 584 486 587 485M587 485 587 482 588 479 586 477 587 474M587 474 584 474 582 472 579 473 577 470 574 470 572 469M571 341 573 340 574 337 576 335 577 333 579 332M579 332 580 329 579 326 577 324 576 321M576 559 579 559 582 559 584 558 587 558M587 558 588 555 589 553 588 550 591 548M591 548 588 547 587 544 584 543 582 541 580 539 579 536 577 535 574 533M579 509 581 508 582 505 585 503 588 503 588 500 592 500 593 497 596 496 598 494M598 494 597 494M597 494 596 491 593 490 590 489 588 487 587 485M574 430 577 432 580 432 582 434 586 435M586 435 587 432 588 430 590 428 590 425M590 425 589 423 586 421 586 418 584 416M577 367 578 365 579 362 581 361 583 358 583 356 585 354M585 354 584 351 581 348M581 348 579 346 575 347M574 235 577 235 579 234 582 233 584 232M584 232 583 228 585 224M585 224 582 223 579 222 578 219 576 216 573 216M581 279 581 279M581 279 580 276 581 274 581 271 582 269 582 266M582 266 579 265 578 262 574 262 572 260M577 319 577 319M577 319 579 317 580 314 580 311 583 310 584 307M584 307 582 304 579 302 578 299M575 460 578 460 580 458 584 459 586 457M586 457 588 454M588 454 587 452 585 450 583 448 582 445M582 445 579 447 575 446M582 445 585 443 585 441 585 438 586 436M586 436 586 435M579 294 582 293 585 295 588 294 591 293 594 294 596 295M596 295 597 292M597 292 597 289 593 288 594 284 592 282 590 280M590 280 587 278 584 281 581 279M583 184 584 182 582 179 584 177 584 174 582 171M579 249 582 250 584 250 587 249M587 249 589 247M589 247 589 244 590 241 590 238M590 238 589 235 586 234 584 232M579 332 582 332 585 332 587 334 590 334M590 334 592 331M592 331 593 329 590 326 589 324 590 321M590 321 588 320 585 320 582 320 580 320 577 319M584 185 586 185 589 184 591 185 594 184 596 185 599 184M599 184 597 182 597 179 596 176 596 174 595 171 595 168M582 206 585 208 588 209 590 211 593 213M593 213 595 210 598 211 601 210 603 208M603 208 603 208M603 208 602 205 601 202 599 200 598 197M598 197 596 196 593 199 590 197 588 197 585 198 583 199M584 307 587 308 590 307 593 307M593 307 595 305 595 302 595 299 597 297M597 297 596 295M581 348 583 346 586 345 588 343 588 339 591 337M591 337 590 334M585 224 587 222 591 222M591 222 591 218 593 216 593 213M582 266 586 265 588 263 590 261M590 261 590 258 588 256 587 254 589 251 587 249M584 389 585 386 588 385 589 382M589 382 587 380 588 377 587 374 586 372M586 372 583 371 580 370 578 369M587 474 589 472M589 472 588 469 589 466 586 463 587 460 586 457M580 586 581 583 583 581 584 579 587 578 588 576 589 573 592 572 593 570 594 567M594 567 592 565 589 563 589 560 587 558M588 454 593 454M593 454 593 450 596 448 598 446M598 446 596 444 598 441 596 439M596 439 592 439 589 437 586 436M624 558 622 556 620 555 617 553 615 553 612 552M612 552 610 553 611 557 609 558 607 561 607 563 604 564 603 567 603 569M603 569 605 572M586 372 588 370 591 368 594 368 596 366M596 366 596 363 594 361 593 358 592 356M592 356 588 356 585 354M590 261 593 263 596 264M596 264 598 263 601 262 603 260M603 260 605 257 604 254 604 251 606 248M606 248 606 248M606 248 604 248 601 247 599 248 596 247 594 247 591 246 589 247M594 567 597 568 599 570 603 569M612 552 612 549 611 546 609 543M609 543 606 541 603 541M603 541 600 543 598 543 595 545 593 547 591 548M603 541 602 539 600 536 599 534 600 530 599 528 597 526 596 523M596 523 593 524 590 523 587 523 585 521M592 356 593 354 594 351 596 349 598 348 601 347M601 347 599 345 598 342 595 341 593 339 591 337M587 411 590 411 593 409M593 409 595 407 594 404 595 402 596 400 597 397M597 397 595 396 592 395 589 394 586 394 584 391M590 425 593 425 596 424 599 425 602 424M602 424 603 421 604 419 604 416M604 416 602 415 599 415 598 411 596 410 593 409M597 494 599 492 600 489 601 486 602 484 603 481 604 479M604 479 602 477 601 475 601 472 599 470M599 470 596 469 594 470 591 471 589 472M596 439 598 437 601 436 603 434 605 431M605 431 605 427 602 424M597 397 599 396M599 396 600 394 603 392 604 389M604 389 603 386 603 383 602 381M602 381 600 382 597 380 594 381 592 382 589 382M590 321 592 319 596 317 597 314M597 314 595 312 594 310 593 307M590 238 593 238 594 235 597 234 600 233M600 233 600 230 599 226M599 226 596 226 594 223 591 222M597 297 599 299 603 298 605 301 608 301 610 303M610 303 612 301 613 298 616 297 618 294M618 294 617 292 616 289M616 289 614 289 611 289 609 286 606 287M606 287 603 288 600 290 597 292M592 331 595 331 597 329 600 331 603 329M603 329 605 327 605 324M605 324 603 322 603 319 601 317 600 315M600 315 597 314M590 280 592 277 595 276 597 274M597 274 597 271 597 269 597 266 596 264M601 347 603 347M603 347 605 345 608 343 609 340M609 340 609 338 608 335 604 334 604 331 603 329M600 315 602 314 604 312 606 311 609 311 611 309M611 309 610 306 610 303M606 287 606 284 604 282 604 279 604 276M604 276 600 275 597 274M596 523 597 520 600 519M600 519 600 516 602 514 602 511 601 509 601 506 603 504 603 501 604 499M604 499 603 496 600 496 598 494M602 381 602 380M602 380 603 378 603 375 601 373 601 370 600 368M600 368 596 366M599 470 601 467 603 464M603 464 602 461M602 461 600 459 598 457 596 455 593 454M600 166 602 168 605 168 608 169 610 172 613 172M613 172 615 170 615 167 616 164 616 162 618 159M598 197 600 195 599 192 600 190 601 188M601 188 600 186M600 186 599 184M603 208 606 208 608 207 611 206 613 204M613 204 613 201 613 198 614 195 614 192M614 192 611 192 609 191 606 191 604 189 601 188M599 226 602 225 604 223 605 220 607 219M607 219 607 216 605 214 604 211 603 208M606 248 607 245 604 242 606 239 605 236M605 236 602 234 600 233M602 461 604 460 606 458 607 455 608 453 610 451M610 451 609 447M609 447 606 447 603 446 600 447 598 446M600 368 602 366 605 366 607 364 609 363M609 363 609 359M609 359 608 356 606 354 605 351 605 349 603 347M604 416 608 414M608 414 607 411 610 408 609 405M609 405 608 403 605 402 604 399 600 399 599 396M636 551 635 549 634 546 634 544 634 541 634 538M634 538 631 537 627 537 625 536 622 534M622 534 619 535 618 538 615 538 614 541 611 541 609 543M604 499 607 499 611 498M611 498 613 497 615 494 618 494 618 490 621 490M621 490 620 487 618 485 616 483 616 480 614 478M614 478 612 479 610 479 607 478 604 479M622 534 620 531 622 529 622 526 621 523 620 521M620 521 618 521 615 520 613 520 610 519 608 519 605 518 603 520 600 519M604 276 606 275 609 274 611 272 614 271M614 271 613 267M613 267 611 265 608 264 606 262 603 260M604 389 606 390 609 392 611 391 614 391 617 392 619 393M619 393 620 391 619 388 620 386 620 383M620 383 618 381 617 378 613 378M613 378 611 378 608 379 605 381 602 380M613 267 615 265 616 262 617 259 620 258M620 258 618 255 615 254 614 252 613 249M613 249 610 248 606 248M605 236 607 234 609 233 611 231 614 231M614 231 614 228 616 226 615 223M615 223 612 223 609 221 607 219M600 186 602 183 604 182 607 181 608 179 610 177 612 176 614 175M614 175 613 172M605 324 608 324 611 322 615 323M615 323 615 320 615 318 615 315 615 312M615 312 613 311 611 309M605 431 606 431M606 431 609 430 612 430 615 431M615 431 616 428 620 426 621 423 622 420M622 420 620 417M620 417 617 415 614 416 611 414 608 414M609 340 613 340M613 340 615 337 614 334 615 331 618 329 618 326M618 326 615 323M609 447 610 445M610 445 609 442 607 440 607 437 608 434 606 431M614 478 616 474 617 471M617 471 615 467M615 467 613 468 610 467 608 466 605 465 603 464M609 405 611 402 613 401 616 400 618 398M618 398 619 394M619 394 619 393M615 467 616 464 619 462 619 460 620 457M620 457 617 456 615 453 612 454 610 451M613 378 614 375 613 373 617 371 616 368M616 368 613 367 611 365 609 363M614 192 617 192 619 190M619 190 619 187 617 185 617 182 618 179 617 176M617 176 614 175M616 289 617 286 619 285 620 282M620 282 620 279 619 275M619 275 616 274 614 271M613 249 614 247 616 244 619 244 621 242 622 239M622 239 620 238 617 236 616 234 614 231M615 223 618 221M618 221 617 218 620 216 620 213 622 211 623 208M623 208 621 206 618 205 615 205 613 204M609 359 612 357 614 356 616 354 619 354 621 352 623 351M623 351 622 349 622 346 620 344M620 344 617 342 613 340M620 457 623 456M623 456 622 453 624 451 624 448 625 446 624 443 625 440M625 440 624 440M624 440 621 441 618 441 616 444 613 443 610 445M615 312 618 312 620 310 623 310 626 310M626 310 628 306M628 306 626 303 627 299M627 299 625 297 623 296 620 295 618 294M621 490 625 490 628 489 631 489M631 489 632 487 632 484 630 482 630 479 630 477 628 474 628 472M628 472 626 472 623 472 620 470 617 471M624 515 623 512 620 511 618 509 617 507 616 504 615 502 613 500 611 498M620 521 623 518 624 515M624 515 626 514 629 514 632 514 633 510 636 511M636 511 639 508 639 505M639 505 639 502 637 500 637 497 636 494 635 491M635 491 631 489M627 299 629 297 630 295 633 295 634 292 637 291M637 291 636 288 637 285M637 285 635 284 632 283 629 283 626 283 623 284 620 282M616 368 619 367 623 367M623 367 625 364 624 361 625 359 626 356 626 353M626 353 623 351M624 440 621 439 621 436 619 434 617 432 615 431M628 472 630 468 633 466M633 466 633 464 631 462 631 459M631 459 628 459 626 456 623 456M619 275 622 274 625 274 627 272 630 271 631 268M631 268 632 265 629 263 630 260 629 257M629 257 626 257 623 258 620 258M620 417 622 415 622 413 622 410 624 408M624 408 622 406 621 403 621 400 618 398M620 344 621 341 624 339 627 339 628 335 631 334M631 334 629 332 626 331 626 328 624 326M624 326 621 325 618 326M617 176 619 175 622 177 625 177 627 175M627 175 630 173 631 171 632 168M632 168 632 168M620 383 622 381 624 379 626 379M626 379 627 376 627 374 627 371M627 371 626 368 623 367M624 408 627 407 631 408 634 407M634 407 634 406M634 406 635 403 634 400 632 397 632 394M632 394 629 395 627 393 624 394 622 393 619 394M624 326 625 323 628 321 629 318M629 318 628 316 628 313 626 310M629 257 631 256M631 256 629 253 628 251 629 248 629 245 627 242 626 240M626 240 622 239M626 240 628 237 632 235M632 235 631 233 631 230 631 227 630 225M630 225 628 223 625 223 623 222 620 221 618 221M623 208 625 205 629 206M629 206 629 204M629 204 627 202 628 199 627 196 624 195 624 192M624 192 621 192 619 190M655 539 655 536 653 533 650 532 650 528M650 528 647 528M647 528 644 529 642 531 641 534 638 535 635 536 634 538M632 394 635 391M635 391 635 388 636 385M636 385 633 384 631 382 628 381 626 379M625 440 629 439M629 439 629 436 629 434 629 431 630 429 631 426 630 423M630 423 627 422 625 421 622 420M630 225 632 222 635 221 636 217M636 217 635 215 634 212 633 210 629 209 629 206M630 423 633 423 635 423 637 420M637 420 636 418 636 415 634 412 634 410 634 407M626 353 630 353M630 353 631 349 635 349 635 346 637 343M637 343 636 341 636 338 635 336 633 334M633 334 631 334M627 175 630 177 629 181 630 183 632 185M632 185 635 186 638 186M638 186 642 184M642 184 643 181 643 178 643 175 644 172M644 172 640 172 638 169 635 169 632 168M624 192 626 190 629 189 631 187 632 185M627 371 630 369 633 370 636 369 638 368M638 368 637 365 640 363 639 360M639 360 637 358 635 356 633 353 630 353M631 459 633 457 634 454 636 452 639 451M639 451 638 448 635 447 633 444 631 442 630 439M630 439 629 439M629 318 632 318 635 319 637 320 640 320 643 321M643 321 645 319M645 319 643 317 644 313 642 312 640 310 639 307M639 307 636 308 634 306 631 306 628 306M637 285 640 282M640 282 641 279 639 277 640 274M640 274 637 273 635 271 633 270 631 268M631 256 634 256 636 254 639 254M639 254 639 251 641 249 642 247 641 243 643 241M643 241 640 237M640 237 637 236 634 236 632 235M647 528 646 525 646 523 642 522 642 519 639 518 638 515 638 512 636 511M635 491 637 490 639 488 641 486 644 485 645 483M645 483 646 480 645 478 646 475 645 473M645 473 643 469M643 469 639 470 636 468 633 466M629 204 632 204 635 203 637 200 640 199M640 199 640 196 639 194 638 191 638 189 638 186M633 334 636 334 637 330 639 328 642 327M642 327 644 324 643 321M640 274 642 271 645 269M645 269 644 266 646 263 646 260 645 257M645 257 641 256 639 254M636 385 640 381M640 381 640 379 640 376 640 373 640 370M640 370 638 368M634 406 637 405 640 406 642 406 644 403 647 404M647 404 647 401 644 398 645 395M645 395 643 394 641 392 638 393 635 391M639 307 641 304 642 302 644 300M644 300 643 297 641 295 639 293 637 291M636 217 639 218 641 218 644 218M644 218 645 215 647 213 650 211M650 211 647 209 647 206 645 203 644 200M644 200 640 199M630 439 633 438 635 437 637 435 641 437 643 434 645 434M645 434 646 430M646 430 645 428 644 425 643 423 641 421M641 421 637 420M639 505 641 506 644 506 647 504 649 503 652 503 655 504 658 502 660 503M660 503 663 501 664 497M664 497 661 496 662 492 659 491 658 489 657 486M657 486 654 486 651 485 649 482 645 483M639 360 641 358 644 357 646 355 649 354M649 354 651 351M651 351 649 348 648 345M648 345 646 343 643 345 640 344 637 343M640 237 641 235 642 232 645 231 645 228 647 226M647 226 646 224 646 220 644 218M648 345 648 342 650 339 652 337M652 337 649 335 648 333 647 330 645 328 642 327M643 469 644 467 645 465 646 462 645 460 647 457M647 457 646 455 643 453 641 451M641 451 639 451M650 528 653 528 655 526 657 524 660 523 661 520 664 519M664 519 665 516 664 514 663 511 661 509 660 506 660 503M641 421 643 419 645 416 647 415 650 413M650 413 648 410 648 407 648 404M648 404 647 404M640 370 643 371 646 371 649 371 652 371M652 371 654 369 656 367M656 367 655 364 653 362 653 359 650 357 649 354M644 300 648 301 652 300M652 300 651 297 651 294 653 291 653 288 653 285M653 285 650 286 648 284 645 284 643 282 640 282M644 200 647 199 649 196M650 186 647 185 644 185 642 184M644 172 648 170M641 451 643 449 645 447 648 446 649 443M649 443 648 439 646 437 645 434M645 395 646 392 649 392 651 390M651 390 651 386 650 383M650 383 647 384 645 383 642 382 640 381M643 241 646 242 649 243 652 243M652 243 654 241 656 239 657 236 658 233M657 229 654 228 651 227 647 226M645 257 648 258 649 255 652 255 655 254M655 254 656 250M656 250 654 248 654 245 652 243M652 337 654 335 657 335 659 333M659 333 659 330 661 328 660 325M660 325 657 323 656 320 653 318 650 317M650 317 648 319 645 319M650 317 653 315 654 312 655 309 656 306M656 306 656 303M656 303 654 301 652 300M647 457 650 458 652 458 655 456 657 457M657 457 658 454 656 451 657 448 657 445M657 445 654 446 651 443 649 443M646 430 649 431 652 429 655 428 658 428M658 428 658 426 657 423 656 421 659 418 657 415M657 415 655 414 652 414 650 413M657 445 660 443M660 443 659 440 661 438 659 435 661 432 660 430M660 430 658 428M653 285 655 283 657 283 660 282M660 282 660 280 659 277 659 274 659 272 659 269M659 269 657 269 654 270 651 268 648 269 645 269M650 383 653 382 653 379M653 379 653 376 652 374 652 371M645 473 648 472 650 470 653 469 656 469 659 467M659 467 659 465 659 462 660 459M660 459 657 457M648 404 650 403 652 402 656 403 658 402 660 401 662 399M662 399 661 394M661 394 659 392 656 392 653 390 651 390M650 211 653 210 656 211 659 211 662 210M674 523 672 521 670 521 667 520 664 519M659 269 662 267M662 267 660 264 658 262 657 259 657 256 655 254M651 351 653 349 656 352 658 351 661 351M661 351 663 349 663 346 667 345 668 343M668 343 668 339M668 339 667 336 664 335 662 335 659 333M707 277 706 280 704 282 702 284 702 287M702 287 704 289M704 289 707 289 710 289 714 289M690 277 692 278 693 281 694 284 695 286M695 286 699 285 702 287M657 486 660 485 659 481 663 480 663 477 665 475M665 475 662 473 661 469 659 467M656 303 657 301 661 301 663 299 665 297 667 295M667 295 665 293 663 291 664 288 663 285 662 283M662 283 660 282M656 250 659 250 662 248M661 394 663 391 663 388 665 386M665 386 663 382M663 382 661 380 658 381 656 379 653 379M656 367 659 366M659 366 660 363 663 361 665 359M665 359 663 357 661 354 661 351M665 475 668 474 671 474 675 474M675 474 673 471 677 468 676 465M676 465 674 462 671 462 670 459 668 458M668 458 665 457 663 460 660 459M668 458 668 455 671 453 672 451M672 451 672 448 671 445 669 444M669 444 666 442 663 443 660 443M657 415 660 415 662 413M662 413 661 410 664 408 664 405 666 402M666 402 662 399M660 325 663 323 665 320 668 319M668 319 670 316 668 312M668 312 667 310 664 309 661 309 659 308 656 306M677 280 678 278M668 265 665 266 662 267M662 283 664 281 667 283 669 281 672 281 674 281 677 280M677 280 678 283 679 286 678 289M678 289 681 290 683 292 686 292 689 293M689 293 690 290 693 289 695 286M660 430 663 428 666 428 669 428M669 428 671 425 673 423M673 423 673 421M673 421 670 420 667 419 666 417 664 414 662 413M663 382 664 378 665 376 667 373M667 373 664 373 663 370 661 368 659 366M664 497 666 496 669 495 671 496 674 495 676 495M676 495 677 492 678 489 677 487 678 484 680 482 679 479M679 479 676 477 675 474M673 421 674 419 676 417 677 415 676 412 678 410M678 410 678 408M678 408 676 405 672 404 669 402M669 402 666 402M669 402 670 399 672 397 675 396 675 393 678 392 678 389M678 389 677 386M677 386 674 387 671 386 668 385 665 386M668 339 670 337 673 338 675 335M675 335 674 332 677 329 677 326M677 326 675 324 673 322 671 320 668 319M668 312 670 309 674 309 676 306M676 306 675 304 675 301 674 298 672 296M672 296 669 296 667 295M667 373 670 372 673 372 676 371M676 371 674 369 673 367 674 364 671 362 671 360M671 360 668 358 665 359M669 444 671 441 673 438M673 438 673 435 672 432 671 430 669 428M671 360 672 357 675 355 677 353M677 353 675 351 672 350 672 347 669 346 668 343M741 487 739 485 735 485 732 483M732 483 730 482 727 484 725 484 722 484 720 486 717 487M717 487 717 490 719 493 719 496 719 498M683 517 682 514 683 511 684 508 683 505 683 503 684 500M684 500 682 497 678 497 676 495M703 505 702 503 699 501 699 498 696 497M696 497 694 498 691 499 689 498 686 498 684 500M672 296 673 293 677 292 678 289M676 465 679 464 680 461 684 461 686 458M686 458 686 457M686 457 683 454 682 451M682 451 679 451 677 449 674 452 672 451M673 438 676 440 678 438 681 438 683 439M683 439 683 436 685 433 686 430 687 427M687 427 684 427 682 424 678 425 676 423 673 423M677 386 677 384 679 381 677 379 679 376 679 373M679 373 679 372M679 372 676 371M677 326 681 326 684 324 686 322M686 322 684 319 686 316 685 313 683 311 683 307M683 307 680 305 676 306M682 451 682 448 683 445 684 443 684 440M684 440 683 439M677 353 680 352 684 353M684 353 684 353M684 353 682 350 682 348 682 345 682 342 683 340M683 340 680 339 677 337 675 335M679 479 682 478M682 478 684 476 686 474 688 472 690 469 692 467M692 467 690 465 690 462 688 460 686 458M679 372 680 370 683 369 683 366 686 365 687 363M687 363 687 360 685 358 684 356 684 353M687 427 689 426M689 426 690 423 691 420 691 417M691 417 691 416M691 416 688 415 685 414 683 412 680 412 678 410M683 307 686 306 689 304M689 304 688 301 690 298 689 296 689 293M678 408 679 406 681 403 684 403 686 401 688 399 689 397M689 397 689 396M689 396 688 393M688 393 686 391 683 392 680 391 678 389M686 457 688 455 691 454 694 454 696 451M696 451 696 449 697 446 699 444M699 444 696 444 694 443 692 440 689 442 686 441 684 440M683 340 685 338 688 338 691 336M691 336 692 333 693 330M693 330 691 327 690 324M690 324 686 322M688 393 689 390 689 387 692 386 692 383 693 380M693 380 692 378 689 377 686 377 684 375 681 375 679 373M693 380 694 380M694 380 695 377 695 374 697 372 698 369M698 369 696 365M696 365 693 364 690 364 687 363M684 353 686 351 689 350 691 350 694 349 696 347 699 347M699 347 698 344 696 343 694 341 692 339 691 336M690 324 692 323 693 320 697 321 699 319 700 317M701 307 699 305 697 304 694 305 691 304 689 304M691 416 692 413 693 410 693 407 694 404M694 404 692 402 691 399 689 397M692 467 696 469 699 468M699 468 700 465 703 464 704 462M704 462 704 461M704 461 703 458 699 457 697 454 696 451M696 497 697 494 698 491 700 488 701 486M701 486 699 485 697 483 695 482 692 482 689 482 687 479 685 479 682 478M699 444 699 443M699 443 698 441 699 438 697 436 698 433 699 430M699 430 696 429 694 427 692 426 689 426M696 365 696 362 700 361 700 358M701 348 699 347M689 396 692 395 695 396 697 393 700 392 703 392 706 392M706 392 707 390 708 387M708 387 708 386M708 386 704 386 702 384 700 382 697 380 694 380M701 486 704 483M704 483 704 480 702 478 702 476 702 473 701 470 699 468M691 417 694 416 697 415 700 417 702 416 705 416M705 416 705 413 705 411 704 408 704 405M704 405 701 404 699 404 696 406 694 404M704 461 705 458 707 457 709 455 710 453M710 453 710 450 707 447 707 444M707 444 704 442 701 445 699 443M704 405 706 404 707 402M707 402 707 399 705 396 706 392M693 330 696 329 700 330M704 301 703 298 704 295 705 292 704 289M799 480 797 478 795 475 795 472 794 469 792 467M792 467 789 467 786 467 783 467M783 467 781 469 780 472 777 474 776 477M717 487 714 486 711 483M711 483 708 481 704 483M708 386 707 383 709 381 709 378 709 375 710 373 710 370M710 370 707 371 704 369 701 368 698 369M711 483 713 481 713 477 714 475 716 472 716 469 719 467M719 467 716 466 714 464 711 465 709 464 706 464 704 462M710 370 713 368M699 430 701 429 705 429 707 427M707 427 707 424 706 421 707 419 705 416M705 416 705 416M707 444 710 442 712 440M712 440 713 437 711 434 713 432 712 429M712 429 707 427M705 416 708 416 710 415 712 413 715 413 718 412M718 412 719 409M719 409 718 406 716 404M716 404 713 402 710 402 707 402M778 386 781 387 783 389M783 389 785 387 788 387 790 385 793 384 795 383M795 383 796 379M716 404 718 401 719 398 720 395M720 395 718 393 718 390 715 388M715 388 712 387 708 387M719 467 721 466M721 466 719 463 718 460 717 457 717 454M717 454 714 453 710 453M723 381 721 384 718 386 715 388M720 395 723 394 726 396M712 429 714 427 716 426 719 427 722 425M722 425 722 422 720 420 720 417 718 415 718 412M717 454 719 452 722 450 723 447M723 447 721 443M721 443 719 441 716 440 712 440M828 373 831 374 833 377 835 379M835 379 837 377 838 375 840 373 842 370 843 368 845 366 847 364M795 383 798 385 800 387 799 390 802 392M802 392 804 389 808 390 810 388 813 388 816 386M816 386 816 382 815 379M721 466 725 465 728 466M728 466 731 463M731 463 732 460 730 458 730 455 730 452 728 449M728 449 725 449 723 447M732 483 733 480 731 477 730 475 729 472 728 469 728 466M722 425 724 425 727 427M727 427 730 424M730 424 729 421 732 419 733 416 732 413M732 413 729 411 727 408M727 408 725 409 722 410 719 409M721 443 724 441 724 437 726 435 728 433M728 433 726 430 727 427M727 408 728 404 730 402M731 463 734 464 737 463M737 463 737 460 739 458 741 455 740 452 742 449M742 449 741 447 739 446 736 446M736 446 733 447 731 448 728 449M736 446 737 443 737 440 735 438M735 438 733 437 731 434 728 433M740 401 741 404 741 406 742 409 743 412M743 412 745 413M745 413 746 413M746 413 747 410 750 409 751 406 753 405 754 402 757 402M757 402 757 400M772 398 774 400 774 403 777 404M777 404 779 404M779 404 782 403 784 400M784 400 784 397 785 394 783 391 783 389M732 413 735 412 737 411 740 412 743 412M735 438 738 436 740 435 742 434 745 433M745 433 745 430M745 430 742 428 741 425M741 425 738 425 735 423 733 423 730 424M758 478 759 476 759 472 762 471 762 467M762 467 761 464 757 464 756 461M756 461 753 463 751 465 748 467 745 467M745 467 747 469 746 472 744 475 745 478 746 481 745 484M745 467 743 465 740 463 737 463M742 449 746 448 749 448M749 448 750 444 751 441M751 441 750 439 748 437 746 435 745 433M757 402 758 405 761 406 762 409 764 410 766 413M766 413 768 411 770 410 773 409 775 407 777 404M741 425 742 422 743 419 743 416 745 413M745 430 747 428 750 428 752 425 755 425 757 423M757 423 757 421M757 421 756 419 752 419 751 416 748 415 746 413M756 461 755 458 756 455M756 455 754 453 752 450 749 448M756 455 759 455 760 452 763 451 764 449 768 449 770 448M770 448 769 445 766 443 764 441 762 439 760 437M760 437 757 436 756 439 754 441 751 441M760 437 762 432M762 432 762 429 758 428 757 426 757 423M774 476 771 475 770 472 767 471 764 470 763 467M763 467 762 467M763 467 765 465 768 465 770 463 771 461 774 460 776 459M776 459 776 454M776 454 773 453 773 449 770 448M770 448 770 448M757 421 759 419 761 418 764 417 765 415M765 415 766 413M762 432 765 432 768 431 771 430 774 430M774 430 774 426 777 424M777 424 774 423 773 420 770 418 767 417 765 415M783 467 780 465 780 462 778 460 776 459M770 448 771 445 772 443 775 441 776 439M776 439 776 436 774 433 774 430M777 424 781 423M781 423 782 419 785 417M785 417 783 415 783 412 780 410 780 407 779 404M776 439 779 440 782 439 785 441 788 441 791 440M791 440 791 437 792 434M792 434 789 432 788 430 786 428 784 427 783 424 781 423M792 467 793 463 795 460M795 460 795 458 792 456 793 453 791 451 790 449M790 449 788 450 785 451 782 451 781 453 778 453 776 454M790 449 790 445 792 443M792 443 791 440M785 417 787 416 790 415 793 416 795 415 797 414 800 413M800 413 802 411 802 408 802 405M802 405 801 403M801 403 799 403 797 401 794 401 791 401 789 399 786 402 784 400M792 443 794 443 797 443 799 444 802 444 805 445 807 444 810 445M810 445 812 443M812 443 811 440 811 438 808 436 808 433 809 430 808 427 806 425M806 425 804 424M804 424 802 426 800 427 799 430 795 430 793 432 792 434M855 433 852 434 850 435 847 434 845 435 842 437M842 437 843 440 842 443 842 446M813 461 811 459 809 456M809 456 806 456 803 457 801 459 798 461 795 460M804 424 802 422 803 419 801 416 800 413M809 456 809 454 809 451 810 448 810 445M801 403 800 400 802 397 802 394 802 392M806 425 809 423 812 424 815 423 817 421 820 422M820 422 821 419 821 416 824 414 823 411 825 409 825 406M825 406 823 404 820 406 817 407 815 406 813 405 810 406 808 405 805 405 802 405M830 452 829 450 826 449 824 447 824 443 821 442M821 442 818 443 815 444 812 443M825 406 825 406M825 406 825 403 825 400 824 397 826 394 826 391M826 391 824 389 820 389 818 388 816 386M848 364 850 366 851 369 853 370 856 372 857 375 858 377M858 377 860 377M860 377 861 375 863 373 865 371 868 370M820 422 821 425 824 427 826 429 828 432M828 432 831 431 833 431 836 431M836 431 837 428 837 426 839 424 840 421 841 419 842 416 843 414M843 414 842 410M842 410 839 409 837 407 834 407 831 406 828 408 825 406M821 442 824 440 825 437 826 434 828 432M842 437 839 436 838 433 836 431M826 391 828 389 830 387 832 385 835 383M835 383 835 379M842 410 843 407 846 407 846 403 849 402 851 400M851 400 850 397 850 393 849 390M849 390 847 388 845 387 841 387 839 386 837 384 835 383M843 414 846 414 847 418 849 418 852 420 854 421M862 407 861 405 858 403 856 401M856 401 854 399 851 400M849 390 850 388 852 386 853 383 854 381 858 380 858 377M877 401 876 399 874 396 872 395 870 393M870 393 868 394 866 396 863 397 861 398 858 399 856 401M900 378 898 379 897 382 894 382 892 384 890 386 889 388M889 388 891 391 890 394 890 396M870 393 871 390 871 387M871 387 868 385 868 382 864 382 863 378 860 377M879 380 879 383M879 383 881 385 884 386 887 386 889 388M871 387 874 385 876 383 879 383M464 155 463 157 464 160 463 163 464 165 462 167 462 170 464 172 463 175 463 178 466 180 466 182 465 185 467 187 468 190 467 193 469 195 470 197 470 200 470 203 471 205 472 207 472 210 474 212 473 215 475 217 475 220 474 222 473 225 473 227 472 230 470 232 469 234 468 236 468 239 467 241 466 243 466 246 465 249 466 251 463 253 463 256 463 258 461 260 460 263 461 266 459 268 458 270 457 273 460 275 459 278 459 280 461 283 462 285 461 288 462 290 462 293 465 295 464 298 465 300 466 302 465 305 467 308 466 310 470 312 470 315 470 317 470 320 469 322 470 325 466 327 467 330 465 332 467 335 464 337 463 340 464 343 462 345 462 348 460 350 460 353 458 355 460 358 458 360 457 362 456 365 454 367 455 370 453 372 453 375 453 378 452 380 452 383 449 385 449 387 448 390 449 393 448 395 446 398 445 400 445 403 443 405 443 407 443 410 443 413 440 415 441 418" fill="none" stroke="#000" stroke-opacity="0.45" stroke-width="1" shape-rendering="crispEdges"/>
</g>
<polygon points="160.6,378.0 163.6,373.0 171.0,367.0 188.0,356.7 200.0,350.6 215.0,341.5 221.0,335.0 226.0,326.0 235.0,316.0 241.0,308.0 248.5,299.0 248.4,286.0 257.6,282.4 266.8,273.0 263.0,264.0 265.0,254.8 272.3,249.3 276.0,242.0 285.0,234.6 283.3,223.5 287.0,212.5 296.2,201.5 303.5,192.3 314.6,185.8 329.3,183.0 335.0,172.0 343.6,159.0 355.6,153.9 365.8,150.4 372.6,143.6 381.0,140.0 393.0,148.7 415.0,148.7 422.0,152.0 432.0,154.0 452.7,152.0 461.0,151.3 466.3,155.6 485.0,157.0 480.0,169.0 483.3,179.4 491.8,184.5 497.0,176.0 502.0,171.7 506.8,174.0 510.2,192.8 515.3,191.0 517.0,174.0 537.5,171.5 551.0,170.7 563.0,170.7 568.0,167.0 571.5,162.0 581.8,170.7 588.6,169.0 592.0,163.9 598.8,170.7 600.5,158.7 617.5,158.7 629.5,157.0 636.3,157.0 648.0,169.0 653.3,177.5 650.0,187.7 650.0,199.6 660.0,203.0 665.0,216.7 656.7,225.0 660.0,235.4 663.5,249.0 667.6,261.0 673.0,274.0 682.3,279.4 693.3,274.0 702.5,274.0 710.0,277.6 715.4,281.2 713.5,296.0 706.2,299.6 702.5,305.0 700.7,318.0 704.3,327.0 698.8,332.7 706.2,336.4 704.3,342.0 698.8,353.0 701.4,359.0 711.6,366.0 721.8,373.9 724.0,383.0 719.5,385.2 728.6,392.0 726.4,395.5 727.5,401.0 744.5,400.0 749.0,402.0 762.7,396.6 773.0,397.7 778.6,392.0 773.0,388.6 781.0,383.0 779.8,377.0 786.6,376.0 784.3,380.7 792.3,378.4 800.2,377.0 803.0,377.6 812.3,379.4 823.3,375.7 832.5,367.5 849.0,362.9 860.0,361.0 865.6,364.7 871.0,374.0 880.0,379.4 893.0,375.7 906.0,377.6 912.5,383.0 909.7,388.6 898.7,394.0 884.0,399.6 873.0,403.0 860.0,409.0 856.4,416.0 852.7,427.0 856.4,434.6 863.7,442.0 849.0,442.0 840.0,449.0 830.7,453.0 817.8,460.3 806.8,464.0 805.0,475.0 797.6,482.0 784.7,478.7 770.0,476.8 757.0,478.8 745.0,484.7 733.0,496.5 721.6,498.4 710.0,502.0 690.0,512.0 674.5,524.0 664.7,533.7 651.0,543.5 635.0,553.0 619.6,561.0 610.4,567.3 602.5,576.0 598.6,581.0 597.6,586.9 596.7,592.7 588.8,598.6 582.0,604.5 577.0,598.6 574.1,593.7 571.2,585.0 569.2,579.0 562.4,584.0 555.5,578.0 549.6,581.0 544.7,586.9 539.8,578.0 541.8,572.2 542.7,564.3 545.7,558.4 539.8,551.6 535.9,553.5 530.0,551.0 525.0,551.0 506.0,551.0 487.0,553.0 479.0,551.0 481.0,536.0 487.0,532.0 485.0,524.5 477.4,515.0 475.5,505.5 470.0,498.0 462.0,490.0 454.7,481.8 456.6,477.0 454.7,467.6 453.7,460.0 453.5,452.0 452.0,442.0 450.0,432.0 443.0,420.0 431.4,413.0 421.0,405.6 409.0,405.6 399.0,405.6 385.0,405.6 375.0,404.7 366.7,403.0 360.0,407.0 354.7,406.4 348.0,394.5 341.0,393.0 329.0,391.0 315.6,384.3 300.0,382.6 290.0,384.3 279.0,382.0 265.0,379.0 253.0,373.0 241.0,372.0 235.0,383.0 221.0,380.0 210.6,379.0 203.0,375.0 195.0,379.0 185.0,378.0 172.7,375.6 162.0,381.7" fill="none" stroke="#6e6e6e" stroke-width="1"/>
<polygon points="805.3,480.7 812.0,472.2 818.6,473.1 822.4,477.0 821.4,482.6 821.4,487.3 823.3,491.1 820.5,492.0 815.8,487.3 806.3,489.7 804.4,486.4" fill="none" stroke="#6e6e6e" stroke-width="1"/>
<g fill="#5a6a66" stroke="#000" stroke-width="1.1"><circle cx="342.0" cy="177.0" r="1.55"/><circle cx="373.4" cy="182.5" r="1.55"/><circle cx="308.8" cy="192.8" r="1.55"/><circle cx="422.5" cy="193.5" r="1.55"/><circle cx="373.4" cy="215.7" r="1.55"/><circle cx="305.8" cy="234.9" r="1.55"/><circle cx="444.7" cy="223.8" r="1.55"/><circle cx="472.4" cy="226.0" r="1.55"/><circle cx="409.6" cy="246.7" r="1.55"/><circle cx="445.4" cy="248.9" r="1.55"/><circle cx="329.8" cy="255.6" r="1.55"/><circle cx="346.8" cy="263.0" r="1.55"/><circle cx="382.6" cy="259.6" r="1.55"/><circle cx="506.3" cy="253.7" r="1.55"/><circle cx="510.0" cy="260.4" r="1.55"/><circle cx="287.7" cy="274.4" r="1.55"/><circle cx="291.8" cy="283.3" r="1.55"/><circle cx="415.9" cy="277.7" r="1.55"/><circle cx="370.8" cy="291.4" r="1.55"/><circle cx="329.8" cy="299.5" r="1.55"/><circle cx="345.7" cy="308.7" r="1.55"/><circle cx="440.3" cy="298.8" r="1.55"/><circle cx="377.5" cy="320.9" r="1.55"/><circle cx="304.0" cy="336.8" r="1.55"/><circle cx="259.3" cy="351.6" r="1.55"/><circle cx="343.5" cy="345.3" r="1.55"/><circle cx="424.7" cy="344.9" r="1.55"/><circle cx="451.0" cy="343.4" r="1.55"/><circle cx="457.6" cy="353.0" r="1.55"/><circle cx="500.0" cy="354.5" r="1.55"/><circle cx="471.3" cy="362.6" r="1.55"/><circle cx="374.5" cy="359.7" r="1.55"/><circle cx="403.3" cy="362.6" r="1.55"/><circle cx="366.8" cy="374.5" r="1.55"/><circle cx="384.5" cy="383.0" r="1.55"/><circle cx="389.3" cy="385.5" r="1.55"/><circle cx="329.8" cy="383.0" r="1.55"/><circle cx="356.0" cy="394.4" r="1.55"/><circle cx="376.0" cy="393.0" r="1.55"/><circle cx="403.3" cy="393.0" r="1.55"/><circle cx="413.3" cy="395.9" r="1.55"/><circle cx="473.5" cy="394.4" r="1.55"/><circle cx="361.6" cy="404.0" r="1.55"/><circle cx="441.0" cy="405.5" r="1.55"/><circle cx="451.0" cy="404.0" r="1.55"/><circle cx="563.8" cy="186.8" r="1.55"/><circle cx="637.7" cy="193.8" r="1.55"/><circle cx="637.7" cy="205.0" r="1.55"/><circle cx="541.8" cy="206.9" r="1.55"/><circle cx="543.7" cy="218.7" r="1.55"/><circle cx="548.8" cy="238.8" r="1.55"/><circle cx="623.7" cy="234.0" r="1.55"/><circle cx="507.0" cy="253.7" r="1.55"/><circle cx="605.8" cy="257.9" r="1.55"/><circle cx="562.8" cy="264.9" r="1.55"/><circle cx="582.0" cy="273.8" r="1.55"/><circle cx="626.9" cy="281.8" r="1.55"/><circle cx="671.8" cy="281.8" r="1.55"/><circle cx="683.0" cy="292.9" r="1.55"/><circle cx="556.5" cy="292.9" r="1.55"/><circle cx="665.7" cy="306.6" r="1.55"/><circle cx="683.0" cy="312.7" r="1.55"/><circle cx="573.7" cy="309.8" r="1.55"/><circle cx="619.5" cy="318.7" r="1.55"/><circle cx="692.8" cy="322.5" r="1.55"/><circle cx="694.0" cy="330.5" r="1.55"/><circle cx="598.8" cy="328.0" r="1.55"/><circle cx="499.8" cy="355.0" r="1.55"/><circle cx="541.5" cy="351.0" r="1.55"/><circle cx="595.0" cy="372.9" r="1.55"/><circle cx="635.1" cy="371.6" r="1.55"/><circle cx="619.5" cy="386.9" r="1.55"/><circle cx="637.7" cy="389.8" r="1.55"/><circle cx="635.1" cy="392.6" r="1.55"/><circle cx="661.0" cy="390.7" r="1.55"/><circle cx="675.0" cy="385.6" r="1.55"/><circle cx="694.0" cy="384.0" r="1.55"/><circle cx="697.6" cy="384.0" r="1.55"/><circle cx="651.0" cy="396.8" r="1.55"/><circle cx="730.0" cy="397.4" r="1.55"/><circle cx="472.2" cy="363.0" r="1.55"/><circle cx="473.7" cy="394.6" r="1.55"/><circle cx="451.0" cy="403.8" r="1.55"/><circle cx="441.5" cy="406.0" r="1.55"/><circle cx="620.0" cy="386.7" r="1.55"/><circle cx="650.6" cy="396.8" r="1.55"/><circle cx="660.7" cy="390.7" r="1.55"/><circle cx="665.9" cy="401.7" r="1.55"/><circle cx="729.7" cy="398.0" r="1.55"/><circle cx="722.0" cy="401.4" r="1.55"/><circle cx="710.6" cy="407.8" r="1.55"/><circle cx="727.5" cy="414.6" r="1.55"/><circle cx="708.5" cy="420.7" r="1.55"/><circle cx="717.4" cy="422.0" r="1.55"/><circle cx="722.6" cy="425.0" r="1.55"/><circle cx="685.8" cy="410.6" r="1.55"/><circle cx="682.8" cy="427.7" r="1.55"/><circle cx="654.6" cy="417.6" r="1.55"/><circle cx="630.0" cy="410.6" r="1.55"/><circle cx="612.6" cy="420.7" r="1.55"/><circle cx="567.2" cy="415.5" r="1.55"/><circle cx="456.0" cy="417.0" r="1.55"/><circle cx="475.9" cy="415.8" r="1.55"/><circle cx="474.0" cy="428.7" r="1.55"/><circle cx="465.7" cy="432.6" r="1.55"/><circle cx="510.8" cy="418.9" r="1.55"/><circle cx="528.9" cy="442.8" r="1.55"/><circle cx="599.7" cy="441.8" r="1.55"/><circle cx="635.0" cy="452.9" r="1.55"/><circle cx="661.9" cy="456.0" r="1.55"/><circle cx="654.6" cy="466.7" r="1.55"/><circle cx="637.7" cy="471.0" r="1.55"/><circle cx="585.0" cy="460.8" r="1.55"/><circle cx="483.8" cy="456.0" r="1.55"/><circle cx="713.7" cy="450.0" r="1.55"/><circle cx="704.8" cy="456.9" r="1.55"/><circle cx="494.0" cy="483.8" r="1.55"/><circle cx="513.9" cy="491.8" r="1.55"/><circle cx="558.0" cy="494.9" r="1.55"/><circle cx="630.7" cy="490.9" r="1.55"/><circle cx="665.9" cy="489.0" r="1.55"/><circle cx="678.8" cy="482.0" r="1.55"/><circle cx="476.8" cy="504.7" r="1.55"/><circle cx="728.7" cy="487.8" r="1.55"/><circle cx="619.6" cy="521.0" r="1.55"/><circle cx="634.0" cy="518.8" r="1.55"/><circle cx="658.5" cy="518.8" r="1.55"/><circle cx="673.0" cy="520.6" r="1.55"/><circle cx="594.8" cy="527.0" r="1.55"/><circle cx="601.5" cy="534.7" r="1.55"/><circle cx="504.4" cy="547.9" r="1.55"/><circle cx="588.7" cy="551.6" r="1.55"/><circle cx="588.7" cy="555.2" r="1.55"/><circle cx="598.8" cy="554.6" r="1.55"/><circle cx="627.0" cy="553.7" r="1.55"/><circle cx="595.0" cy="579.8" r="1.55"/><circle cx="791.7" cy="388.0" r="1.55"/><circle cx="802.7" cy="403.8" r="1.55"/><circle cx="793.0" cy="440.0" r="1.55"/><circle cx="835.0" cy="449.0" r="1.55"/><circle cx="713.8" cy="450.0" r="1.55"/><circle cx="705.0" cy="456.7" r="1.55"/><circle cx="804.8" cy="464.0" r="1.55"/><circle cx="806.2" cy="478.0" r="1.55"/><circle cx="803.0" cy="485.8" r="1.55"/><circle cx="729.0" cy="488.0" r="1.55"/></g>

<!-- legend -->
<text x="225.8" y="537.7" font-size="21" font-weight="bold" textLength="97" lengthAdjust="spacingAndGlyphs">LEGENDA</text>
<text x="111.8" y="570.8" font-size="18.9" font-weight="bold" textLength="324.5" lengthAdjust="spacingAndGlyphs">Temperatura Mínima Média do Ar (ºC)</text>
<g stroke="#555" stroke-width="1">
<rect x="112.5" y="582.5" width="33" height="16" fill="#0000ff"/>
<rect x="112.5" y="606" width="33" height="16" fill="#33bfff"/>
<rect x="112.5" y="629.5" width="33" height="16" fill="#a0ff78"/>
<rect x="112.5" y="653.3" width="33" height="16" fill="#ffff00"/>
<rect x="112.5" y="677" width="33" height="16" fill="#ff0000"/>
<rect x="112.5" y="701" width="33" height="16" fill="#ffffff"/>
</g>
<g font-size="13.9">
<text x="153" y="594.8">12,20 - 17,36</text>
<text x="153" y="618.4">17,36 - 19,47</text>
<text x="153" y="642.4">19,47 - 20,34</text>
<text x="153" y="666">20,34 - 21,70</text>
<text x="153" y="689.9">21,70 - 25,00</text>
<text x="153" y="713.8">Delimitação dos Municípios de SP</text>
<text x="153" y="737.7">Postos Meteorológicos</text>
</g>
<circle cx="128" cy="733" r="1.5" fill="#000"/>

<!-- compass -->
<g transform="translate(572,652.6)">
<g stroke="#999" stroke-width="0.8">
<line x1="-14" y1="-14" x2="14" y2="14"/><line x1="-14" y1="14" x2="14" y2="-14"/>
</g>
<circle r="10.5" fill="none" stroke="#000" stroke-width="3" stroke-dasharray="4.6 3.65" stroke-dashoffset="6.4"/>
<g fill="#000">
<polygon points="0,-19 -2.8,-9 0,0"/><polygon points="0,19 2.8,9 0,0"/>
<polygon points="19,0 9,-2.8 0,0"/><polygon points="-19,0 -9,2.8 0,0"/>
</g>
<g fill="#fff" stroke="#888" stroke-width="0.6">
<polygon points="0,-19 2.8,-9 0,0"/><polygon points="0,19 -2.8,9 0,0"/>
<polygon points="19,0 9,2.8 0,0"/><polygon points="-19,0 -9,-2.8 0,0"/>
</g>
<g font-size="7" font-weight="bold" text-anchor="middle">
<text x="0" y="-20.5">N</text><text x="0" y="27.5">S</text><text x="-23" y="2.5">W</text><text x="23" y="2.5">E</text>
</g>
</g>

<!-- scale bar -->
<g font-size="11">
<text x="460" y="697.4" text-anchor="middle">0</text>
<text x="488" y="697.4" text-anchor="middle">37,5</text>
<text x="516.5" y="697.4" text-anchor="middle">75</text>
<text x="574.5" y="697.4" text-anchor="middle">150</text>
<text x="630.5" y="697.4" text-anchor="middle">225</text>
<text x="687" y="697.4" text-anchor="middle">300</text>
<text x="691.5" y="717.5" font-size="12.5">Km</text>
</g>
<g>
<rect x="460.5" y="705" width="227" height="12.5" fill="#fff" stroke="#000" stroke-width="1"/>
<g fill="#000">
<rect x="460.5" y="705" width="14" height="6.25"/><rect x="489.5" y="705" width="14" height="6.25"/><rect x="518" y="705" width="56.5" height="6.25"/><rect x="631" y="705" width="56.5" height="6.25"/>
<rect x="474.5" y="711.25" width="15" height="6.25"/><rect x="503.5" y="711.25" width="14.5" height="6.25"/><rect x="574.5" y="711.25" width="56.5" height="6.25"/>
</g>
</g>
<text x="524" y="742.6" font-size="17" fill="#222">1:5.000.000</text>

<!-- CEPA logo -->
<g font-family="Liberation Sans"><text transform="translate(782.00,581.00) skewY(-6) scale(0.640,1)" x="-3.05" y="0" font-size="61.05" font-weight="normal" fill="#262626">C</text><text transform="translate(783.00,581.00) skewY(-6) scale(0.640,1)" x="-3.05" y="0" font-size="61.05" font-weight="normal" fill="#262626">C</text><text transform="translate(784.00,581.00) skewY(-6) scale(0.640,1)" x="-3.05" y="0" font-size="61.05" font-weight="normal" fill="#262626">C</text><text transform="translate(785.00,581.00) skewY(-6) scale(0.640,1)" x="-3.05" y="0" font-size="61.05" font-weight="normal" fill="#262626">C</text><text transform="translate(786.00,581.00) skewY(-6) scale(0.640,1)" x="-3.05" y="0" font-size="61.05" font-weight="normal" fill="#262626">C</text><text transform="translate(787.00,581.00) skewY(-6) scale(0.640,1)" x="-3.05" y="0" font-size="61.05" font-weight="normal" fill="#262626">C</text><text transform="translate(788.00,581.00) skewY(-6) scale(0.640,1)" x="-3.05" y="0" font-size="61.05" font-weight="normal" fill="#262626">C</text><text transform="translate(789.00,581.00) skewY(-6) scale(0.640,1)" x="-3.05" y="0" font-size="61.05" font-weight="normal" fill="#262626">C</text><text transform="translate(785.20,578.00) skewY(-6) scale(0.640,1)" x="-3.05" y="0" font-size="61.05" font-weight="normal" fill="#225222">C</text><text transform="translate(785.80,578.38) skewY(-6) scale(0.640,1)" x="-3.05" y="0" font-size="61.05" font-weight="normal" fill="#225222">C</text><text transform="translate(786.40,578.75) skewY(-6) scale(0.640,1)" x="-3.05" y="0" font-size="61.05" font-weight="normal" fill="#225222">C</text><text transform="translate(787.00,579.12) skewY(-6) scale(0.640,1)" x="-3.05" y="0" font-size="61.05" font-weight="normal" fill="#225222">C</text><text transform="translate(787.60,579.50) skewY(-6) scale(0.640,1)" x="-3.05" y="0" font-size="61.05" font-weight="normal" fill="#225222">C</text><text transform="translate(788.20,579.88) skewY(-6) scale(0.640,1)" x="-3.05" y="0" font-size="61.05" font-weight="normal" fill="#225222">C</text><text transform="translate(788.80,580.25) skewY(-6) scale(0.640,1)" x="-3.05" y="0" font-size="61.05" font-weight="normal" fill="#225222">C</text><text transform="translate(789.40,580.62) skewY(-6) scale(0.640,1)" x="-3.05" y="0" font-size="61.05" font-weight="normal" fill="#225222">C</text><text transform="translate(790.00,581.00) skewY(-6) scale(0.640,1)" x="-3.05" y="0" font-size="61.05" font-weight="normal" fill="#3ee03e">C</text><text transform="translate(812.00,569.50) skewY(-10) scale(0.806,1)" x="-3.72" y="0" font-size="46.51" font-weight="normal" fill="#262626">E</text><text transform="translate(813.00,569.50) skewY(-10) scale(0.806,1)" x="-3.72" y="0" font-size="46.51" font-weight="normal" fill="#262626">E</text><text transform="translate(814.00,569.50) skewY(-10) scale(0.806,1)" x="-3.72" y="0" font-size="46.51" font-weight="normal" fill="#262626">E</text><text transform="translate(815.00,569.50) skewY(-10) scale(0.806,1)" x="-3.72" y="0" font-size="46.51" font-weight="normal" fill="#262626">E</text><text transform="translate(816.00,569.50) skewY(-10) scale(0.806,1)" x="-3.72" y="0" font-size="46.51" font-weight="normal" fill="#262626">E</text><text transform="translate(817.00,569.50) skewY(-10) scale(0.806,1)" x="-3.72" y="0" font-size="46.51" font-weight="normal" fill="#262626">E</text><text transform="translate(818.00,569.50) skewY(-10) scale(0.806,1)" x="-3.72" y="0" font-size="46.51" font-weight="normal" fill="#262626">E</text><text transform="translate(819.00,569.50) skewY(-10) scale(0.806,1)" x="-3.72" y="0" font-size="46.51" font-weight="normal" fill="#262626">E</text><text transform="translate(815.20,566.50) skewY(-10) scale(0.806,1)" x="-3.72" y="0" font-size="46.51" font-weight="normal" fill="#225222">E</text><text transform="translate(815.80,566.88) skewY(-10) scale(0.806,1)" x="-3.72" y="0" font-size="46.51" font-weight="normal" fill="#225222">E</text><text transform="translate(816.40,567.25) skewY(-10) scale(0.806,1)" x="-3.72" y="0" font-size="46.51" font-weight="normal" fill="#225222">E</text><text transform="translate(817.00,567.62) skewY(-10) scale(0.806,1)" x="-3.72" y="0" font-size="46.51" font-weight="normal" fill="#225222">E</text><text transform="translate(817.60,568.00) skewY(-10) scale(0.806,1)" x="-3.72" y="0" font-size="46.51" font-weight="normal" fill="#225222">E</text><text transform="translate(818.20,568.38) skewY(-10) scale(0.806,1)" x="-3.72" y="0" font-size="46.51" font-weight="normal" fill="#225222">E</text><text transform="translate(818.80,568.75) skewY(-10) scale(0.806,1)" x="-3.72" y="0" font-size="46.51" font-weight="normal" fill="#225222">E</text><text transform="translate(819.40,569.12) skewY(-10) scale(0.806,1)" x="-3.72" y="0" font-size="46.51" font-weight="normal" fill="#225222">E</text><text transform="translate(820.00,569.50) skewY(-10) scale(0.806,1)" x="-3.72" y="0" font-size="46.51" font-weight="normal" fill="#3ee03e">E</text><text transform="translate(837.00,559.00) skewY(-12) scale(0.866,1)" x="-3.02" y="0" font-size="37.79" font-weight="normal" fill="#262626">P</text><text transform="translate(838.12,559.00) skewY(-12) scale(0.866,1)" x="-3.02" y="0" font-size="37.79" font-weight="normal" fill="#262626">P</text><text transform="translate(839.25,559.00) skewY(-12) scale(0.866,1)" x="-3.02" y="0" font-size="37.79" font-weight="normal" fill="#262626">P</text><text transform="translate(840.38,559.00) skewY(-12) scale(0.866,1)" x="-3.02" y="0" font-size="37.79" font-weight="normal" fill="#262626">P</text><text transform="translate(841.50,559.00) skewY(-12) scale(0.866,1)" x="-3.02" y="0" font-size="37.79" font-weight="normal" fill="#262626">P</text><text transform="translate(842.62,559.00) skewY(-12) scale(0.866,1)" x="-3.02" y="0" font-size="37.79" font-weight="normal" fill="#262626">P</text><text transform="translate(843.75,559.00) skewY(-12) scale(0.866,1)" x="-3.02" y="0" font-size="37.79" font-weight="normal" fill="#262626">P</text><text transform="translate(844.88,559.00) skewY(-12) scale(0.866,1)" x="-3.02" y="0" font-size="37.79" font-weight="normal" fill="#262626">P</text><text transform="translate(840.60,556.00) skewY(-12) scale(0.866,1)" x="-3.02" y="0" font-size="37.79" font-weight="normal" fill="#225222">P</text><text transform="translate(841.27,556.38) skewY(-12) scale(0.866,1)" x="-3.02" y="0" font-size="37.79" font-weight="normal" fill="#225222">P</text><text transform="translate(841.95,556.75) skewY(-12) scale(0.866,1)" x="-3.02" y="0" font-size="37.79" font-weight="normal" fill="#225222">P</text><text transform="translate(842.62,557.12) skewY(-12) scale(0.866,1)" x="-3.02" y="0" font-size="37.79" font-weight="normal" fill="#225222">P</text><text transform="translate(843.30,557.50) skewY(-12) scale(0.866,1)" x="-3.02" y="0" font-size="37.79" font-weight="normal" fill="#225222">P</text><text transform="translate(843.98,557.88) skewY(-12) scale(0.866,1)" x="-3.02" y="0" font-size="37.79" font-weight="normal" fill="#225222">P</text><text transform="translate(844.65,558.25) skewY(-12) scale(0.866,1)" x="-3.02" y="0" font-size="37.79" font-weight="normal" fill="#225222">P</text><text transform="translate(845.33,558.62) skewY(-12) scale(0.866,1)" x="-3.02" y="0" font-size="37.79" font-weight="normal" fill="#225222">P</text><text transform="translate(846.00,559.00) skewY(-12) scale(0.866,1)" x="-3.02" y="0" font-size="37.79" font-weight="normal" fill="#3ee03e">P</text><text transform="translate(854.00,550.00) skewY(-8) scale(1.536,1)" x="-0.00" y="0" font-size="27.62" font-weight="normal" fill="#262626">A</text><text transform="translate(854.38,550.00) skewY(-8) scale(1.536,1)" x="-0.00" y="0" font-size="27.62" font-weight="normal" fill="#262626">A</text><text transform="translate(854.75,550.00) skewY(-8) scale(1.536,1)" x="-0.00" y="0" font-size="27.62" font-weight="normal" fill="#262626">A</text><text transform="translate(855.12,550.00) skewY(-8) scale(1.536,1)" x="-0.00" y="0" font-size="27.62" font-weight="normal" fill="#262626">A</text><text transform="translate(855.50,550.00) skewY(-8) scale(1.536,1)" x="-0.00" y="0" font-size="27.62" font-weight="normal" fill="#262626">A</text><text transform="translate(855.88,550.00) skewY(-8) scale(1.536,1)" x="-0.00" y="0" font-size="27.62" font-weight="normal" fill="#262626">A</text><text transform="translate(856.25,550.00) skewY(-8) scale(1.536,1)" x="-0.00" y="0" font-size="27.62" font-weight="normal" fill="#262626">A</text><text transform="translate(856.62,550.00) skewY(-8) scale(1.536,1)" x="-0.00" y="0" font-size="27.62" font-weight="normal" fill="#262626">A</text><text transform="translate(855.20,547.00) skewY(-8) scale(1.536,1)" x="-0.00" y="0" font-size="27.62" font-weight="normal" fill="#225222">A</text><text transform="translate(855.42,547.38) skewY(-8) scale(1.536,1)" x="-0.00" y="0" font-size="27.62" font-weight="normal" fill="#225222">A</text><text transform="translate(855.65,547.75) skewY(-8) scale(1.536,1)" x="-0.00" y="0" font-size="27.62" font-weight="normal" fill="#225222">A</text><text transform="translate(855.88,548.12) skewY(-8) scale(1.536,1)" x="-0.00" y="0" font-size="27.62" font-weight="normal" fill="#225222">A</text><text transform="translate(856.10,548.50) skewY(-8) scale(1.536,1)" x="-0.00" y="0" font-size="27.62" font-weight="normal" fill="#225222">A</text><text transform="translate(856.33,548.88) skewY(-8) scale(1.536,1)" x="-0.00" y="0" font-size="27.62" font-weight="normal" fill="#225222">A</text><text transform="translate(856.55,549.25) skewY(-8) scale(1.536,1)" x="-0.00" y="0" font-size="27.62" font-weight="normal" fill="#225222">A</text><text transform="translate(856.77,549.62) skewY(-8) scale(1.536,1)" x="-0.00" y="0" font-size="27.62" font-weight="normal" fill="#225222">A</text><text transform="translate(857.00,550.00) skewY(-8) scale(1.536,1)" x="-0.00" y="0" font-size="27.62" font-weight="normal" fill="#3ee03e">A</text></g>
<text x="751.5" y="592.5" font-size="11.5" font-weight="bold" fill="#2a7418" textLength="166.5" lengthAdjust="spacingAndGlyphs">www.cepaempresa.com.br</text>

<!-- IAC logo -->
<rect x="794.2" y="620" width="76" height="50" fill="#16168e"/>
<rect x="794.2" y="620" width="76" height="2" fill="#3030a8" opacity="0.7"/>
<rect x="794.2" y="634" width="75" height="22.8" fill="#fff"/>
<line x1="868.7" y1="634" x2="868.7" y2="656.8" stroke="#333" stroke-width="0.8"/>
<path d="M801 632.5 L820 628.5 L840 625.5 L869 621" stroke="#c8c8f0" stroke-width="1.2" fill="none" stroke-dasharray="9 4 12 3"/>
<path d="M801 658.5 L820 662 L840 665 L860 667.5" stroke="#c8c8f0" stroke-width="1.2" fill="none" stroke-dasharray="10 4 9 5"/>
<text x="799.3" y="654.9" style="font-family:'Liberation Serif',serif" font-size="29.3" font-weight="bold" textLength="68" lengthAdjust="spacingAndGlyphs">IAC</text>
<text x="765.5" y="685.9" font-size="11.5" font-weight="bold" textLength="139.2" lengthAdjust="spacingAndGlyphs">www.ciiagro.sp.gov.br</text>

<text x="750.5" y="726.8" font-size="14.2" font-weight="bold" textLength="204" lengthAdjust="spacingAndGlyphs">Fonte de dados: Ciiagro - IAC</text>
<text x="750.5" y="743.8" font-size="14.2" font-weight="bold" textLength="136.5" lengthAdjust="spacingAndGlyphs">Campinas/SP - 2008</text>
</svg>
</body></html>
